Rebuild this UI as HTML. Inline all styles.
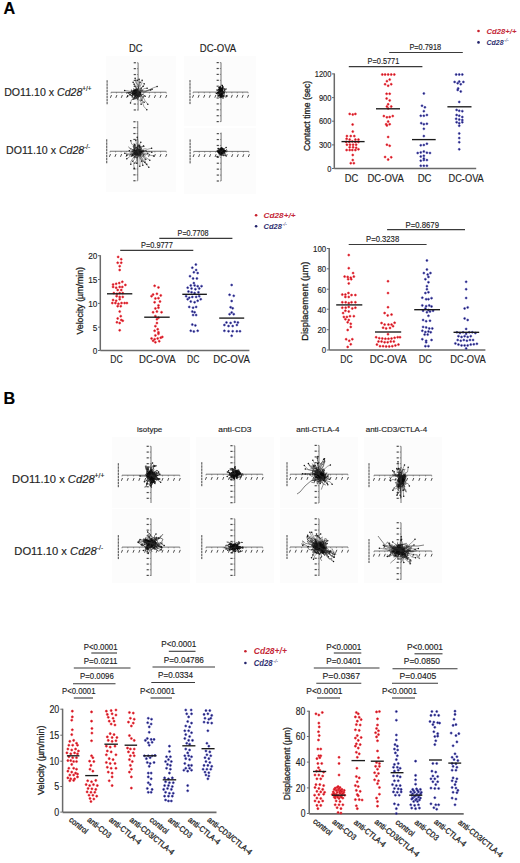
<!DOCTYPE html>
<html><head><meta charset="utf-8"><title>Figure</title>
<style>
html,body{margin:0;padding:0;background:#fff;}
body{width:520px;height:863px;overflow:hidden;}
svg{display:block;}
text{font-family:"Liberation Sans",sans-serif;stroke-width:0.15px;}
</style></head><body>
<svg width="520" height="863" viewBox="0 0 520 863" font-family="Liberation Sans, sans-serif">
<rect width="520" height="863" fill="#fff"/>
<text x="3.40" y="14.30" font-size="16.2" text-anchor="start" font-weight="bold" fill="#000" stroke="#000" >A</text>
<text x="3.50" y="403.80" font-size="16.2" text-anchor="start" font-weight="bold" fill="#000" stroke="#000" >B</text>
<text x="4.2" y="95.7" font-size="10.6" fill="#1e1e1e" stroke="#1e1e1e">DO11.10 x <tspan font-style="italic">Cd28</tspan><tspan font-size="6.36" dy="-4.45">+/+</tspan></text>
<text x="6.1" y="153.5" font-size="10.6" fill="#1e1e1e" stroke="#1e1e1e">DO11.10 x <tspan font-style="italic">Cd28</tspan><tspan font-size="6.36" dy="-4.45">-/-</tspan></text>
<text x="12.1" y="482.6" font-size="11.2" fill="#1e1e1e" stroke="#1e1e1e">DO11.10 x <tspan font-style="italic">Cd28</tspan><tspan font-size="6.72" dy="-4.70">+/+</tspan></text>
<text x="14.3" y="554.8" font-size="11.2" fill="#1e1e1e" stroke="#1e1e1e">DO11.10 x <tspan font-style="italic">Cd28</tspan><tspan font-size="6.72" dy="-4.70">-/-</tspan></text>
<text x="128.90" y="52.00" font-size="10.4" text-anchor="start" fill="#1e1e1e" stroke="#1e1e1e" textLength="13.50" lengthAdjust="spacingAndGlyphs" >DC</text>
<text x="199.80" y="52.00" font-size="10.4" text-anchor="start" fill="#1e1e1e" stroke="#1e1e1e" textLength="36.40" lengthAdjust="spacingAndGlyphs" >DC-OVA</text>
<text x="137.10" y="432.00" font-size="8" text-anchor="start" fill="#1e1e1e" stroke="#1e1e1e" textLength="25.20" lengthAdjust="spacingAndGlyphs" >isotype</text>
<text x="218.20" y="432.30" font-size="8" text-anchor="start" fill="#1e1e1e" stroke="#1e1e1e" textLength="33.30" lengthAdjust="spacingAndGlyphs" >anti-CD3</text>
<text x="296.30" y="432.30" font-size="8" text-anchor="start" fill="#1e1e1e" stroke="#1e1e1e" textLength="43.10" lengthAdjust="spacingAndGlyphs" >anti-CTLA-4</text>
<text x="365.70" y="432.30" font-size="8" text-anchor="start" fill="#1e1e1e" stroke="#1e1e1e" textLength="61.40" lengthAdjust="spacingAndGlyphs" >anti-CD3/CTLA-4</text>
<rect x="106" y="56" width="70" height="60" fill="#fcfcfc"/>
<rect x="184" y="56" width="72" height="70" fill="#fcfcfc"/>
<rect x="106" y="116" width="70" height="76" fill="#fcfcfc"/>
<rect x="184" y="128" width="72" height="66" fill="#fcfcfc"/>
<g fill="none" stroke="#111" stroke-width="0.6"><line x1="138.1" y1="62.75" x2="138.1" y2="110.6" stroke="#666" stroke-width="0.9"/>
<line x1="111" y1="92.25" x2="166.25" y2="92.25" stroke="#666" stroke-width="0.9"/>
<line x1="136.9" y1="62.75" x2="138.1" y2="62.75" stroke="#555" stroke-width="0.6"/>
<rect x="133.70" y="62.15" width="2.2" height="1.2" fill="#4a4a4a" stroke="none"/>
<line x1="136.9" y1="68.65" x2="138.1" y2="68.65" stroke="#555" stroke-width="0.6"/>
<rect x="133.70" y="68.05" width="2.2" height="1.2" fill="#4a4a4a" stroke="none"/>
<line x1="136.9" y1="74.55" x2="138.1" y2="74.55" stroke="#555" stroke-width="0.6"/>
<rect x="133.70" y="73.95" width="2.2" height="1.2" fill="#4a4a4a" stroke="none"/>
<line x1="136.9" y1="80.45" x2="138.1" y2="80.45" stroke="#555" stroke-width="0.6"/>
<rect x="133.70" y="79.85" width="2.2" height="1.2" fill="#4a4a4a" stroke="none"/>
<line x1="136.9" y1="86.35" x2="138.1" y2="86.35" stroke="#555" stroke-width="0.6"/>
<rect x="133.70" y="85.75" width="2.2" height="1.2" fill="#4a4a4a" stroke="none"/>
<line x1="136.9" y1="98.15" x2="138.1" y2="98.15" stroke="#555" stroke-width="0.6"/>
<rect x="133.70" y="97.55" width="2.2" height="1.2" fill="#4a4a4a" stroke="none"/>
<line x1="136.9" y1="104.05" x2="138.1" y2="104.05" stroke="#555" stroke-width="0.6"/>
<rect x="133.70" y="103.45" width="2.2" height="1.2" fill="#4a4a4a" stroke="none"/>
<line x1="136.9" y1="109.95" x2="138.1" y2="109.95" stroke="#555" stroke-width="0.6"/>
<rect x="133.70" y="109.35" width="2.2" height="1.2" fill="#4a4a4a" stroke="none"/>
<line x1="143.73" y1="92.25" x2="143.73" y2="93.45" stroke="#555" stroke-width="0.6"/>
<line x1="143.13" y1="97.85" x2="144.23" y2="95.05" stroke="#444" stroke-width="0.95"/>
<line x1="132.68" y1="92.25" x2="132.68" y2="93.45" stroke="#555" stroke-width="0.6"/>
<line x1="132.08" y1="97.85" x2="133.18" y2="95.05" stroke="#444" stroke-width="0.95"/>
<line x1="149.36" y1="92.25" x2="149.36" y2="93.45" stroke="#555" stroke-width="0.6"/>
<line x1="148.76" y1="97.85" x2="149.86" y2="95.05" stroke="#444" stroke-width="0.95"/>
<line x1="127.26" y1="92.25" x2="127.26" y2="93.45" stroke="#555" stroke-width="0.6"/>
<line x1="126.66" y1="97.85" x2="127.76" y2="95.05" stroke="#444" stroke-width="0.95"/>
<line x1="154.99" y1="92.25" x2="154.99" y2="93.45" stroke="#555" stroke-width="0.6"/>
<line x1="154.39" y1="97.85" x2="155.49" y2="95.05" stroke="#444" stroke-width="0.95"/>
<line x1="121.84" y1="92.25" x2="121.84" y2="93.45" stroke="#555" stroke-width="0.6"/>
<line x1="121.24" y1="97.85" x2="122.34" y2="95.05" stroke="#444" stroke-width="0.95"/>
<line x1="160.62" y1="92.25" x2="160.62" y2="93.45" stroke="#555" stroke-width="0.6"/>
<line x1="160.02" y1="97.85" x2="161.12" y2="95.05" stroke="#444" stroke-width="0.95"/>
<line x1="116.42" y1="92.25" x2="116.42" y2="93.45" stroke="#555" stroke-width="0.6"/>
<line x1="115.82" y1="97.85" x2="116.92" y2="95.05" stroke="#444" stroke-width="0.95"/>
<line x1="166.25" y1="92.25" x2="166.25" y2="93.45" stroke="#555" stroke-width="0.6"/>
<line x1="165.65" y1="97.85" x2="166.75" y2="95.05" stroke="#444" stroke-width="0.95"/>
<line x1="111.00" y1="92.25" x2="111.00" y2="93.45" stroke="#555" stroke-width="0.6"/>
<line x1="110.40" y1="97.85" x2="111.50" y2="95.05" stroke="#444" stroke-width="0.95"/>
<line x1="107.10" y1="80.25" x2="107.10" y2="104.25" stroke="#444" stroke-width="1.0" stroke-dasharray="2.5 0.6"/>
<g stroke="#0a0a0a" stroke-width="0.7"><polyline points="137.0,94.3 137.2,92.6 137.1,94.3 135.3,94.3 133.6,94.9 132.6,93.5 133.0,91.8"/><polyline points="135.8,92.9 136.7,91.4 135.1,92.1 135.2,90.4 137.0,90.4 135.3,91.0 135.0,89.3"/><polyline points="136.0,95.3 137.4,94.3 139.2,94.6 141.0,94.9 139.2,94.4 140.9,93.8 139.6,94.9"/><polyline points="135.8,93.8 137.6,94.1 137.9,95.8 136.3,96.5 134.5,96.5 134.7,98.2 134.9,99.9"/><polyline points="135.8,93.9 135.4,95.6 137.2,95.8 138.1,94.3 136.4,93.7 135.3,92.4 136.0,94.0"/><polyline points="137.8,92.7 139.1,93.8 138.2,95.3 137.9,93.6 137.4,92.0 139.1,91.3 137.5,92.1"/><polyline points="136.4,91.4 135.8,93.0 134.3,92.1 135.6,90.9 136.6,89.5 134.8,89.5 133.3,88.6"/><polyline points="136.4,92.9 136.9,91.3 135.4,92.2 136.2,93.7 134.5,93.2 134.0,91.5 133.2,90.0"/><polyline points="134.8,93.5 133.0,93.5 133.3,91.8 131.5,91.5 130.1,92.6 128.3,92.7 130.1,93.0"/><polyline points="137.3,93.2 139.0,93.0 137.5,92.1 136.1,93.1 137.0,94.6 135.2,94.6 137.0,94.4"/><polyline points="135.8,91.5 136.9,90.1 137.1,91.8 135.3,91.7 137.1,91.2 135.5,90.4 133.7,90.8"/><polyline points="135.4,94.1 137.2,93.6 139.0,93.7 139.3,92.0 140.1,90.4 141.5,89.3 141.4,87.6"/><polyline points="136.1,91.6 134.4,90.9 132.8,91.7 134.5,92.3 135.7,91.0 134.1,90.3 134.7,91.9"/><polyline points="134.3,92.7 133.2,94.1 132.2,95.5 130.4,95.1 129.2,93.9 127.8,92.7 126.0,93.2"/><polyline points="136.4,92.9 137.2,94.4 135.6,93.6 136.8,92.2 137.3,90.6 137.8,89.0 138.6,87.4"/><polyline points="135.5,94.8 134.7,93.2 136.3,94.1 138.0,94.3 139.8,94.4 139.9,92.7 139.9,94.4"/><polyline points="136.8,93.7 135.8,95.1 137.4,95.8 138.4,97.3 136.6,97.0 137.5,98.5 137.2,100.2"/><polyline points="135.3,91.6 134.5,93.2 132.7,93.5 134.5,93.7 133.2,94.8 131.6,95.6 132.3,97.2"/><polyline points="137.4,94.2 135.6,94.1 136.1,95.7 134.7,94.7 135.4,93.1 137.2,93.3 139.0,93.5"/><polyline points="136.7,94.1 137.6,95.5 137.1,93.9 136.3,92.3 134.6,91.9 134.9,93.6 136.7,93.3"/><polyline points="136.0,91.5 136.3,93.2 135.2,91.9 133.8,92.9 132.2,92.1 131.4,93.7 130.2,92.4"/><polyline points="136.5,93.1 138.2,92.7 139.5,91.5 138.9,93.1 140.0,91.8 139.4,93.4 141.0,92.7"/><polyline points="135.6,91.7 135.5,93.4 137.3,93.5 138.6,92.3 140.4,92.7 141.1,91.1 142.9,90.7"/><polyline points="135.0,92.5 136.2,91.2 138.0,90.9 137.5,89.3 135.7,89.2 134.4,90.4 133.3,91.8"/><polyline points="136.1,94.3 134.4,95.0 135.0,96.6 136.5,97.6 135.5,96.1 135.0,97.8 133.2,97.8"/><polyline points="134.6,94.6 136.0,93.6 137.8,93.8 138.4,95.5 137.5,97.0 139.3,96.8 139.7,95.2"/><polyline points="135.2,93.4 134.4,91.8 135.3,90.4 137.0,89.7 136.0,91.1 137.3,89.9 136.6,88.4"/><polyline points="132.4,93.0 132.6,94.8 132.3,93.1 133.9,93.9 134.7,95.4 136.3,94.5 136.7,96.2"/><polyline points="135.7,91.3 136.7,89.9 135.4,91.2 134.5,92.6 134.0,94.3 135.2,93.0 133.8,91.9"/><polyline points="137.8,92.1 139.0,93.4 137.3,92.9 138.7,93.9 140.5,94.3 142.1,95.1 143.3,93.8"/><polyline points="136.1,90.8 135.1,92.3 133.8,91.1 134.1,89.5 132.8,90.7 131.2,89.9 131.5,91.6"/><polyline points="136.4,93.2 137.7,92.1 136.1,91.4 137.7,90.6 136.0,91.1 135.7,92.8 136.1,91.1"/><polyline points="135.7,92.6 134.8,91.1 136.3,92.0 137.7,93.2 139.0,92.0 140.8,92.5 140.9,94.2"/><polyline points="136.7,92.7 138.1,93.8 139.0,95.3 139.1,97.0 139.0,95.3 140.5,96.3 142.0,95.4"/></g>
<polyline points="138.1,92.2 135.8,90.2 137.2,84.9 135.8,82.7 135.1,78.2" stroke="#2a2a2a" stroke-width="0.45"/>
<circle cx="135.1" cy="78.2" r="0.75" fill="#111" stroke="none"/>
<polyline points="138.1,92.2 140.0,89.9 140.2,86.3 141.8,83.2 142.1,80.2" stroke="#2a2a2a" stroke-width="0.45"/>
<circle cx="142.1" cy="80.2" r="0.75" fill="#111" stroke="none"/>
<polyline points="138.1,92.2 138.9,89.6 141.0,88.3 144.4,84.8 144.1,83.8" stroke="#2a2a2a" stroke-width="0.45"/>
<circle cx="144.1" cy="83.8" r="0.75" fill="#111" stroke="none"/>
<polyline points="138.1,92.2 143.2,90.8 147.8,90.5 153.3,87.8 157.1,86.5" stroke="#2a2a2a" stroke-width="0.45"/>
<circle cx="157.1" cy="86.5" r="0.75" fill="#111" stroke="none"/>
<polyline points="138.1,92.2 140.8,90.6 144.3,92.1 147.3,91.1 150.7,90.0" stroke="#2a2a2a" stroke-width="0.45"/>
<circle cx="150.7" cy="90.0" r="0.75" fill="#111" stroke="none"/>
<polyline points="138.1,92.2 141.1,95.6 143.8,98.2 144.7,100.3 147.8,104.2" stroke="#2a2a2a" stroke-width="0.45"/>
<circle cx="147.8" cy="104.2" r="0.75" fill="#111" stroke="none"/>
<polyline points="138.1,92.2 141.0,96.3 142.2,101.6 144.0,106.7 146.8,109.7" stroke="#2a2a2a" stroke-width="0.45"/>
<circle cx="146.8" cy="109.7" r="0.75" fill="#111" stroke="none"/>
<polyline points="138.1,92.2 136.7,94.5 133.8,98.5 131.5,99.8 130.5,103.0" stroke="#2a2a2a" stroke-width="0.45"/>
<circle cx="130.5" cy="103.0" r="0.75" fill="#111" stroke="none"/>
<polyline points="138.1,92.2 134.8,92.0 131.4,91.7 127.8,90.8 124.7,90.5" stroke="#2a2a2a" stroke-width="0.45"/>
<circle cx="124.7" cy="90.5" r="0.75" fill="#111" stroke="none"/>
<polyline points="138.1,92.2 136.5,93.8 132.5,95.6 128.6,95.3 127.6,96.2" stroke="#2a2a2a" stroke-width="0.45"/>
<circle cx="127.6" cy="96.2" r="0.75" fill="#111" stroke="none"/>
<polyline points="138.1,92.2 137.4,90.5 135.7,86.9 134.8,84.6 133.1,82.2" stroke="#2a2a2a" stroke-width="0.45"/>
<circle cx="133.1" cy="82.2" r="0.75" fill="#111" stroke="none"/>
<polyline points="138.1,92.2 138.7,86.7 138.9,85.1 139.6,83.1 139.1,79.2" stroke="#2a2a2a" stroke-width="0.45"/>
<circle cx="139.1" cy="79.2" r="0.75" fill="#111" stroke="none"/>
<polyline points="138.1,92.2 139.4,93.9 139.9,96.0 140.5,98.1 141.1,100.2" stroke="#2a2a2a" stroke-width="0.45"/>
<circle cx="141.1" cy="100.2" r="0.75" fill="#111" stroke="none"/>
<polyline points="138.1,92.2 136.9,95.3 137.7,93.6 137.3,95.6 136.1,98.2" stroke="#2a2a2a" stroke-width="0.45"/>
<circle cx="136.1" cy="98.2" r="0.75" fill="#111" stroke="none"/>
<polyline points="138.1,92.2 139.7,92.8 141.2,94.4 143.1,94.1 145.1,96.2" stroke="#2a2a2a" stroke-width="0.45"/>
<circle cx="145.1" cy="96.2" r="0.75" fill="#111" stroke="none"/>
<polyline points="138.1,92.2 137.8,89.5 139.0,85.9 136.4,82.9 137.1,80.2" stroke="#2a2a2a" stroke-width="0.45"/>
<circle cx="137.1" cy="80.2" r="0.75" fill="#111" stroke="none"/>
<polyline points="138.1,92.2 139.1,89.0 138.5,87.7 139.6,84.9 140.1,82.2" stroke="#2a2a2a" stroke-width="0.45"/>
<circle cx="140.1" cy="82.2" r="0.75" fill="#111" stroke="none"/>
<polyline points="138.1,92.2 136.6,89.6 135.8,88.1 134.8,86.6 134.1,84.2" stroke="#2a2a2a" stroke-width="0.45"/>
<circle cx="134.1" cy="84.2" r="0.75" fill="#111" stroke="none"/>
<polyline points="138.1,92.2 139.8,91.2 141.0,88.5 141.0,88.4 143.1,86.2" stroke="#2a2a2a" stroke-width="0.45"/>
<circle cx="143.1" cy="86.2" r="0.75" fill="#111" stroke="none"/>
<polyline points="138.1,92.2 140.4,91.3 141.7,90.1 144.3,88.6 147.1,88.2" stroke="#2a2a2a" stroke-width="0.45"/>
<circle cx="147.1" cy="88.2" r="0.75" fill="#111" stroke="none"/>
<polyline points="138.1,92.2 141.1,90.3 145.2,91.7 148.0,90.1 152.1,89.2" stroke="#2a2a2a" stroke-width="0.45"/>
<circle cx="152.1" cy="89.2" r="0.75" fill="#111" stroke="none"/>
<polyline points="138.1,92.2 138.7,95.3 142.6,96.3 142.4,100.9 144.1,102.2" stroke="#2a2a2a" stroke-width="0.45"/>
<circle cx="144.1" cy="102.2" r="0.75" fill="#111" stroke="none"/>
<polyline points="138.1,92.2 139.1,95.3 138.0,98.1 141.1,102.4 141.1,104.2" stroke="#2a2a2a" stroke-width="0.45"/>
<circle cx="141.1" cy="104.2" r="0.75" fill="#111" stroke="none"/>
<polyline points="138.1,92.2 137.4,93.5 135.1,94.3 133.5,98.4 133.1,99.2" stroke="#2a2a2a" stroke-width="0.45"/>
<circle cx="133.1" cy="99.2" r="0.75" fill="#111" stroke="none"/>
<polyline points="138.1,92.2 136.0,91.7 135.2,91.9 133.1,93.5 130.1,94.2" stroke="#2a2a2a" stroke-width="0.45"/>
<circle cx="130.1" cy="94.2" r="0.75" fill="#111" stroke="none"/></g>
<g fill="none" stroke="#111" stroke-width="0.6"><line x1="221" y1="62.5" x2="221" y2="121.8" stroke="#666" stroke-width="0.9"/>
<line x1="193.1" y1="92.1" x2="248.1" y2="92.1" stroke="#666" stroke-width="0.9"/>
<line x1="219.8" y1="62.60" x2="221" y2="62.60" stroke="#555" stroke-width="0.6"/>
<rect x="216.60" y="62.00" width="2.2" height="1.2" fill="#4a4a4a" stroke="none"/>
<line x1="219.8" y1="68.50" x2="221" y2="68.50" stroke="#555" stroke-width="0.6"/>
<rect x="216.60" y="67.90" width="2.2" height="1.2" fill="#4a4a4a" stroke="none"/>
<line x1="219.8" y1="74.40" x2="221" y2="74.40" stroke="#555" stroke-width="0.6"/>
<rect x="216.60" y="73.80" width="2.2" height="1.2" fill="#4a4a4a" stroke="none"/>
<line x1="219.8" y1="80.30" x2="221" y2="80.30" stroke="#555" stroke-width="0.6"/>
<rect x="216.60" y="79.70" width="2.2" height="1.2" fill="#4a4a4a" stroke="none"/>
<line x1="219.8" y1="86.20" x2="221" y2="86.20" stroke="#555" stroke-width="0.6"/>
<rect x="216.60" y="85.60" width="2.2" height="1.2" fill="#4a4a4a" stroke="none"/>
<line x1="219.8" y1="98.00" x2="221" y2="98.00" stroke="#555" stroke-width="0.6"/>
<rect x="216.60" y="97.40" width="2.2" height="1.2" fill="#4a4a4a" stroke="none"/>
<line x1="219.8" y1="103.90" x2="221" y2="103.90" stroke="#555" stroke-width="0.6"/>
<rect x="216.60" y="103.30" width="2.2" height="1.2" fill="#4a4a4a" stroke="none"/>
<line x1="219.8" y1="109.80" x2="221" y2="109.80" stroke="#555" stroke-width="0.6"/>
<rect x="216.60" y="109.20" width="2.2" height="1.2" fill="#4a4a4a" stroke="none"/>
<line x1="219.8" y1="115.70" x2="221" y2="115.70" stroke="#555" stroke-width="0.6"/>
<rect x="216.60" y="115.10" width="2.2" height="1.2" fill="#4a4a4a" stroke="none"/>
<line x1="219.8" y1="121.60" x2="221" y2="121.60" stroke="#555" stroke-width="0.6"/>
<rect x="216.60" y="121.00" width="2.2" height="1.2" fill="#4a4a4a" stroke="none"/>
<line x1="226.42" y1="92.1" x2="226.42" y2="93.3" stroke="#555" stroke-width="0.6"/>
<line x1="225.82" y1="97.70" x2="226.92" y2="94.90" stroke="#444" stroke-width="0.95"/>
<line x1="215.42" y1="92.1" x2="215.42" y2="93.3" stroke="#555" stroke-width="0.6"/>
<line x1="214.82" y1="97.70" x2="215.92" y2="94.90" stroke="#444" stroke-width="0.95"/>
<line x1="231.84" y1="92.1" x2="231.84" y2="93.3" stroke="#555" stroke-width="0.6"/>
<line x1="231.24" y1="97.70" x2="232.34" y2="94.90" stroke="#444" stroke-width="0.95"/>
<line x1="209.84" y1="92.1" x2="209.84" y2="93.3" stroke="#555" stroke-width="0.6"/>
<line x1="209.24" y1="97.70" x2="210.34" y2="94.90" stroke="#444" stroke-width="0.95"/>
<line x1="237.26" y1="92.1" x2="237.26" y2="93.3" stroke="#555" stroke-width="0.6"/>
<line x1="236.66" y1="97.70" x2="237.76" y2="94.90" stroke="#444" stroke-width="0.95"/>
<line x1="204.26" y1="92.1" x2="204.26" y2="93.3" stroke="#555" stroke-width="0.6"/>
<line x1="203.66" y1="97.70" x2="204.76" y2="94.90" stroke="#444" stroke-width="0.95"/>
<line x1="242.68" y1="92.1" x2="242.68" y2="93.3" stroke="#555" stroke-width="0.6"/>
<line x1="242.08" y1="97.70" x2="243.18" y2="94.90" stroke="#444" stroke-width="0.95"/>
<line x1="198.68" y1="92.1" x2="198.68" y2="93.3" stroke="#555" stroke-width="0.6"/>
<line x1="198.08" y1="97.70" x2="199.18" y2="94.90" stroke="#444" stroke-width="0.95"/>
<line x1="248.10" y1="92.1" x2="248.10" y2="93.3" stroke="#555" stroke-width="0.6"/>
<line x1="247.50" y1="97.70" x2="248.60" y2="94.90" stroke="#444" stroke-width="0.95"/>
<line x1="193.10" y1="92.1" x2="193.10" y2="93.3" stroke="#555" stroke-width="0.6"/>
<line x1="192.50" y1="97.70" x2="193.60" y2="94.90" stroke="#444" stroke-width="0.95"/>
<line x1="190.00" y1="80.10" x2="190.00" y2="104.10" stroke="#444" stroke-width="1.0" stroke-dasharray="2.5 0.6"/>
<g stroke="#0a0a0a" stroke-width="1.0"><polyline points="222.4,91.5 223.3,92.1 224.2,92.9 224.8,91.5 224.7,89.8 224.2,88.3"/><polyline points="220.7,93.3 219.9,92.3 219.0,91.4 219.6,92.8 218.6,93.6 217.8,94.6"/><polyline points="220.7,89.1 221.7,88.6 220.7,88.1 219.7,88.7 219.6,90.3 220.6,90.7"/><polyline points="221.6,92.3 221.2,93.8 220.4,95.0 221.3,93.9 220.2,93.6 219.3,93.0"/><polyline points="221.0,92.3 220.5,93.8 221.2,95.1 220.2,95.0 221.2,95.0 220.7,93.5"/><polyline points="221.5,93.9 221.8,92.3 221.7,90.6 222.6,89.7 222.7,88.0 222.9,86.4"/><polyline points="220.0,94.2 221.0,93.8 221.6,95.2 221.6,93.6 221.4,91.9 220.4,92.3"/><polyline points="220.3,91.9 221.3,91.1 220.2,91.1 220.7,89.6 220.1,91.0 220.9,89.9"/><polyline points="221.5,91.5 220.6,90.8 221.5,90.0 221.3,88.3 220.3,88.5 220.5,90.1"/><polyline points="220.6,93.4 221.1,94.9 222.0,93.9 221.9,95.6 222.7,94.7 222.4,96.3"/><polyline points="221.9,91.7 220.8,91.7 219.8,91.5 219.2,90.1 218.3,89.2 217.9,90.8"/><polyline points="221.2,93.2 222.1,92.5 221.4,91.3 222.3,92.1 222.8,90.6 222.6,88.9"/><polyline points="221.3,91.8 221.3,90.1 222.2,90.7 221.7,89.3 221.5,91.0 221.7,92.6"/><polyline points="221.2,91.8 220.2,91.5 220.8,90.2 220.8,91.9 221.1,93.5 221.8,92.4"/><polyline points="220.2,92.8 221.2,93.1 220.5,94.4 221.0,95.9 220.5,94.4 221.4,95.3"/><polyline points="221.1,92.0 221.0,90.4 222.0,90.6 222.0,92.3 222.4,90.7 223.0,92.1"/><polyline points="221.4,93.4 220.6,94.5 221.6,95.0 222.6,94.9 223.2,96.3 224.2,96.6"/><polyline points="220.6,93.2 220.5,91.5 221.3,92.6 220.7,94.0 221.8,94.4 220.8,94.9"/><polyline points="221.1,90.6 221.9,89.6 222.0,87.9 222.7,86.6 222.4,85.0 221.3,85.3"/><polyline points="221.1,93.5 220.7,95.0 221.5,96.0 220.6,96.6 221.3,95.4 222.0,96.6"/><polyline points="220.5,91.6 219.5,91.5 220.1,92.8 221.1,92.4 221.1,94.1 220.2,93.0"/><polyline points="220.9,92.2 219.9,91.6 220.6,92.9 221.6,93.5 222.6,93.8 223.1,95.3"/><polyline points="221.7,92.9 220.6,92.8 221.7,92.6 222.6,91.9 223.7,91.9 223.8,93.5"/><polyline points="220.6,92.3 219.7,91.4 219.0,90.2 219.3,88.6 219.0,87.0 219.0,88.7"/><polyline points="220.4,92.6 221.4,92.7 222.4,93.1 221.5,94.0 222.3,95.1 222.2,93.4"/><polyline points="221.0,92.5 221.4,94.1 221.6,95.7 221.8,97.4 220.7,97.2 219.7,97.5"/><polyline points="220.7,93.4 220.9,95.0 221.8,94.1 222.8,93.7 222.7,92.0 221.7,92.7"/><polyline points="220.2,92.0 221.2,92.5 220.3,93.4 219.3,93.1 219.7,94.6 220.6,95.6"/><polyline points="221.2,91.2 220.1,91.0 221.1,90.2 220.3,89.2 220.0,90.8 221.0,90.6"/><polyline points="220.9,92.2 220.5,90.7 221.3,91.7 221.0,93.3 221.5,91.8 221.1,90.4"/><polyline points="221.6,92.2 220.8,93.1 219.7,93.2 220.0,94.9 219.1,94.0 220.0,94.7"/><polyline points="220.9,93.0 221.8,92.3 222.8,93.1 222.8,91.4 223.2,93.0 222.2,92.3"/><polyline points="220.5,92.8 220.5,91.1 219.7,92.1 220.4,93.3 221.2,94.4 222.1,95.3"/><polyline points="221.5,91.0 222.5,90.6 222.1,89.0 223.2,89.3 222.6,87.9 222.8,86.2"/><polyline points="220.9,91.0 220.2,92.3 219.2,92.8 219.6,91.2 219.4,92.8 218.4,92.6"/><polyline points="219.6,92.4 219.9,90.8 220.9,90.1 221.4,88.7 221.1,90.3 221.2,92.0"/><polyline points="220.6,92.2 219.6,92.9 219.2,91.4 220.1,90.5 219.2,89.7 219.6,88.1"/><polyline points="221.4,92.6 222.5,92.6 223.1,93.9 222.2,94.8 223.2,95.4 224.1,96.3"/><polyline points="222.4,90.4 221.8,89.0 222.5,90.2 222.2,91.9 222.3,93.5 221.8,92.1"/><polyline points="220.7,91.2 219.7,90.9 220.5,92.0 219.5,91.6 220.5,91.1 220.5,89.4"/><polyline points="221.6,92.7 221.4,91.1 221.3,92.8 222.1,91.7 221.1,92.2 220.8,90.5"/><polyline points="219.4,93.8 219.7,92.2 218.7,91.4 219.4,92.8 218.4,93.4 219.4,93.7"/><polyline points="220.0,91.0 220.4,92.5 219.4,92.4 218.4,92.6 217.5,93.6 217.3,91.9"/><polyline points="221.8,91.5 220.8,91.8 221.8,91.4 221.3,92.9 221.3,91.2 220.7,89.8"/><polyline points="221.1,90.3 221.2,91.9 220.5,90.8 219.6,91.7 219.1,90.3 220.2,90.0"/><polyline points="220.9,92.0 219.9,92.4 219.7,90.7 220.5,89.6 219.8,88.2 220.3,86.7"/><polyline points="222.4,92.3 222.2,90.7 221.4,89.6 222.3,88.7 223.1,87.6 223.9,88.6"/><polyline points="221.4,90.6 221.7,92.2 221.7,90.5 220.8,89.7 221.2,91.2 221.5,89.7"/><polyline points="221.5,93.1 220.6,93.8 220.5,95.4 219.6,94.8 218.6,95.1 218.9,96.7"/><polyline points="221.2,92.0 222.3,92.1 221.2,92.2 221.8,90.8 221.2,89.4 221.2,87.7"/><polyline points="220.1,92.2 219.6,93.7 219.5,95.4 218.5,95.3 219.5,95.6 220.4,96.4"/><polyline points="221.0,91.5 221.0,89.8 221.2,88.2 220.4,89.1 219.9,87.6 220.1,86.0"/><polyline points="221.2,91.7 221.7,93.2 221.0,94.3 220.0,94.7 219.7,96.3 220.7,96.4"/><polyline points="219.6,91.2 218.9,92.5 217.9,92.1 217.1,93.2 216.1,93.8 216.9,92.6"/><polyline points="220.7,93.4 219.7,93.5 218.7,93.1 219.6,92.3 220.5,93.1 220.9,91.6"/><polyline points="220.7,93.4 221.0,91.8 220.4,90.4 219.6,91.4 220.2,90.0 221.0,90.9"/><polyline points="220.6,91.4 219.6,91.1 220.2,89.7 220.5,88.1 219.8,86.9 219.4,88.5"/><polyline points="221.1,93.1 221.2,94.8 221.0,96.5 222.0,96.0 222.8,97.1 223.2,95.6"/><polyline points="220.6,92.7 220.2,94.3 221.1,95.0 220.1,95.5 220.6,96.9 219.6,97.5"/><polyline points="220.7,94.0 221.6,93.2 220.6,93.8 220.0,92.5 220.9,91.8 220.4,93.3"/></g>
<polyline points="221.0,92.1 222.7,91.7 223.9,91.7 224.2,90.4 226.0,89.1" stroke="#2a2a2a" stroke-width="0.6"/>
<circle cx="226.0" cy="89.1" r="0.75" fill="#111" stroke="none"/>
<polyline points="221.0,92.1 222.7,92.5 224.4,93.0 224.3,96.0 227.0,96.1" stroke="#2a2a2a" stroke-width="0.6"/>
<circle cx="227.0" cy="96.1" r="0.75" fill="#111" stroke="none"/>
<polyline points="221.0,92.1 219.4,94.5 220.3,93.7 218.0,93.3 218.0,96.1" stroke="#2a2a2a" stroke-width="0.6"/>
<circle cx="218.0" cy="96.1" r="0.75" fill="#111" stroke="none"/>
<polyline points="221.0,92.1 221.4,92.3 223.3,93.7 222.5,94.4 223.0,98.1" stroke="#2a2a2a" stroke-width="0.6"/>
<circle cx="223.0" cy="98.1" r="0.75" fill="#111" stroke="none"/>
<polyline points="221.0,92.1 219.7,92.7 218.6,90.4 217.6,90.9 217.0,90.1" stroke="#2a2a2a" stroke-width="0.6"/>
<circle cx="217.0" cy="90.1" r="0.75" fill="#111" stroke="none"/></g>
<g fill="none" stroke="#111" stroke-width="0.6"><line x1="137.75" y1="121.25" x2="137.75" y2="180.6" stroke="#666" stroke-width="0.9"/>
<line x1="110" y1="151.25" x2="166.25" y2="151.25" stroke="#666" stroke-width="0.9"/>
<line x1="136.55" y1="121.75" x2="137.75" y2="121.75" stroke="#555" stroke-width="0.6"/>
<rect x="133.35" y="121.15" width="2.2" height="1.2" fill="#4a4a4a" stroke="none"/>
<line x1="136.55" y1="127.65" x2="137.75" y2="127.65" stroke="#555" stroke-width="0.6"/>
<rect x="133.35" y="127.05" width="2.2" height="1.2" fill="#4a4a4a" stroke="none"/>
<line x1="136.55" y1="133.55" x2="137.75" y2="133.55" stroke="#555" stroke-width="0.6"/>
<rect x="133.35" y="132.95" width="2.2" height="1.2" fill="#4a4a4a" stroke="none"/>
<line x1="136.55" y1="139.45" x2="137.75" y2="139.45" stroke="#555" stroke-width="0.6"/>
<rect x="133.35" y="138.85" width="2.2" height="1.2" fill="#4a4a4a" stroke="none"/>
<line x1="136.55" y1="145.35" x2="137.75" y2="145.35" stroke="#555" stroke-width="0.6"/>
<rect x="133.35" y="144.75" width="2.2" height="1.2" fill="#4a4a4a" stroke="none"/>
<line x1="136.55" y1="157.15" x2="137.75" y2="157.15" stroke="#555" stroke-width="0.6"/>
<rect x="133.35" y="156.55" width="2.2" height="1.2" fill="#4a4a4a" stroke="none"/>
<line x1="136.55" y1="163.05" x2="137.75" y2="163.05" stroke="#555" stroke-width="0.6"/>
<rect x="133.35" y="162.45" width="2.2" height="1.2" fill="#4a4a4a" stroke="none"/>
<line x1="136.55" y1="168.95" x2="137.75" y2="168.95" stroke="#555" stroke-width="0.6"/>
<rect x="133.35" y="168.35" width="2.2" height="1.2" fill="#4a4a4a" stroke="none"/>
<line x1="136.55" y1="174.85" x2="137.75" y2="174.85" stroke="#555" stroke-width="0.6"/>
<rect x="133.35" y="174.25" width="2.2" height="1.2" fill="#4a4a4a" stroke="none"/>
<line x1="136.55" y1="180.75" x2="137.75" y2="180.75" stroke="#555" stroke-width="0.6"/>
<rect x="133.35" y="180.15" width="2.2" height="1.2" fill="#4a4a4a" stroke="none"/>
<line x1="143.45" y1="151.25" x2="143.45" y2="152.45" stroke="#555" stroke-width="0.6"/>
<line x1="142.85" y1="156.85" x2="143.95" y2="154.05" stroke="#444" stroke-width="0.95"/>
<line x1="132.20" y1="151.25" x2="132.20" y2="152.45" stroke="#555" stroke-width="0.6"/>
<line x1="131.60" y1="156.85" x2="132.70" y2="154.05" stroke="#444" stroke-width="0.95"/>
<line x1="149.15" y1="151.25" x2="149.15" y2="152.45" stroke="#555" stroke-width="0.6"/>
<line x1="148.55" y1="156.85" x2="149.65" y2="154.05" stroke="#444" stroke-width="0.95"/>
<line x1="126.65" y1="151.25" x2="126.65" y2="152.45" stroke="#555" stroke-width="0.6"/>
<line x1="126.05" y1="156.85" x2="127.15" y2="154.05" stroke="#444" stroke-width="0.95"/>
<line x1="154.85" y1="151.25" x2="154.85" y2="152.45" stroke="#555" stroke-width="0.6"/>
<line x1="154.25" y1="156.85" x2="155.35" y2="154.05" stroke="#444" stroke-width="0.95"/>
<line x1="121.10" y1="151.25" x2="121.10" y2="152.45" stroke="#555" stroke-width="0.6"/>
<line x1="120.50" y1="156.85" x2="121.60" y2="154.05" stroke="#444" stroke-width="0.95"/>
<line x1="160.55" y1="151.25" x2="160.55" y2="152.45" stroke="#555" stroke-width="0.6"/>
<line x1="159.95" y1="156.85" x2="161.05" y2="154.05" stroke="#444" stroke-width="0.95"/>
<line x1="115.55" y1="151.25" x2="115.55" y2="152.45" stroke="#555" stroke-width="0.6"/>
<line x1="114.95" y1="156.85" x2="116.05" y2="154.05" stroke="#444" stroke-width="0.95"/>
<line x1="166.25" y1="151.25" x2="166.25" y2="152.45" stroke="#555" stroke-width="0.6"/>
<line x1="165.65" y1="156.85" x2="166.75" y2="154.05" stroke="#444" stroke-width="0.95"/>
<line x1="110.00" y1="151.25" x2="110.00" y2="152.45" stroke="#555" stroke-width="0.6"/>
<line x1="109.40" y1="156.85" x2="110.50" y2="154.05" stroke="#444" stroke-width="0.95"/>
<line x1="106.75" y1="139.25" x2="106.75" y2="163.25" stroke="#444" stroke-width="1.0" stroke-dasharray="2.5 0.6"/>
<g stroke="#0a0a0a" stroke-width="0.6"><polyline points="137.9,153.8 136.5,155.3 134.9,154.1 133.4,152.6 135.3,153.4 137.3,153.6 138.4,151.9"/><polyline points="137.7,153.2 139.7,153.1 137.7,153.5 138.8,151.7 136.8,152.0 135.5,150.5 136.7,152.1"/><polyline points="136.1,150.4 134.1,150.1 134.0,148.0 133.0,146.2 134.9,147.0 135.0,145.0 133.3,143.9"/><polyline points="137.7,152.5 139.0,151.0 137.0,151.4 136.6,149.4 138.1,148.0 137.6,146.0 139.4,145.0"/><polyline points="136.0,153.6 134.1,154.3 135.9,153.5 137.4,152.1 139.1,153.3 140.4,154.8 140.8,156.8"/><polyline points="139.1,152.0 137.6,150.5 137.0,152.4 134.9,152.3 133.4,153.7 132.2,155.3 130.4,154.3"/><polyline points="135.4,150.9 134.6,149.0 136.4,148.1 137.7,146.5 139.7,146.4 138.7,144.6 139.8,146.4"/><polyline points="139.8,149.8 141.5,148.6 139.7,147.8 139.2,145.8 139.7,147.8 140.7,146.0 138.9,145.1"/><polyline points="137.7,152.7 138.9,151.1 140.9,150.9 142.7,152.0 143.3,150.1 141.6,151.2 142.8,152.8"/><polyline points="137.2,154.3 138.6,152.8 140.6,153.4 139.0,152.1 141.0,152.6 140.6,150.6 139.6,152.4"/><polyline points="140.3,149.9 138.3,149.8 140.3,149.8 139.6,151.7 141.4,152.6 139.7,151.4 141.7,151.8"/><polyline points="138.2,153.5 136.6,152.2 137.7,153.9 139.7,154.4 141.1,152.9 140.3,154.8 142.3,154.2"/><polyline points="138.7,151.5 136.7,152.0 134.7,151.8 133.5,150.2 131.8,149.0 129.9,148.3 128.4,146.9"/><polyline points="139.1,151.7 137.3,152.6 136.9,150.6 137.1,152.6 136.4,154.5 138.4,154.2 136.4,154.0"/><polyline points="137.6,152.2 135.8,153.2 134.0,152.2 136.0,152.5 134.5,151.1 133.1,149.6 135.0,150.4"/><polyline points="136.8,151.2 135.9,149.4 134.7,151.0 134.1,149.1 134.0,147.0 136.0,147.3 137.9,148.1"/><polyline points="136.3,149.4 136.3,151.4 134.3,152.0 132.6,150.8 131.8,152.7 130.4,154.2 129.6,156.1"/><polyline points="136.6,153.5 136.0,155.4 134.5,156.8 134.8,154.8 136.8,155.2 135.0,154.3 134.8,152.3"/><polyline points="137.4,153.1 138.1,151.1 138.2,153.2 139.0,155.1 137.2,155.9 136.5,153.9 138.1,155.2"/><polyline points="137.3,153.3 138.3,151.5 136.4,152.3 137.6,150.7 138.6,152.4 137.6,154.2 136.4,152.5"/><polyline points="138.8,151.3 139.1,153.4 140.6,154.8 138.6,154.4 139.3,156.3 140.0,154.4 141.1,152.6"/><polyline points="138.2,153.2 138.9,151.3 137.6,149.7 138.3,147.8 137.2,149.4 138.6,150.9 138.0,152.9"/><polyline points="138.0,151.3 136.9,153.0 135.1,154.0 133.3,155.0 131.6,156.1 133.4,155.1 134.5,156.8"/><polyline points="140.7,152.3 142.2,150.9 144.3,150.8 142.4,151.6 144.3,151.0 146.2,150.1 146.5,152.1"/><polyline points="137.7,149.9 136.6,148.1 134.6,147.9 134.1,149.9 133.0,151.6 133.3,153.6 135.1,154.4"/><polyline points="136.9,151.7 137.6,149.8 139.6,150.4 141.3,149.2 140.6,147.3 142.4,146.4 144.0,145.1"/><polyline points="139.1,151.3 141.1,151.5 141.0,149.4 142.0,151.2 141.4,153.2 140.3,151.4 138.3,151.1"/><polyline points="135.2,153.8 133.7,152.5 132.6,154.2 132.5,156.2 133.8,154.6 131.8,154.9 132.2,152.9"/><polyline points="137.3,152.9 135.3,152.5 136.1,150.6 137.1,152.4 137.6,150.4 139.4,149.5 140.1,147.6"/><polyline points="137.8,152.1 136.4,150.6 137.7,149.1 139.7,149.7 139.4,151.7 139.2,153.8 137.2,153.4"/><polyline points="136.5,152.9 136.8,150.9 138.9,150.9 140.8,151.6 142.2,153.1 143.7,154.5 145.5,155.4"/><polyline points="140.2,151.9 141.9,152.9 139.9,152.9 139.1,154.8 138.3,156.6 137.0,158.3 135.8,156.6"/></g>
<polyline points="137.8,151.2 137.0,147.4 137.8,144.9 138.1,141.5 137.2,137.2" stroke="#2a2a2a" stroke-width="0.45"/>
<circle cx="137.2" cy="137.2" r="0.75" fill="#111" stroke="none"/>
<polyline points="137.8,151.2 135.8,147.8 134.7,146.2 131.7,144.1 130.8,140.7" stroke="#2a2a2a" stroke-width="0.45"/>
<circle cx="130.8" cy="140.7" r="0.75" fill="#111" stroke="none"/>
<polyline points="137.8,151.2 141.4,149.7 145.0,148.7 147.4,149.3 151.6,148.2" stroke="#2a2a2a" stroke-width="0.45"/>
<circle cx="151.6" cy="148.2" r="0.75" fill="#111" stroke="none"/>
<polyline points="137.8,151.2 140.5,152.5 144.6,154.2 149.0,154.9 153.6,155.9" stroke="#2a2a2a" stroke-width="0.45"/>
<circle cx="153.6" cy="155.9" r="0.75" fill="#111" stroke="none"/>
<polyline points="137.8,151.2 135.7,155.2 136.8,160.1 133.7,164.7 134.2,168.2" stroke="#2a2a2a" stroke-width="0.45"/>
<circle cx="134.2" cy="168.2" r="0.75" fill="#111" stroke="none"/>
<polyline points="137.8,151.2 141.2,154.9 144.4,158.4 145.9,164.1 148.8,167.2" stroke="#2a2a2a" stroke-width="0.45"/>
<circle cx="148.8" cy="167.2" r="0.75" fill="#111" stroke="none"/>
<polyline points="137.8,151.2 140.0,155.8 139.4,156.8 141.8,160.6 142.8,165.2" stroke="#2a2a2a" stroke-width="0.45"/>
<circle cx="142.8" cy="165.2" r="0.75" fill="#111" stroke="none"/>
<polyline points="137.8,151.2 134.9,151.2 133.1,153.9 129.9,154.3 126.8,155.2" stroke="#2a2a2a" stroke-width="0.45"/>
<circle cx="126.8" cy="155.2" r="0.75" fill="#111" stroke="none"/>
<polyline points="137.8,151.2 135.0,152.9 132.6,155.2 129.9,156.5 126.8,158.8" stroke="#2a2a2a" stroke-width="0.45"/>
<circle cx="126.8" cy="158.8" r="0.75" fill="#111" stroke="none"/>
<polyline points="137.8,151.2 137.2,151.4 134.7,152.1 130.7,149.5 129.3,150.8" stroke="#2a2a2a" stroke-width="0.45"/>
<circle cx="129.3" cy="150.8" r="0.75" fill="#111" stroke="none"/>
<polyline points="137.8,151.2 139.5,148.7 139.3,146.5 140.1,143.5 140.8,142.2" stroke="#2a2a2a" stroke-width="0.45"/>
<circle cx="140.8" cy="142.2" r="0.75" fill="#111" stroke="none"/>
<polyline points="137.8,151.2 139.7,152.9 141.7,153.4 144.4,157.5 145.8,159.2" stroke="#2a2a2a" stroke-width="0.45"/>
<circle cx="145.8" cy="159.2" r="0.75" fill="#111" stroke="none"/>
<polyline points="137.8,151.2 135.1,153.2 135.3,156.8 134.0,159.9 132.8,161.2" stroke="#2a2a2a" stroke-width="0.45"/>
<circle cx="132.8" cy="161.2" r="0.75" fill="#111" stroke="none"/>
<polyline points="137.8,151.2 140.3,150.9 142.2,152.8 144.8,153.4 147.8,153.2" stroke="#2a2a2a" stroke-width="0.45"/>
<circle cx="147.8" cy="153.2" r="0.75" fill="#111" stroke="none"/>
<polyline points="137.8,151.2 138.1,149.0 137.6,145.6 136.2,142.5 135.8,140.2" stroke="#2a2a2a" stroke-width="0.45"/>
<circle cx="135.8" cy="140.2" r="0.75" fill="#111" stroke="none"/>
<polyline points="137.8,151.2 138.8,148.7 140.3,147.9 141.1,147.6 143.8,146.2" stroke="#2a2a2a" stroke-width="0.45"/>
<circle cx="143.8" cy="146.2" r="0.75" fill="#111" stroke="none"/>
<polyline points="137.8,151.2 138.6,154.7 139.8,159.5 140.1,162.0 139.8,166.2" stroke="#2a2a2a" stroke-width="0.45"/>
<circle cx="139.8" cy="166.2" r="0.75" fill="#111" stroke="none"/>
<polyline points="137.8,151.2 136.3,154.7 137.5,157.8 137.3,161.3 136.8,163.2" stroke="#2a2a2a" stroke-width="0.45"/>
<circle cx="136.8" cy="163.2" r="0.75" fill="#111" stroke="none"/>
<polyline points="137.8,151.2 139.3,154.5 140.5,154.9 142.6,160.7 144.8,162.2" stroke="#2a2a2a" stroke-width="0.45"/>
<circle cx="144.8" cy="162.2" r="0.75" fill="#111" stroke="none"/>
<polyline points="137.8,151.2 139.4,154.3 143.2,155.4 146.8,158.2 149.8,160.2" stroke="#2a2a2a" stroke-width="0.45"/>
<circle cx="149.8" cy="160.2" r="0.75" fill="#111" stroke="none"/>
<polyline points="137.8,151.2 139.2,154.6 142.6,158.4 143.9,162.2 146.8,164.2" stroke="#2a2a2a" stroke-width="0.45"/>
<circle cx="146.8" cy="164.2" r="0.75" fill="#111" stroke="none"/>
<polyline points="137.8,151.2 137.5,156.4 133.2,157.9 131.0,161.3 130.8,164.2" stroke="#2a2a2a" stroke-width="0.45"/>
<circle cx="130.8" cy="164.2" r="0.75" fill="#111" stroke="none"/>
<polyline points="137.8,151.2 141.7,150.6 143.5,151.9 148.8,151.4 151.8,152.2" stroke="#2a2a2a" stroke-width="0.45"/>
<circle cx="151.8" cy="152.2" r="0.75" fill="#111" stroke="none"/>
<polyline points="137.8,151.2 134.3,149.7 130.7,152.4 128.1,154.0 124.8,153.2" stroke="#2a2a2a" stroke-width="0.45"/>
<circle cx="124.8" cy="153.2" r="0.75" fill="#111" stroke="none"/>
<polyline points="137.8,151.2 137.8,151.9 140.1,155.8 141.0,159.3 141.8,161.2" stroke="#2a2a2a" stroke-width="0.45"/>
<circle cx="141.8" cy="161.2" r="0.75" fill="#111" stroke="none"/>
<polyline points="137.8,151.2 137.5,150.7 137.3,146.4 135.4,147.6 134.8,144.2" stroke="#2a2a2a" stroke-width="0.45"/>
<circle cx="134.8" cy="144.2" r="0.75" fill="#111" stroke="none"/></g>
<g fill="none" stroke="#111" stroke-width="0.6"><line x1="221.1" y1="132.6" x2="221.1" y2="181" stroke="#666" stroke-width="0.9"/>
<line x1="193.7" y1="151.4" x2="248.9" y2="151.4" stroke="#666" stroke-width="0.9"/>
<line x1="219.9" y1="133.64" x2="221.1" y2="133.64" stroke="#555" stroke-width="0.6"/>
<rect x="216.70" y="133.04" width="2.2" height="1.2" fill="#4a4a4a" stroke="none"/>
<line x1="219.9" y1="139.56" x2="221.1" y2="139.56" stroke="#555" stroke-width="0.6"/>
<rect x="216.70" y="138.96" width="2.2" height="1.2" fill="#4a4a4a" stroke="none"/>
<line x1="219.9" y1="145.48" x2="221.1" y2="145.48" stroke="#555" stroke-width="0.6"/>
<rect x="216.70" y="144.88" width="2.2" height="1.2" fill="#4a4a4a" stroke="none"/>
<line x1="219.9" y1="157.32" x2="221.1" y2="157.32" stroke="#555" stroke-width="0.6"/>
<rect x="216.70" y="156.72" width="2.2" height="1.2" fill="#4a4a4a" stroke="none"/>
<line x1="219.9" y1="163.24" x2="221.1" y2="163.24" stroke="#555" stroke-width="0.6"/>
<rect x="216.70" y="162.64" width="2.2" height="1.2" fill="#4a4a4a" stroke="none"/>
<line x1="219.9" y1="169.16" x2="221.1" y2="169.16" stroke="#555" stroke-width="0.6"/>
<rect x="216.70" y="168.56" width="2.2" height="1.2" fill="#4a4a4a" stroke="none"/>
<line x1="219.9" y1="175.08" x2="221.1" y2="175.08" stroke="#555" stroke-width="0.6"/>
<rect x="216.70" y="174.48" width="2.2" height="1.2" fill="#4a4a4a" stroke="none"/>
<line x1="219.9" y1="181.00" x2="221.1" y2="181.00" stroke="#555" stroke-width="0.6"/>
<rect x="216.70" y="180.40" width="2.2" height="1.2" fill="#4a4a4a" stroke="none"/>
<line x1="226.66" y1="151.4" x2="226.66" y2="152.6" stroke="#555" stroke-width="0.6"/>
<line x1="226.06" y1="157.00" x2="227.16" y2="154.20" stroke="#444" stroke-width="0.95"/>
<line x1="215.62" y1="151.4" x2="215.62" y2="152.6" stroke="#555" stroke-width="0.6"/>
<line x1="215.02" y1="157.00" x2="216.12" y2="154.20" stroke="#444" stroke-width="0.95"/>
<line x1="232.22" y1="151.4" x2="232.22" y2="152.6" stroke="#555" stroke-width="0.6"/>
<line x1="231.62" y1="157.00" x2="232.72" y2="154.20" stroke="#444" stroke-width="0.95"/>
<line x1="210.14" y1="151.4" x2="210.14" y2="152.6" stroke="#555" stroke-width="0.6"/>
<line x1="209.54" y1="157.00" x2="210.64" y2="154.20" stroke="#444" stroke-width="0.95"/>
<line x1="237.78" y1="151.4" x2="237.78" y2="152.6" stroke="#555" stroke-width="0.6"/>
<line x1="237.18" y1="157.00" x2="238.28" y2="154.20" stroke="#444" stroke-width="0.95"/>
<line x1="204.66" y1="151.4" x2="204.66" y2="152.6" stroke="#555" stroke-width="0.6"/>
<line x1="204.06" y1="157.00" x2="205.16" y2="154.20" stroke="#444" stroke-width="0.95"/>
<line x1="243.34" y1="151.4" x2="243.34" y2="152.6" stroke="#555" stroke-width="0.6"/>
<line x1="242.74" y1="157.00" x2="243.84" y2="154.20" stroke="#444" stroke-width="0.95"/>
<line x1="199.18" y1="151.4" x2="199.18" y2="152.6" stroke="#555" stroke-width="0.6"/>
<line x1="198.58" y1="157.00" x2="199.68" y2="154.20" stroke="#444" stroke-width="0.95"/>
<line x1="248.90" y1="151.4" x2="248.90" y2="152.6" stroke="#555" stroke-width="0.6"/>
<line x1="248.30" y1="157.00" x2="249.40" y2="154.20" stroke="#444" stroke-width="0.95"/>
<line x1="193.70" y1="151.4" x2="193.70" y2="152.6" stroke="#555" stroke-width="0.6"/>
<line x1="193.10" y1="157.00" x2="194.20" y2="154.20" stroke="#444" stroke-width="0.95"/>
<line x1="190.10" y1="139.40" x2="190.10" y2="163.40" stroke="#444" stroke-width="1.0" stroke-dasharray="2.5 0.6"/>
<g stroke="#0a0a0a" stroke-width="0.8"><polyline points="221.1,151.7 220.1,152.6 220.8,153.7 222.0,154.2 221.0,155.0 222.1,154.3"/><polyline points="221.5,150.2 221.7,151.5 220.4,151.2 220.2,152.5 220.8,153.7 221.9,154.5"/><polyline points="221.5,153.1 222.1,151.9 222.6,150.6 223.0,149.4 223.5,150.6 223.0,151.9"/><polyline points="220.3,150.5 221.1,149.5 222.0,148.5 223.2,149.2 222.1,148.4 221.5,147.2"/><polyline points="220.6,151.4 219.3,151.6 220.4,152.3 221.7,151.8 222.6,150.8 221.3,150.4"/><polyline points="220.6,153.0 219.4,152.4 220.4,151.5 221.2,150.4 219.8,150.3 218.7,151.0"/><polyline points="220.5,150.9 221.2,152.1 220.7,153.3 221.2,152.1 222.5,152.5 223.8,152.8"/><polyline points="220.7,151.0 219.4,150.7 218.0,150.9 217.3,152.0 218.6,152.0 219.1,153.3"/><polyline points="220.7,151.7 219.8,150.7 219.5,152.0 218.7,153.0 218.7,151.7 218.1,152.9"/><polyline points="219.6,150.8 220.7,151.6 221.9,152.1 222.1,153.4 222.2,152.1 221.2,151.2"/><polyline points="221.2,152.1 221.7,153.3 220.4,153.6 221.7,154.0 221.3,152.7 222.4,151.9"/><polyline points="222.3,151.1 223.6,150.7 224.9,150.9 224.6,152.2 225.9,151.9 226.1,150.6"/><polyline points="219.6,152.4 218.6,151.4 219.2,150.2 218.8,151.5 219.3,152.8 218.0,153.2"/><polyline points="221.6,152.0 222.9,151.6 222.2,152.8 223.6,152.9 224.9,153.3 225.5,154.4"/><polyline points="221.2,150.7 220.9,152.0 222.0,152.8 223.3,152.6 222.2,153.2 222.5,154.5"/><polyline points="221.3,151.5 222.0,152.7 221.4,151.5 222.2,152.5 223.5,152.9 222.1,153.0"/><polyline points="221.1,154.0 222.1,154.9 220.8,154.7 221.0,153.4 219.8,154.1 221.2,154.0"/><polyline points="220.5,151.5 219.4,152.2 220.7,152.5 219.5,153.1 219.5,154.5 220.6,153.6"/><polyline points="221.5,150.6 222.8,150.9 222.8,152.2 222.9,153.6 223.2,154.9 223.4,156.2"/><polyline points="221.4,151.1 222.7,151.5 223.9,150.9 222.6,150.4 224.0,150.3 222.9,151.1"/><polyline points="222.0,150.8 222.3,149.5 222.3,148.1 220.9,148.2 222.1,148.9 222.4,150.2"/><polyline points="222.2,150.3 223.4,149.6 222.7,150.8 222.0,149.7 222.4,148.4 221.6,147.3"/><polyline points="221.5,150.6 220.7,149.4 220.2,148.2 220.0,149.5 221.2,148.9 222.5,148.6"/><polyline points="222.9,152.3 224.2,152.0 223.5,150.8 224.8,151.2 225.9,150.4 226.8,151.4"/><polyline points="222.2,151.2 223.4,151.7 224.1,152.8 223.2,151.8 222.0,151.3 222.0,149.9"/><polyline points="221.6,151.2 222.9,151.2 224.1,150.6 225.4,150.7 226.4,149.7 227.4,150.6"/><polyline points="221.6,150.2 222.5,149.2 221.3,148.8 222.2,147.9 222.6,149.2 222.0,148.0"/><polyline points="220.3,152.8 220.5,151.5 219.2,151.7 217.9,151.5 219.2,151.7 220.5,152.0"/><polyline points="220.4,150.9 221.3,149.9 220.2,149.1 221.1,150.1 220.2,151.1 220.4,149.8"/><polyline points="221.0,151.4 221.7,150.2 222.3,149.1 223.5,149.7 222.2,149.4 221.2,150.3"/><polyline points="221.3,150.8 221.4,152.1 220.1,152.2 221.4,151.9 222.5,152.7 223.5,153.6"/><polyline points="220.0,150.3 218.6,150.2 217.4,150.8 218.2,149.7 218.5,148.4 219.7,148.9"/><polyline points="221.5,151.1 221.0,152.3 221.7,151.2 220.5,151.8 220.9,150.5 221.6,151.7"/><polyline points="221.4,151.1 222.2,152.2 220.9,152.2 220.2,153.3 218.9,153.0 220.0,152.2"/><polyline points="221.1,151.3 220.6,152.6 219.3,152.2 217.9,152.3 217.7,151.0 216.3,151.1"/><polyline points="221.6,151.7 222.4,150.6 221.5,151.6 221.7,150.3 223.0,150.2 222.1,149.2"/><polyline points="220.6,150.5 220.1,151.7 221.3,151.0 220.0,151.3 221.1,150.6 220.6,151.8"/><polyline points="222.0,150.4 221.0,149.6 219.7,150.0 220.6,151.1 220.7,149.7 219.9,150.8"/><polyline points="220.9,151.1 222.1,151.7 222.9,152.8 223.4,151.5 224.0,152.7 225.1,152.0"/><polyline points="220.4,152.1 219.6,153.2 218.7,152.3 219.8,153.0 218.7,153.8 219.9,153.3"/><polyline points="221.6,152.4 220.9,153.6 220.5,154.9 221.9,155.0 223.2,155.2 224.5,154.8"/><polyline points="221.7,150.2 222.2,149.0 223.5,148.6 224.2,149.7 223.1,149.0 221.7,149.1"/><polyline points="219.5,150.6 219.6,149.3 220.9,149.0 221.9,149.9 221.1,148.8 220.5,147.6"/><polyline points="221.1,150.4 221.7,149.2 221.3,150.5 222.5,149.9 221.4,150.6 220.3,149.8"/><polyline points="222.0,150.7 221.5,151.9 221.7,153.3 221.1,154.5 220.1,153.5 221.5,153.5"/><polyline points="221.7,151.0 220.6,151.7 221.2,150.5 220.9,151.8 219.8,152.5 221.1,152.6"/><polyline points="221.5,152.3 221.0,151.0 220.0,150.1 219.1,151.1 220.4,150.7 219.4,149.8"/><polyline points="221.3,151.6 222.6,151.4 223.9,151.3 225.1,150.7 224.0,149.8 223.5,151.1"/><polyline points="221.6,151.7 221.8,153.0 223.0,152.5 224.1,151.6 224.3,150.3 225.1,151.4"/><polyline points="221.1,152.0 222.4,151.6 223.1,152.7 223.4,151.4 222.9,150.2 221.6,149.8"/></g>
<polyline points="221.1,151.4 223.0,150.2 223.1,149.3 225.0,148.5 226.1,147.4" stroke="#2a2a2a" stroke-width="0.6"/>
<circle cx="226.1" cy="147.4" r="0.75" fill="#111" stroke="none"/>
<polyline points="221.1,151.4 219.9,153.0 221.4,154.8 217.7,156.8 217.1,156.4" stroke="#2a2a2a" stroke-width="0.6"/>
<circle cx="217.1" cy="156.4" r="0.75" fill="#111" stroke="none"/>
<polyline points="221.1,151.4 221.7,151.2 222.0,151.8 225.0,153.5 225.1,155.4" stroke="#2a2a2a" stroke-width="0.6"/>
<circle cx="225.1" cy="155.4" r="0.75" fill="#111" stroke="none"/>
<polyline points="221.1,151.4 219.2,150.2 219.4,148.9 218.4,149.1 218.1,148.4" stroke="#2a2a2a" stroke-width="0.6"/>
<circle cx="218.1" cy="148.4" r="0.75" fill="#111" stroke="none"/></g>
<rect x="112" y="437" width="78" height="71" fill="#fcfcfc"/>
<rect x="112" y="509" width="78" height="74" fill="#fcfcfc"/>
<rect x="196" y="437" width="78" height="71" fill="#fcfcfc"/>
<rect x="196" y="509" width="78" height="74" fill="#fcfcfc"/>
<rect x="280" y="437" width="78" height="71" fill="#fcfcfc"/>
<rect x="280" y="509" width="78" height="74" fill="#fcfcfc"/>
<rect x="364" y="437" width="78" height="71" fill="#fcfcfc"/>
<rect x="364" y="509" width="78" height="74" fill="#fcfcfc"/>
<g fill="none" stroke="#111" stroke-width="0.6"><line x1="151" y1="446.3" x2="151" y2="503" stroke="#666" stroke-width="0.9"/>
<line x1="122" y1="475.2" x2="179.8" y2="475.2" stroke="#666" stroke-width="0.9"/>
<line x1="149.8" y1="446.30" x2="151" y2="446.30" stroke="#555" stroke-width="0.6"/>
<rect x="146.60" y="445.70" width="2.2" height="1.2" fill="#4a4a4a" stroke="none"/>
<line x1="149.8" y1="452.08" x2="151" y2="452.08" stroke="#555" stroke-width="0.6"/>
<rect x="146.60" y="451.48" width="2.2" height="1.2" fill="#4a4a4a" stroke="none"/>
<line x1="149.8" y1="457.86" x2="151" y2="457.86" stroke="#555" stroke-width="0.6"/>
<rect x="146.60" y="457.26" width="2.2" height="1.2" fill="#4a4a4a" stroke="none"/>
<line x1="149.8" y1="463.64" x2="151" y2="463.64" stroke="#555" stroke-width="0.6"/>
<rect x="146.60" y="463.04" width="2.2" height="1.2" fill="#4a4a4a" stroke="none"/>
<line x1="149.8" y1="469.42" x2="151" y2="469.42" stroke="#555" stroke-width="0.6"/>
<rect x="146.60" y="468.82" width="2.2" height="1.2" fill="#4a4a4a" stroke="none"/>
<line x1="149.8" y1="480.98" x2="151" y2="480.98" stroke="#555" stroke-width="0.6"/>
<rect x="146.60" y="480.38" width="2.2" height="1.2" fill="#4a4a4a" stroke="none"/>
<line x1="149.8" y1="486.76" x2="151" y2="486.76" stroke="#555" stroke-width="0.6"/>
<rect x="146.60" y="486.16" width="2.2" height="1.2" fill="#4a4a4a" stroke="none"/>
<line x1="149.8" y1="492.54" x2="151" y2="492.54" stroke="#555" stroke-width="0.6"/>
<rect x="146.60" y="491.94" width="2.2" height="1.2" fill="#4a4a4a" stroke="none"/>
<line x1="149.8" y1="498.32" x2="151" y2="498.32" stroke="#555" stroke-width="0.6"/>
<rect x="146.60" y="497.72" width="2.2" height="1.2" fill="#4a4a4a" stroke="none"/>
<line x1="156.76" y1="475.2" x2="156.76" y2="476.4" stroke="#555" stroke-width="0.6"/>
<line x1="156.16" y1="480.80" x2="157.26" y2="478.00" stroke="#444" stroke-width="0.95"/>
<line x1="145.20" y1="475.2" x2="145.20" y2="476.4" stroke="#555" stroke-width="0.6"/>
<line x1="144.60" y1="480.80" x2="145.70" y2="478.00" stroke="#444" stroke-width="0.95"/>
<line x1="162.52" y1="475.2" x2="162.52" y2="476.4" stroke="#555" stroke-width="0.6"/>
<line x1="161.92" y1="480.80" x2="163.02" y2="478.00" stroke="#444" stroke-width="0.95"/>
<line x1="139.40" y1="475.2" x2="139.40" y2="476.4" stroke="#555" stroke-width="0.6"/>
<line x1="138.80" y1="480.80" x2="139.90" y2="478.00" stroke="#444" stroke-width="0.95"/>
<line x1="168.28" y1="475.2" x2="168.28" y2="476.4" stroke="#555" stroke-width="0.6"/>
<line x1="167.68" y1="480.80" x2="168.78" y2="478.00" stroke="#444" stroke-width="0.95"/>
<line x1="133.60" y1="475.2" x2="133.60" y2="476.4" stroke="#555" stroke-width="0.6"/>
<line x1="133.00" y1="480.80" x2="134.10" y2="478.00" stroke="#444" stroke-width="0.95"/>
<line x1="174.04" y1="475.2" x2="174.04" y2="476.4" stroke="#555" stroke-width="0.6"/>
<line x1="173.44" y1="480.80" x2="174.54" y2="478.00" stroke="#444" stroke-width="0.95"/>
<line x1="127.80" y1="475.2" x2="127.80" y2="476.4" stroke="#555" stroke-width="0.6"/>
<line x1="127.20" y1="480.80" x2="128.30" y2="478.00" stroke="#444" stroke-width="0.95"/>
<line x1="179.80" y1="475.2" x2="179.80" y2="476.4" stroke="#555" stroke-width="0.6"/>
<line x1="179.20" y1="480.80" x2="180.30" y2="478.00" stroke="#444" stroke-width="0.95"/>
<line x1="122.00" y1="475.2" x2="122.00" y2="476.4" stroke="#555" stroke-width="0.6"/>
<line x1="121.40" y1="480.80" x2="122.50" y2="478.00" stroke="#444" stroke-width="0.95"/>
<line x1="118.30" y1="463.20" x2="118.30" y2="487.20" stroke="#444" stroke-width="1.0" stroke-dasharray="2.5 0.6"/>
<g stroke="#0a0a0a" stroke-width="0.65"><polyline points="149.6,473.1 150.1,470.5 151.8,469.6 151.7,466.8 153.3,465.6 155.1,466.1 153.3,466.6 155.0,465.7"/><polyline points="149.5,472.1 150.8,473.9 149.1,474.4 149.1,477.1 147.4,476.4 145.7,475.1 147.5,475.4 147.9,478.0"/><polyline points="150.5,479.1 150.7,476.4 151.7,478.7 152.2,476.1 153.4,478.2 152.0,476.4 153.3,478.3 155.1,478.4"/><polyline points="151.6,474.3 152.0,477.0 153.8,476.7 155.0,474.7 154.6,477.3 156.3,476.7 154.6,476.0 153.8,473.6"/><polyline points="151.8,479.3 151.1,476.8 152.9,476.2 154.3,474.5 153.8,477.1 152.6,479.2 153.5,481.6 154.6,483.7"/><polyline points="151.9,475.8 150.5,474.2 152.3,474.2 151.5,471.8 150.6,474.1 149.9,476.6 150.6,474.1 148.8,474.5"/><polyline points="150.4,477.1 149.9,474.5 151.6,475.4 153.4,475.0 155.2,475.4 155.2,472.7 156.2,470.4 158.0,470.7"/><polyline points="151.3,473.5 149.7,472.2 151.5,472.4 153.2,473.2 154.0,475.7 155.7,474.9 156.3,477.5 156.4,474.7"/><polyline points="153.6,473.4 152.6,475.6 151.5,477.8 149.7,477.4 150.0,474.7 151.4,476.4 151.4,473.7 151.9,471.0"/><polyline points="151.2,474.8 152.9,473.9 154.4,475.4 153.5,477.7 152.1,475.9 153.7,474.6 152.7,476.9 154.3,475.6"/><polyline points="150.0,474.8 149.3,477.2 150.1,479.7 151.7,481.0 152.7,483.2 152.1,480.6 153.9,480.6 154.8,482.9"/><polyline points="154.4,476.8 152.6,476.2 151.1,477.7 151.2,480.4 149.7,478.9 150.6,476.5 148.8,477.3 147.2,478.6"/><polyline points="153.5,476.6 155.3,477.1 153.5,477.2 154.4,474.9 155.7,476.9 155.5,474.2 157.2,473.4 155.9,471.4"/><polyline points="151.1,474.4 149.5,475.5 150.5,477.7 151.6,475.4 151.1,478.0 149.3,478.8 151.1,478.8 152.2,476.6"/><polyline points="152.3,474.9 150.5,475.1 150.3,472.4 148.5,472.8 148.0,475.4 146.5,476.9 147.6,479.1 146.3,481.0"/><polyline points="154.0,474.9 152.8,472.9 151.0,472.9 150.0,475.2 151.5,476.7 151.3,479.4 151.6,476.7 152.9,474.7"/><polyline points="149.6,477.6 149.9,474.9 149.3,472.4 148.4,470.0 148.5,467.3 147.3,469.4 146.8,466.8 146.4,469.4"/><polyline points="149.0,475.5 148.3,472.9 147.8,475.6 149.5,474.6 148.4,472.4 146.9,471.1 148.7,471.3 146.9,470.5"/><polyline points="151.0,477.9 149.2,478.5 150.0,476.0 148.9,473.9 149.4,471.3 148.4,473.5 147.2,471.3 147.1,468.6"/><polyline points="151.5,473.7 152.5,471.5 153.8,469.5 153.1,467.0 154.9,466.5 156.6,465.8 154.8,465.5 153.0,465.0"/><polyline points="152.1,478.2 153.8,477.1 152.0,477.5 151.4,475.0 151.0,472.3 150.8,469.6 151.7,472.0 152.0,469.3"/><polyline points="149.4,473.9 147.9,475.2 146.6,473.3 146.8,470.6 145.7,468.5 145.3,465.9 147.1,466.3 148.1,468.6"/><polyline points="149.4,476.1 149.7,478.8 149.0,476.3 147.8,474.3 149.5,475.0 147.8,475.5 148.0,478.2 149.7,479.1"/><polyline points="151.7,476.4 152.5,478.8 153.1,481.4 154.9,482.0 153.1,482.6 151.8,484.4 150.4,482.7 148.8,481.2"/><polyline points="151.2,479.1 153.0,479.1 151.5,480.6 151.2,483.3 149.7,484.7 151.0,486.5 151.9,484.2 150.6,486.1"/><polyline points="152.6,475.8 154.1,477.3 152.4,476.5 151.4,478.8 149.8,477.5 151.6,476.8 152.3,474.3 150.7,475.6"/><polyline points="151.7,472.8 150.4,474.8 151.6,476.9 150.1,475.4 148.4,474.3 150.1,473.6 151.9,473.1 150.5,471.3"/><polyline points="149.5,478.3 151.3,478.3 152.7,480.0 151.1,478.9 149.7,477.1 150.8,479.2 149.6,477.2 151.0,475.5"/><polyline points="150.1,476.5 150.4,479.2 149.9,481.9 151.7,481.4 150.4,483.3 152.1,482.6 153.7,481.2 152.2,479.7"/><polyline points="150.8,480.3 149.0,480.3 147.4,481.7 146.6,484.2 148.5,483.9 146.6,484.0 146.2,486.7 144.4,487.1"/><polyline points="152.2,476.9 150.5,477.9 150.0,480.5 150.4,477.8 151.2,475.4 153.0,475.7 151.3,475.1 151.0,477.8"/><polyline points="152.9,474.0 153.0,476.7 152.8,479.4 153.8,481.6 155.6,481.4 155.1,484.1 153.7,482.4 151.9,482.8"/><polyline points="150.0,473.3 149.9,470.5 151.3,472.4 151.4,469.7 150.8,472.3 149.0,471.7 148.1,474.0 147.6,476.6"/><polyline points="149.7,474.8 148.5,476.9 148.5,474.2 146.9,472.7 148.7,473.3 148.7,476.1 146.9,476.8 148.5,475.4"/><polyline points="152.1,473.7 154.0,474.0 154.3,471.3 152.6,472.5 151.0,471.3 150.6,468.6 149.3,466.6 147.5,466.9"/><polyline points="152.0,474.3 150.6,476.0 151.7,473.8 152.3,476.4 151.8,479.0 152.6,476.6 154.3,477.7 155.2,475.3"/><polyline points="150.6,473.4 150.2,476.0 150.5,473.4 152.0,471.9 153.2,474.1 151.4,474.4 149.6,473.6 147.8,473.6"/><polyline points="150.7,476.1 149.1,474.7 149.8,472.2 151.4,473.3 151.7,476.0 152.4,473.6 152.9,470.9 152.0,468.6"/><polyline points="152.9,475.7 154.7,475.3 156.5,475.3 156.0,472.7 157.7,473.5 158.7,471.2 159.0,473.9 157.9,471.7"/><polyline points="152.8,474.4 154.0,476.4 153.5,479.0 155.1,477.7 156.2,479.9 154.8,478.1 153.2,479.5 154.2,481.8"/><polyline points="150.7,474.8 152.2,476.5 150.8,478.4 152.5,479.6 154.2,480.6 152.6,479.3 152.5,476.6 153.8,474.7"/><polyline points="151.8,476.6 151.1,479.1 149.7,477.5 147.9,477.7 149.5,476.7 148.3,478.6 150.0,479.5 149.4,477.0"/><polyline points="152.0,477.3 150.2,477.2 151.7,475.7 150.0,474.8 148.7,472.9 148.5,475.6 146.8,474.8 146.8,477.5"/><polyline points="151.0,473.0 152.2,475.1 152.4,477.8 151.1,479.7 151.0,477.0 151.8,479.5 151.4,476.8 150.3,474.6"/><polyline points="152.5,476.6 154.1,478.0 155.3,480.0 153.8,478.4 154.0,481.2 155.3,479.3 153.5,479.6 152.7,482.0"/><polyline points="151.1,474.8 150.8,472.1 152.5,473.0 153.6,475.2 155.3,474.4 154.5,471.9 154.8,474.6 156.2,476.4"/><polyline points="152.7,474.7 153.5,472.3 154.7,474.4 153.4,472.5 152.3,474.6 152.5,477.3 151.6,479.7 150.2,477.9"/><polyline points="150.3,476.6 151.5,478.7 152.4,476.3 151.3,474.1 151.9,471.6 150.2,472.7 151.3,470.5 149.5,470.2"/><polyline points="149.7,473.9 149.6,471.2 148.1,472.9 149.6,474.4 151.4,475.0 151.9,477.6 153.7,478.2 155.1,476.5"/><polyline points="149.0,475.6 150.8,475.6 149.0,476.1 150.4,474.3 149.1,472.5 147.5,473.7 145.7,474.2 147.1,475.8"/><polyline points="151.4,476.1 150.1,478.0 148.8,479.8 150.1,477.9 151.1,480.2 151.1,482.9 150.8,485.6 151.7,487.9"/><polyline points="150.8,476.5 149.0,476.8 150.8,477.3 152.4,476.1 151.2,478.1 152.8,477.1 152.1,474.5 151.3,472.1"/><polyline points="148.2,476.0 149.5,477.8 148.6,475.4 148.1,478.1 147.3,475.6 147.1,472.9 148.0,475.3 148.6,477.9"/><polyline points="151.9,475.4 153.5,476.7 152.0,478.3 153.8,477.8 152.6,479.9 151.9,482.4 150.1,482.9 149.7,485.6"/><polyline points="150.8,472.4 151.7,474.7 151.8,477.4 151.0,475.0 152.7,474.0 151.6,471.8 149.9,473.0 151.7,472.6"/></g>
<polyline points="151.0,475.2 153.1,475.2 153.7,475.3 155.8,475.4 157.7,475.6" stroke="#2a2a2a" stroke-width="0.6"/>
<circle cx="157.7" cy="475.6" r="0.75" fill="#111" stroke="none"/>
<polyline points="151.0,475.2 151.3,472.5 150.4,468.5 151.1,464.8 152.5,462.9" stroke="#2a2a2a" stroke-width="0.6"/>
<circle cx="152.5" cy="462.9" r="0.75" fill="#111" stroke="none"/>
<polyline points="151.0,475.2 153.2,476.3 154.6,476.8 156.9,477.6 159.7,479.0" stroke="#2a2a2a" stroke-width="0.6"/>
<circle cx="159.7" cy="479.0" r="0.75" fill="#111" stroke="none"/>
<polyline points="151.0,475.2 152.5,473.9 155.9,474.3 156.5,475.1 159.9,474.3" stroke="#2a2a2a" stroke-width="0.6"/>
<circle cx="159.9" cy="474.3" r="0.75" fill="#111" stroke="none"/>
<polyline points="151.0,475.2 150.0,477.7 148.9,479.7 148.1,479.7 147.0,483.5" stroke="#2a2a2a" stroke-width="0.6"/>
<circle cx="147.0" cy="483.5" r="0.75" fill="#111" stroke="none"/>
<polyline points="151.0,475.2 153.3,477.4 156.2,479.0 158.8,480.9 160.7,482.2" stroke="#2a2a2a" stroke-width="0.6"/>
<circle cx="160.7" cy="482.2" r="0.75" fill="#111" stroke="none"/>
<polyline points="151.0,475.2 147.9,475.1 146.5,476.2 143.3,476.1 140.1,476.1" stroke="#2a2a2a" stroke-width="0.6"/>
<circle cx="140.1" cy="476.1" r="0.75" fill="#111" stroke="none"/>
<polyline points="151.0,475.2 152.6,477.0 155.1,477.7 155.9,479.5 158.1,479.0" stroke="#2a2a2a" stroke-width="0.6"/>
<circle cx="158.1" cy="479.0" r="0.75" fill="#111" stroke="none"/>
<polyline points="151.0,475.2 151.7,475.5 154.3,475.8 156.3,477.6 158.9,479.1" stroke="#2a2a2a" stroke-width="0.6"/>
<circle cx="158.9" cy="479.1" r="0.75" fill="#111" stroke="none"/>
<polyline points="151.0,475.2 153.2,475.0 155.5,476.9 156.2,477.6 158.1,479.4" stroke="#2a2a2a" stroke-width="0.6"/>
<circle cx="158.1" cy="479.4" r="0.75" fill="#111" stroke="none"/>
<polyline points="151.0,475.2 149.6,475.9 147.9,478.7 146.3,480.7 144.4,481.7" stroke="#2a2a2a" stroke-width="0.6"/>
<circle cx="144.4" cy="481.7" r="0.75" fill="#111" stroke="none"/>
<polyline points="151.0,475.2 152.3,475.3 155.1,477.4 155.5,477.5 157.2,478.3" stroke="#2a2a2a" stroke-width="0.6"/>
<circle cx="157.2" cy="478.3" r="0.75" fill="#111" stroke="none"/></g>
<g fill="none" stroke="#111" stroke-width="0.6"><line x1="234.8" y1="445.8" x2="234.8" y2="503" stroke="#666" stroke-width="0.9"/>
<line x1="206" y1="474.2" x2="262.7" y2="474.2" stroke="#666" stroke-width="0.9"/>
<line x1="233.60000000000002" y1="445.70" x2="234.8" y2="445.70" stroke="#555" stroke-width="0.6"/>
<rect x="230.40" y="445.10" width="2.2" height="1.2" fill="#4a4a4a" stroke="none"/>
<line x1="233.60000000000002" y1="451.40" x2="234.8" y2="451.40" stroke="#555" stroke-width="0.6"/>
<rect x="230.40" y="450.80" width="2.2" height="1.2" fill="#4a4a4a" stroke="none"/>
<line x1="233.60000000000002" y1="457.10" x2="234.8" y2="457.10" stroke="#555" stroke-width="0.6"/>
<rect x="230.40" y="456.50" width="2.2" height="1.2" fill="#4a4a4a" stroke="none"/>
<line x1="233.60000000000002" y1="462.80" x2="234.8" y2="462.80" stroke="#555" stroke-width="0.6"/>
<rect x="230.40" y="462.20" width="2.2" height="1.2" fill="#4a4a4a" stroke="none"/>
<line x1="233.60000000000002" y1="468.50" x2="234.8" y2="468.50" stroke="#555" stroke-width="0.6"/>
<rect x="230.40" y="467.90" width="2.2" height="1.2" fill="#4a4a4a" stroke="none"/>
<line x1="233.60000000000002" y1="479.90" x2="234.8" y2="479.90" stroke="#555" stroke-width="0.6"/>
<rect x="230.40" y="479.30" width="2.2" height="1.2" fill="#4a4a4a" stroke="none"/>
<line x1="233.60000000000002" y1="485.60" x2="234.8" y2="485.60" stroke="#555" stroke-width="0.6"/>
<rect x="230.40" y="485.00" width="2.2" height="1.2" fill="#4a4a4a" stroke="none"/>
<line x1="233.60000000000002" y1="491.30" x2="234.8" y2="491.30" stroke="#555" stroke-width="0.6"/>
<rect x="230.40" y="490.70" width="2.2" height="1.2" fill="#4a4a4a" stroke="none"/>
<line x1="233.60000000000002" y1="497.00" x2="234.8" y2="497.00" stroke="#555" stroke-width="0.6"/>
<rect x="230.40" y="496.40" width="2.2" height="1.2" fill="#4a4a4a" stroke="none"/>
<line x1="233.60000000000002" y1="502.70" x2="234.8" y2="502.70" stroke="#555" stroke-width="0.6"/>
<rect x="230.40" y="502.10" width="2.2" height="1.2" fill="#4a4a4a" stroke="none"/>
<line x1="240.38" y1="474.2" x2="240.38" y2="475.4" stroke="#555" stroke-width="0.6"/>
<line x1="239.78" y1="479.80" x2="240.88" y2="477.00" stroke="#444" stroke-width="0.95"/>
<line x1="229.04" y1="474.2" x2="229.04" y2="475.4" stroke="#555" stroke-width="0.6"/>
<line x1="228.44" y1="479.80" x2="229.54" y2="477.00" stroke="#444" stroke-width="0.95"/>
<line x1="245.96" y1="474.2" x2="245.96" y2="475.4" stroke="#555" stroke-width="0.6"/>
<line x1="245.36" y1="479.80" x2="246.46" y2="477.00" stroke="#444" stroke-width="0.95"/>
<line x1="223.28" y1="474.2" x2="223.28" y2="475.4" stroke="#555" stroke-width="0.6"/>
<line x1="222.68" y1="479.80" x2="223.78" y2="477.00" stroke="#444" stroke-width="0.95"/>
<line x1="251.54" y1="474.2" x2="251.54" y2="475.4" stroke="#555" stroke-width="0.6"/>
<line x1="250.94" y1="479.80" x2="252.04" y2="477.00" stroke="#444" stroke-width="0.95"/>
<line x1="217.52" y1="474.2" x2="217.52" y2="475.4" stroke="#555" stroke-width="0.6"/>
<line x1="216.92" y1="479.80" x2="218.02" y2="477.00" stroke="#444" stroke-width="0.95"/>
<line x1="257.12" y1="474.2" x2="257.12" y2="475.4" stroke="#555" stroke-width="0.6"/>
<line x1="256.52" y1="479.80" x2="257.62" y2="477.00" stroke="#444" stroke-width="0.95"/>
<line x1="211.76" y1="474.2" x2="211.76" y2="475.4" stroke="#555" stroke-width="0.6"/>
<line x1="211.16" y1="479.80" x2="212.26" y2="477.00" stroke="#444" stroke-width="0.95"/>
<line x1="262.70" y1="474.2" x2="262.70" y2="475.4" stroke="#555" stroke-width="0.6"/>
<line x1="262.10" y1="479.80" x2="263.20" y2="477.00" stroke="#444" stroke-width="0.95"/>
<line x1="206.00" y1="474.2" x2="206.00" y2="475.4" stroke="#555" stroke-width="0.6"/>
<line x1="205.40" y1="479.80" x2="206.50" y2="477.00" stroke="#444" stroke-width="0.95"/>
<line x1="201.80" y1="462.20" x2="201.80" y2="486.20" stroke="#444" stroke-width="1.0" stroke-dasharray="2.5 0.6"/>
<g stroke="#0a0a0a" stroke-width="0.8"><polyline points="235.3,472.5 233.7,472.6 233.6,474.2 235.2,474.2 234.3,472.8 232.8,473.1 232.9,471.5"/><polyline points="233.6,475.4 233.4,477.0 233.9,475.5 233.7,473.9 232.3,474.7 230.8,474.3 230.1,472.9"/><polyline points="235.2,475.4 235.8,473.9 235.6,475.4 236.1,473.9 235.5,472.5 236.4,471.2 235.6,472.5"/><polyline points="236.3,475.2 236.8,473.7 235.3,474.2 236.6,475.1 237.1,476.6 236.1,475.4 235.7,476.9"/><polyline points="236.0,473.8 236.5,475.3 235.6,474.0 234.6,475.2 236.1,474.6 237.4,473.7 235.8,473.6"/><polyline points="233.9,473.0 234.4,471.5 236.0,471.3 237.6,471.6 236.5,472.8 235.3,471.8 234.7,473.3"/><polyline points="234.4,474.0 235.6,472.9 234.0,472.6 235.2,473.7 234.4,472.3 233.8,473.8 234.3,475.3"/><polyline points="234.3,474.3 234.7,475.8 235.7,474.6 235.2,473.1 236.8,473.2 237.1,471.7 238.7,471.8"/><polyline points="233.7,476.0 232.6,474.9 232.0,476.4 230.9,477.5 229.7,478.6 230.8,479.7 232.4,479.7"/><polyline points="235.8,474.5 235.7,472.9 234.5,473.9 236.0,473.7 236.1,475.3 237.7,475.1 238.9,474.1"/><polyline points="233.8,472.4 232.3,472.9 233.1,471.5 233.5,470.0 232.0,469.8 230.4,470.1 230.0,468.6"/><polyline points="234.5,474.4 234.4,472.8 234.3,474.4 232.7,474.5 233.0,473.0 233.8,474.4 235.3,474.6"/><polyline points="235.7,475.1 234.7,476.3 234.6,477.9 233.1,478.4 234.6,477.7 234.5,479.3 233.2,480.1"/><polyline points="235.8,473.3 235.6,474.9 234.0,475.1 232.4,475.3 233.4,476.6 232.3,477.7 231.8,479.2"/><polyline points="235.1,473.4 234.2,472.0 235.8,471.8 237.2,471.0 236.1,472.1 234.8,471.2 234.1,472.6"/><polyline points="233.9,474.9 234.3,473.3 235.8,472.7 235.4,474.3 237.0,474.3 235.5,474.8 237.0,475.4"/><polyline points="236.5,474.5 237.7,475.5 237.4,474.0 236.3,475.2 237.8,474.6 238.8,473.3 240.2,473.9"/><polyline points="235.6,476.4 234.4,475.4 233.0,476.1 233.3,474.6 234.0,473.1 232.4,473.2 230.8,473.5"/><polyline points="235.5,474.7 236.5,476.0 235.4,474.9 234.2,473.9 235.1,475.1 234.0,474.0 235.3,474.9"/><polyline points="235.9,475.1 234.4,475.4 235.6,474.5 234.5,473.3 234.1,471.8 235.2,473.0 236.0,471.6"/><polyline points="236.0,474.9 237.3,474.0 238.7,473.2 239.9,472.2 238.4,472.6 237.8,471.2 238.2,469.6"/><polyline points="236.3,476.0 237.7,475.1 236.2,475.7 236.5,474.1 235.0,474.6 234.7,476.2 234.3,474.7"/><polyline points="236.4,474.9 238.0,474.7 237.6,476.2 239.1,475.6 240.5,476.4 241.5,475.2 241.2,476.7"/><polyline points="235.8,474.0 237.2,473.2 238.8,473.6 240.1,474.4 240.8,472.9 239.8,471.7 238.2,471.3"/><polyline points="235.4,474.3 234.3,475.5 235.8,476.0 237.4,475.9 237.5,474.3 239.1,473.8 238.6,472.3"/><polyline points="234.6,474.5 234.4,472.9 235.6,474.0 234.1,473.5 232.5,473.9 230.9,473.9 232.4,474.7"/><polyline points="235.9,474.7 237.4,475.0 235.8,474.8 236.8,476.1 236.5,477.6 237.4,478.9 235.9,478.3"/><polyline points="234.3,474.6 234.6,476.2 233.1,475.6 234.4,474.7 233.0,475.5 233.9,476.9 233.2,478.3"/><polyline points="234.9,475.5 235.2,473.9 233.8,473.2 234.4,474.7 233.7,476.1 232.5,477.2 231.0,477.8"/><polyline points="232.1,476.2 230.6,475.7 229.8,474.4 229.4,472.8 228.4,471.6 229.0,470.1 227.9,471.2"/><polyline points="233.5,471.9 234.3,473.3 233.2,472.2 232.0,473.2 233.5,473.8 235.0,474.2 235.1,472.6"/><polyline points="236.0,475.2 237.2,476.2 236.2,477.3 237.7,477.6 236.2,477.2 236.6,475.7 236.8,477.2"/><polyline points="232.8,473.3 232.3,474.9 230.8,475.1 230.5,473.6 231.6,472.4 232.4,473.8 231.5,472.4"/><polyline points="235.1,474.5 236.7,474.4 238.2,474.9 239.6,474.1 239.6,472.5 238.9,471.1 238.7,469.5"/><polyline points="234.3,473.5 232.8,474.1 233.3,475.6 234.3,474.4 234.6,472.8 235.0,471.3 235.3,472.8"/><polyline points="234.2,473.8 234.6,472.2 234.5,470.7 236.1,470.6 235.7,469.1 235.1,467.6 235.3,466.0"/><polyline points="235.9,474.9 237.4,475.3 236.4,476.4 237.6,477.5 239.1,477.0 240.6,477.3 242.0,476.5"/><polyline points="235.8,473.9 236.6,472.5 238.1,473.0 239.1,474.2 240.7,474.3 242.1,475.0 243.7,475.0"/><polyline points="235.0,473.8 233.7,473.0 233.4,474.5 234.5,475.7 233.1,476.5 233.8,477.9 235.3,477.7"/><polyline points="233.8,475.1 232.4,474.5 231.2,473.3 229.7,473.5 229.5,475.1 230.5,476.3 231.7,475.3"/><polyline points="235.2,475.2 235.7,473.7 234.3,473.0 235.8,472.5 236.4,471.0 234.8,470.8 236.0,471.9"/><polyline points="233.9,473.6 234.9,472.4 233.3,472.1 232.8,470.6 233.4,469.1 231.8,469.4 232.7,468.1"/><polyline points="235.3,473.9 236.6,473.1 237.7,471.9 238.7,470.7 237.9,472.0 237.9,473.6 238.9,474.8"/><polyline points="233.5,475.6 232.4,476.8 234.0,476.9 233.5,478.3 234.9,479.1 233.7,478.0 233.9,476.4"/><polyline points="235.2,474.0 234.0,475.1 235.1,476.2 236.5,475.4 237.3,474.0 235.7,473.8 237.3,473.4"/><polyline points="233.1,474.0 231.5,474.1 230.5,475.3 232.1,475.2 232.9,473.9 231.6,473.0 232.7,471.9"/><polyline points="233.8,472.8 235.2,473.4 236.3,474.6 237.5,475.6 236.3,474.7 236.0,473.1 236.9,474.4"/><polyline points="234.3,474.2 233.7,472.7 234.0,471.1 235.4,472.0 236.9,471.8 236.1,470.4 237.3,471.5"/><polyline points="234.5,474.7 234.2,473.1 235.6,472.3 236.3,473.7 237.0,475.2 235.9,474.0 236.9,472.8"/><polyline points="234.7,473.1 235.9,474.1 234.7,473.1 233.2,473.5 233.7,472.0 232.3,471.3 232.2,469.8"/><polyline points="236.1,474.0 237.5,473.1 237.3,474.7 238.9,474.7 240.0,473.6 241.6,473.9 243.2,473.9"/><polyline points="234.5,474.3 234.2,475.9 233.9,474.3 232.7,475.4 231.6,474.2 232.9,475.2 233.7,473.8"/><polyline points="233.5,475.5 234.5,476.8 233.7,475.4 232.1,475.7 230.8,476.6 232.4,476.8 230.8,476.5"/><polyline points="235.0,473.8 233.5,474.3 235.1,474.5 236.7,474.4 238.3,474.1 237.6,472.7 236.0,472.9"/><polyline points="235.2,474.4 234.8,472.9 235.2,471.4 236.8,471.2 237.9,470.0 236.4,470.6 236.3,472.2"/></g>
<polyline points="234.8,474.2 233.3,473.8 232.6,472.8 230.0,472.9 229.0,472.6" stroke="#2a2a2a" stroke-width="0.6"/>
<circle cx="229.0" cy="472.6" r="0.75" fill="#111" stroke="none"/>
<polyline points="234.8,474.2 233.1,473.7 231.3,473.8 229.4,472.8 227.4,472.1" stroke="#2a2a2a" stroke-width="0.6"/>
<circle cx="227.4" cy="472.1" r="0.75" fill="#111" stroke="none"/>
<polyline points="234.8,474.2 232.7,473.5 231.4,475.0 229.0,474.9 227.2,476.5" stroke="#2a2a2a" stroke-width="0.6"/>
<circle cx="227.2" cy="476.5" r="0.75" fill="#111" stroke="none"/>
<polyline points="234.8,474.2 235.9,473.8 234.0,472.1 234.8,472.1 233.8,469.2" stroke="#2a2a2a" stroke-width="0.6"/>
<circle cx="233.8" cy="469.2" r="0.75" fill="#111" stroke="none"/>
<polyline points="234.8,474.2 234.9,473.2 234.0,470.5 234.5,468.7 234.7,467.2" stroke="#2a2a2a" stroke-width="0.6"/>
<circle cx="234.7" cy="467.2" r="0.75" fill="#111" stroke="none"/></g>
<g fill="none" stroke="#111" stroke-width="0.6"><line x1="319" y1="445.4" x2="319" y2="503" stroke="#666" stroke-width="0.9"/>
<line x1="290.2" y1="474.2" x2="347.9" y2="474.2" stroke="#666" stroke-width="0.9"/>
<line x1="317.8" y1="445.40" x2="319" y2="445.40" stroke="#555" stroke-width="0.6"/>
<rect x="314.60" y="444.80" width="2.2" height="1.2" fill="#4a4a4a" stroke="none"/>
<line x1="317.8" y1="451.16" x2="319" y2="451.16" stroke="#555" stroke-width="0.6"/>
<rect x="314.60" y="450.56" width="2.2" height="1.2" fill="#4a4a4a" stroke="none"/>
<line x1="317.8" y1="456.92" x2="319" y2="456.92" stroke="#555" stroke-width="0.6"/>
<rect x="314.60" y="456.32" width="2.2" height="1.2" fill="#4a4a4a" stroke="none"/>
<line x1="317.8" y1="462.68" x2="319" y2="462.68" stroke="#555" stroke-width="0.6"/>
<rect x="314.60" y="462.08" width="2.2" height="1.2" fill="#4a4a4a" stroke="none"/>
<line x1="317.8" y1="468.44" x2="319" y2="468.44" stroke="#555" stroke-width="0.6"/>
<rect x="314.60" y="467.84" width="2.2" height="1.2" fill="#4a4a4a" stroke="none"/>
<line x1="317.8" y1="479.96" x2="319" y2="479.96" stroke="#555" stroke-width="0.6"/>
<rect x="314.60" y="479.36" width="2.2" height="1.2" fill="#4a4a4a" stroke="none"/>
<line x1="317.8" y1="485.72" x2="319" y2="485.72" stroke="#555" stroke-width="0.6"/>
<rect x="314.60" y="485.12" width="2.2" height="1.2" fill="#4a4a4a" stroke="none"/>
<line x1="317.8" y1="491.48" x2="319" y2="491.48" stroke="#555" stroke-width="0.6"/>
<rect x="314.60" y="490.88" width="2.2" height="1.2" fill="#4a4a4a" stroke="none"/>
<line x1="317.8" y1="497.24" x2="319" y2="497.24" stroke="#555" stroke-width="0.6"/>
<rect x="314.60" y="496.64" width="2.2" height="1.2" fill="#4a4a4a" stroke="none"/>
<line x1="317.8" y1="503.00" x2="319" y2="503.00" stroke="#555" stroke-width="0.6"/>
<rect x="314.60" y="502.40" width="2.2" height="1.2" fill="#4a4a4a" stroke="none"/>
<line x1="324.78" y1="474.2" x2="324.78" y2="475.4" stroke="#555" stroke-width="0.6"/>
<line x1="324.18" y1="479.80" x2="325.28" y2="477.00" stroke="#444" stroke-width="0.95"/>
<line x1="313.24" y1="474.2" x2="313.24" y2="475.4" stroke="#555" stroke-width="0.6"/>
<line x1="312.64" y1="479.80" x2="313.74" y2="477.00" stroke="#444" stroke-width="0.95"/>
<line x1="330.56" y1="474.2" x2="330.56" y2="475.4" stroke="#555" stroke-width="0.6"/>
<line x1="329.96" y1="479.80" x2="331.06" y2="477.00" stroke="#444" stroke-width="0.95"/>
<line x1="307.48" y1="474.2" x2="307.48" y2="475.4" stroke="#555" stroke-width="0.6"/>
<line x1="306.88" y1="479.80" x2="307.98" y2="477.00" stroke="#444" stroke-width="0.95"/>
<line x1="336.34" y1="474.2" x2="336.34" y2="475.4" stroke="#555" stroke-width="0.6"/>
<line x1="335.74" y1="479.80" x2="336.84" y2="477.00" stroke="#444" stroke-width="0.95"/>
<line x1="301.72" y1="474.2" x2="301.72" y2="475.4" stroke="#555" stroke-width="0.6"/>
<line x1="301.12" y1="479.80" x2="302.22" y2="477.00" stroke="#444" stroke-width="0.95"/>
<line x1="342.12" y1="474.2" x2="342.12" y2="475.4" stroke="#555" stroke-width="0.6"/>
<line x1="341.52" y1="479.80" x2="342.62" y2="477.00" stroke="#444" stroke-width="0.95"/>
<line x1="295.96" y1="474.2" x2="295.96" y2="475.4" stroke="#555" stroke-width="0.6"/>
<line x1="295.36" y1="479.80" x2="296.46" y2="477.00" stroke="#444" stroke-width="0.95"/>
<line x1="347.90" y1="474.2" x2="347.90" y2="475.4" stroke="#555" stroke-width="0.6"/>
<line x1="347.30" y1="479.80" x2="348.40" y2="477.00" stroke="#444" stroke-width="0.95"/>
<line x1="290.20" y1="474.2" x2="290.20" y2="475.4" stroke="#555" stroke-width="0.6"/>
<line x1="289.60" y1="479.80" x2="290.70" y2="477.00" stroke="#444" stroke-width="0.95"/>
<line x1="287.00" y1="462.20" x2="287.00" y2="486.20" stroke="#444" stroke-width="1.0" stroke-dasharray="2.5 0.6"/>
<g stroke="#0a0a0a" stroke-width="0.45"><polyline points="318.5,475.2 317.0,473.0 319.4,474.2 316.8,473.6 315.0,475.6 317.5,476.5 314.8,476.4 317.4,477.0 315.0,478.1"/><polyline points="319.7,474.5 317.4,475.8 318.6,473.4 320.5,475.3 320.9,477.9 319.1,476.0 321.6,475.1 319.3,473.9 317.2,475.5"/><polyline points="319.6,474.1 321.2,472.1 320.6,474.6 322.2,476.7 324.2,478.5 323.2,481.0 324.3,478.5 325.4,481.0 323.1,479.7"/><polyline points="317.8,472.8 315.3,472.0 317.8,473.0 320.2,474.0 320.9,476.6 319.8,474.2 317.4,475.3 316.4,477.8 314.1,476.4"/><polyline points="317.5,474.7 318.2,472.1 317.4,469.6 317.5,472.2 315.1,471.0 312.5,470.6 314.4,468.8 314.0,466.1 313.4,468.7"/><polyline points="319.9,474.1 317.6,475.4 317.7,472.7 319.3,474.9 316.6,475.1 319.2,475.7 317.9,473.4 318.1,470.8 315.8,469.6"/><polyline points="320.2,473.1 319.3,470.6 317.1,469.1 314.7,467.8 312.2,468.5 313.6,466.3 316.1,465.4 313.5,465.8 312.1,463.5"/><polyline points="321.7,475.3 320.1,473.2 322.8,473.1 323.9,470.7 323.3,473.3 321.3,475.0 320.0,472.7 322.7,473.1 320.1,473.7"/><polyline points="319.5,475.0 321.9,476.0 322.2,473.3 324.1,475.3 324.1,477.9 322.0,479.6 323.9,477.7 326.2,479.0 323.7,479.8"/><polyline points="315.3,473.0 316.4,470.6 318.2,468.6 317.7,471.2 315.4,472.6 313.7,474.6 315.7,472.9 318.3,472.2 319.8,474.3"/><polyline points="319.6,475.4 319.9,478.1 317.2,478.3 315.0,476.9 314.8,479.5 317.4,479.6 315.1,480.9 313.3,482.8 310.9,481.8"/><polyline points="321.7,473.4 319.1,473.1 317.1,471.3 316.0,469.0 318.5,469.8 320.6,468.3 321.1,465.7 323.0,463.8 323.8,461.3"/><polyline points="317.5,475.4 319.6,477.0 317.9,475.0 320.3,476.0 322.7,477.1 323.4,479.7 324.8,481.9 323.4,484.2 325.9,485.0"/><polyline points="320.1,474.2 322.2,475.8 320.5,477.8 323.1,478.2 325.0,476.3 323.0,474.6 324.5,476.7 324.5,479.4 323.0,481.5"/><polyline points="318.4,474.9 319.9,472.8 322.6,472.7 320.0,473.2 317.3,473.5 319.6,474.8 321.7,476.4 320.3,478.6 320.0,481.3"/><polyline points="319.5,473.2 322.2,473.6 324.7,472.8 322.1,472.3 323.7,474.4 321.1,473.7 323.7,474.2 321.1,473.7 323.7,473.4"/><polyline points="320.9,472.0 320.7,474.7 318.9,476.6 320.3,478.9 320.6,476.3 318.0,475.8 318.5,473.2 317.2,475.5 317.7,478.1"/><polyline points="321.0,469.2 322.6,467.1 323.6,464.6 324.7,462.2 324.5,459.5 324.9,462.1 322.2,461.8 320.6,463.9 323.2,464.4"/><polyline points="320.5,474.5 320.3,477.1 319.4,474.6 322.0,473.9 319.5,474.8 321.9,473.8 324.5,473.6 327.1,472.8 325.3,474.8"/><polyline points="319.2,475.5 320.1,478.0 320.9,480.6 319.0,478.7 321.1,477.2 322.6,474.9 319.9,475.3 318.4,473.1 319.2,470.6"/><polyline points="321.4,475.6 323.6,474.2 324.1,471.6 324.1,468.9 321.5,469.3 322.7,471.7 323.3,469.1 322.0,471.4 322.8,468.9"/><polyline points="320.9,473.9 318.7,475.4 321.2,474.5 320.8,471.9 322.1,474.2 323.9,476.1 325.5,478.3 327.6,476.8 328.6,474.3"/><polyline points="321.1,477.0 323.8,476.7 322.3,474.4 320.7,476.6 318.2,475.8 320.0,477.7 322.7,478.0 325.3,477.5 323.7,475.3"/><polyline points="314.7,473.5 312.3,474.5 314.1,472.6 315.3,470.3 316.0,472.9 315.9,475.5 315.2,478.1 315.4,480.7 313.1,479.3"/><polyline points="318.9,476.2 320.7,478.1 322.9,476.7 321.3,478.8 318.8,479.5 316.5,478.1 318.6,476.6 316.3,477.9 318.6,476.6"/><polyline points="316.7,474.2 314.1,473.8 316.7,474.1 314.2,475.1 315.3,477.5 318.0,477.6 318.8,475.0 320.0,477.4 317.4,477.8"/><polyline points="318.6,471.8 317.4,474.2 314.8,473.9 312.3,473.0 312.9,470.4 314.9,472.0 312.5,471.1 312.5,473.7 312.0,476.3"/><polyline points="319.3,472.0 316.9,471.0 317.0,468.3 319.3,467.0 316.8,467.9 314.8,466.2 312.1,466.1 309.5,465.9 308.6,463.4"/><polyline points="316.8,474.9 314.2,475.2 316.6,474.3 315.8,471.8 317.7,469.9 320.2,469.0 320.0,471.6 317.5,470.7 320.0,469.7"/><polyline points="319.5,473.3 321.5,475.2 319.0,476.1 321.4,477.3 321.5,479.9 323.9,481.1 322.6,478.8 323.2,476.2 325.3,474.6"/><polyline points="320.7,476.7 319.3,474.4 320.9,476.5 322.9,474.7 325.5,474.2 326.0,476.8 328.5,476.0 326.4,477.6 323.7,477.8"/><polyline points="322.5,474.0 323.9,476.2 321.5,477.3 318.9,477.1 317.5,479.3 318.4,481.8 317.3,484.2 316.8,481.6 319.4,481.9"/><polyline points="317.1,473.5 319.7,473.8 318.4,476.1 316.5,474.3 313.9,474.1 316.3,475.1 319.0,474.9 319.6,472.3 322.2,471.8"/><polyline points="320.2,475.1 322.7,475.8 323.2,473.1 322.9,475.8 324.7,477.7 322.4,478.9 324.6,477.5 325.7,475.1 325.6,477.8"/><polyline points="321.5,477.6 319.1,476.5 318.3,473.9 320.5,475.3 323.0,476.3 322.0,473.8 319.6,475.0 322.0,476.2 324.5,475.2"/><polyline points="316.8,471.7 319.1,473.0 320.7,470.9 323.1,472.0 324.8,470.0 322.3,470.8 320.9,473.0 318.4,472.1 320.8,471.0"/><polyline points="318.9,475.2 316.3,474.7 316.5,477.4 318.5,479.1 319.9,481.3 322.4,482.1 323.2,484.7 322.2,487.1 321.3,489.6"/><polyline points="319.1,472.7 316.4,472.6 317.6,475.0 316.1,477.2 318.7,477.5 318.7,480.2 321.3,480.4 321.1,477.8 318.6,476.9"/><polyline points="319.8,476.2 322.2,475.1 324.3,476.8 325.4,474.4 323.0,475.4 320.4,475.5 321.7,473.2 319.6,474.9 317.0,474.8"/><polyline points="317.0,469.3 315.5,471.5 316.8,469.2 316.1,466.6 314.4,464.6 312.2,466.1 310.7,468.3 313.1,469.2 315.0,471.1"/><polyline points="321.8,475.5 321.7,478.2 323.1,480.4 325.4,481.8 326.8,479.6 328.6,477.6 327.3,475.3 326.8,477.9 326.9,480.5"/><polyline points="318.4,476.2 319.9,478.4 317.4,479.3 317.2,481.9 319.8,481.3 322.4,480.9 319.8,480.1 319.9,482.7 322.5,482.2"/><polyline points="318.4,475.8 321.0,475.9 319.1,477.7 316.4,478.1 313.8,478.0 314.6,480.6 311.9,480.5 314.6,480.6 314.4,483.2"/><polyline points="320.6,475.2 323.2,475.9 325.8,476.3 324.9,478.8 325.2,481.4 322.9,480.0 320.3,479.6 320.3,476.9 318.9,474.7"/><polyline points="318.2,470.4 316.1,472.1 314.9,474.5 317.6,474.2 319.1,476.4 318.7,473.8 317.1,471.7 319.6,472.4 321.0,470.1"/></g>
<polyline points="319.0,474.2 321.1,471.9 323.5,469.8 327.7,466.2 330.4,465.0" stroke="#2a2a2a" stroke-width="0.45"/>
<circle cx="330.4" cy="465.0" r="0.75" fill="#111" stroke="none"/>
<polyline points="319.0,474.2 318.4,469.9 318.5,466.6 317.7,461.3 317.3,458.0" stroke="#2a2a2a" stroke-width="0.45"/>
<circle cx="317.3" cy="458.0" r="0.75" fill="#111" stroke="none"/>
<polyline points="319.0,474.2 321.1,476.8 324.0,479.7 325.0,481.0 327.8,484.7" stroke="#2a2a2a" stroke-width="0.45"/>
<circle cx="327.8" cy="484.7" r="0.75" fill="#111" stroke="none"/>
<polyline points="319.0,474.2 314.6,473.5 309.9,473.9 306.2,473.9 302.5,473.7" stroke="#2a2a2a" stroke-width="0.45"/>
<circle cx="302.5" cy="473.7" r="0.75" fill="#111" stroke="none"/>
<polyline points="319.0,474.2 320.8,470.0 323.6,466.2 324.0,462.7 324.5,458.7" stroke="#2a2a2a" stroke-width="0.45"/>
<circle cx="324.5" cy="458.7" r="0.75" fill="#111" stroke="none"/>
<polyline points="319.0,474.2 316.2,470.2 311.0,470.1 308.4,469.6 304.3,465.6" stroke="#2a2a2a" stroke-width="0.45"/>
<circle cx="304.3" cy="465.6" r="0.75" fill="#111" stroke="none"/>
<polyline points="319.0,474.2 317.7,471.7 316.5,468.0 314.7,463.6 312.8,460.3" stroke="#2a2a2a" stroke-width="0.45"/>
<circle cx="312.8" cy="460.3" r="0.75" fill="#111" stroke="none"/>
<polyline points="319.0,474.2 319.7,475.6 320.5,478.0 320.1,482.8 320.2,483.4" stroke="#2a2a2a" stroke-width="0.45"/>
<circle cx="320.2" cy="483.4" r="0.75" fill="#111" stroke="none"/>
<polyline points="319.0,474.2 320.9,476.5 324.0,478.8 324.5,481.2 327.2,483.3" stroke="#2a2a2a" stroke-width="0.45"/>
<circle cx="327.2" cy="483.3" r="0.75" fill="#111" stroke="none"/>
<polyline points="319.0,474.2 322.7,477.3 324.9,480.7 330.1,481.8 332.1,484.3" stroke="#2a2a2a" stroke-width="0.45"/>
<circle cx="332.1" cy="484.3" r="0.75" fill="#111" stroke="none"/>
<polyline points="319.0,474.2 315.8,472.5 313.3,471.0 309.3,469.9 305.3,468.9" stroke="#2a2a2a" stroke-width="0.45"/>
<circle cx="305.3" cy="468.9" r="0.75" fill="#111" stroke="none"/>
<polyline points="319.0,474.2 315.8,472.1 314.8,468.8 310.5,466.8 308.4,463.4" stroke="#2a2a2a" stroke-width="0.45"/>
<circle cx="308.4" cy="463.4" r="0.75" fill="#111" stroke="none"/>
<polyline points="319.0,474.2 316.7,474.6 315.7,475.4 311.8,476.5 310.0,474.8" stroke="#2a2a2a" stroke-width="0.45"/>
<circle cx="310.0" cy="474.8" r="0.75" fill="#111" stroke="none"/>
<polyline points="319.0,474.2 320.2,471.1 320.8,466.6 321.1,464.4 323.6,459.2" stroke="#2a2a2a" stroke-width="0.45"/>
<circle cx="323.6" cy="459.2" r="0.75" fill="#111" stroke="none"/>
<polyline points="319.0,474.2 316.6,473.2 310.9,472.8 309.6,473.6 305.2,473.9" stroke="#2a2a2a" stroke-width="0.45"/>
<circle cx="305.2" cy="473.9" r="0.75" fill="#111" stroke="none"/>
<polyline points="319.0,474.2 317.7,471.9 316.3,469.3 315.1,467.0 313.8,466.1" stroke="#2a2a2a" stroke-width="0.45"/>
<circle cx="313.8" cy="466.1" r="0.75" fill="#111" stroke="none"/>
<polyline points="319.0,474.2 318.7,471.6 318.9,468.4 317.6,465.9 318.1,463.0" stroke="#2a2a2a" stroke-width="0.45"/>
<circle cx="318.1" cy="463.0" r="0.75" fill="#111" stroke="none"/>
<polyline points="319.0,474.2 321.2,476.7 324.7,476.7 326.2,477.5 329.2,479.3" stroke="#2a2a2a" stroke-width="0.45"/>
<circle cx="329.2" cy="479.3" r="0.75" fill="#111" stroke="none"/>
<polyline points="319.0,474.2 317.9,471.2 318.5,469.2 318.4,467.8 317.6,463.4" stroke="#2a2a2a" stroke-width="0.45"/>
<circle cx="317.6" cy="463.4" r="0.75" fill="#111" stroke="none"/>
<polyline points="319.0,474.2 318.2,469.8 320.7,463.8 317.7,461.0 317.9,456.5" stroke="#2a2a2a" stroke-width="0.45"/>
<circle cx="317.9" cy="456.5" r="0.75" fill="#111" stroke="none"/>
<polyline points="312.0,480.0 305.0,486.0 300.0,492.0 297.0,494.0" stroke="#2a2a2a" stroke-width="0.6"/></g>
<g fill="none" stroke="#111" stroke-width="0.6"><line x1="401" y1="446.3" x2="401" y2="503" stroke="#666" stroke-width="0.9"/>
<line x1="374" y1="475.2" x2="431.7" y2="475.2" stroke="#666" stroke-width="0.9"/>
<line x1="399.8" y1="446.30" x2="401" y2="446.30" stroke="#555" stroke-width="0.6"/>
<rect x="396.60" y="445.70" width="2.2" height="1.2" fill="#4a4a4a" stroke="none"/>
<line x1="399.8" y1="452.08" x2="401" y2="452.08" stroke="#555" stroke-width="0.6"/>
<rect x="396.60" y="451.48" width="2.2" height="1.2" fill="#4a4a4a" stroke="none"/>
<line x1="399.8" y1="457.86" x2="401" y2="457.86" stroke="#555" stroke-width="0.6"/>
<rect x="396.60" y="457.26" width="2.2" height="1.2" fill="#4a4a4a" stroke="none"/>
<line x1="399.8" y1="463.64" x2="401" y2="463.64" stroke="#555" stroke-width="0.6"/>
<rect x="396.60" y="463.04" width="2.2" height="1.2" fill="#4a4a4a" stroke="none"/>
<line x1="399.8" y1="469.42" x2="401" y2="469.42" stroke="#555" stroke-width="0.6"/>
<rect x="396.60" y="468.82" width="2.2" height="1.2" fill="#4a4a4a" stroke="none"/>
<line x1="399.8" y1="480.98" x2="401" y2="480.98" stroke="#555" stroke-width="0.6"/>
<rect x="396.60" y="480.38" width="2.2" height="1.2" fill="#4a4a4a" stroke="none"/>
<line x1="399.8" y1="486.76" x2="401" y2="486.76" stroke="#555" stroke-width="0.6"/>
<rect x="396.60" y="486.16" width="2.2" height="1.2" fill="#4a4a4a" stroke="none"/>
<line x1="399.8" y1="492.54" x2="401" y2="492.54" stroke="#555" stroke-width="0.6"/>
<rect x="396.60" y="491.94" width="2.2" height="1.2" fill="#4a4a4a" stroke="none"/>
<line x1="399.8" y1="498.32" x2="401" y2="498.32" stroke="#555" stroke-width="0.6"/>
<rect x="396.60" y="497.72" width="2.2" height="1.2" fill="#4a4a4a" stroke="none"/>
<line x1="407.14" y1="475.2" x2="407.14" y2="476.4" stroke="#555" stroke-width="0.6"/>
<line x1="406.54" y1="480.80" x2="407.64" y2="478.00" stroke="#444" stroke-width="0.95"/>
<line x1="395.60" y1="475.2" x2="395.60" y2="476.4" stroke="#555" stroke-width="0.6"/>
<line x1="395.00" y1="480.80" x2="396.10" y2="478.00" stroke="#444" stroke-width="0.95"/>
<line x1="413.28" y1="475.2" x2="413.28" y2="476.4" stroke="#555" stroke-width="0.6"/>
<line x1="412.68" y1="480.80" x2="413.78" y2="478.00" stroke="#444" stroke-width="0.95"/>
<line x1="390.20" y1="475.2" x2="390.20" y2="476.4" stroke="#555" stroke-width="0.6"/>
<line x1="389.60" y1="480.80" x2="390.70" y2="478.00" stroke="#444" stroke-width="0.95"/>
<line x1="419.42" y1="475.2" x2="419.42" y2="476.4" stroke="#555" stroke-width="0.6"/>
<line x1="418.82" y1="480.80" x2="419.92" y2="478.00" stroke="#444" stroke-width="0.95"/>
<line x1="384.80" y1="475.2" x2="384.80" y2="476.4" stroke="#555" stroke-width="0.6"/>
<line x1="384.20" y1="480.80" x2="385.30" y2="478.00" stroke="#444" stroke-width="0.95"/>
<line x1="425.56" y1="475.2" x2="425.56" y2="476.4" stroke="#555" stroke-width="0.6"/>
<line x1="424.96" y1="480.80" x2="426.06" y2="478.00" stroke="#444" stroke-width="0.95"/>
<line x1="379.40" y1="475.2" x2="379.40" y2="476.4" stroke="#555" stroke-width="0.6"/>
<line x1="378.80" y1="480.80" x2="379.90" y2="478.00" stroke="#444" stroke-width="0.95"/>
<line x1="431.70" y1="475.2" x2="431.70" y2="476.4" stroke="#555" stroke-width="0.6"/>
<line x1="431.10" y1="480.80" x2="432.20" y2="478.00" stroke="#444" stroke-width="0.95"/>
<line x1="374.00" y1="475.2" x2="374.00" y2="476.4" stroke="#555" stroke-width="0.6"/>
<line x1="373.40" y1="480.80" x2="374.50" y2="478.00" stroke="#444" stroke-width="0.95"/>
<line x1="369.00" y1="463.20" x2="369.00" y2="487.20" stroke="#444" stroke-width="1.0" stroke-dasharray="2.5 0.6"/>
<g stroke="#0a0a0a" stroke-width="0.45"><polyline points="401.5,485.6 402.8,487.7 402.3,484.8 403.8,486.3 403.9,489.3 405.7,489.3 406.2,492.2 405.0,489.9 403.2,490.6"/><polyline points="399.5,480.9 400.2,483.7 401.1,481.1 402.6,482.7 402.8,485.7 404.7,486.0 404.5,489.0 402.9,490.6 404.4,488.9"/><polyline points="400.5,480.9 400.4,483.9 402.3,483.7 404.0,484.9 402.6,482.8 401.3,484.9 400.3,482.4 399.4,484.9 398.7,482.2"/><polyline points="399.1,480.2 400.6,478.5 399.0,477.0 400.2,479.4 401.9,480.5 403.6,479.6 401.8,479.8 402.4,482.6 404.1,481.6"/><polyline points="399.2,478.6 400.5,476.5 400.1,479.5 398.9,481.8 400.3,479.7 401.5,482.0 401.7,479.0 403.2,480.7 402.5,477.9"/><polyline points="400.1,475.3 401.1,472.8 399.2,472.7 399.8,475.5 400.9,478.0 399.1,477.4 397.3,477.2 398.9,478.5 400.4,476.8"/><polyline points="399.0,480.0 399.3,483.0 399.4,486.0 401.2,486.2 400.2,488.7 400.0,491.7 398.4,493.0 397.1,495.1 398.0,492.5"/><polyline points="401.6,479.4 400.2,481.2 401.1,483.8 400.1,481.2 402.0,480.7 402.5,483.6 402.7,480.6 402.1,483.5 404.0,483.7"/><polyline points="401.1,478.3 402.0,480.9 400.3,482.1 400.5,485.0 399.0,486.6 397.2,487.6 395.6,489.1 394.1,487.5 393.6,490.4"/><polyline points="401.5,480.7 402.9,482.6 401.1,482.2 399.9,484.5 400.6,481.7 398.7,481.6 398.2,478.7 400.1,478.3 401.8,479.5"/><polyline points="401.7,480.3 400.3,482.3 398.7,480.9 398.6,478.0 397.5,480.4 399.3,479.7 401.1,479.8 402.1,477.2 402.5,480.1"/><polyline points="401.2,479.8 403.0,479.2 403.1,476.2 405.0,476.0 403.4,474.6 404.2,477.2 406.0,476.7 404.3,477.8 405.9,479.3"/><polyline points="399.8,478.7 398.0,479.2 399.0,481.6 400.3,483.7 398.7,482.3 397.0,483.1 398.3,485.3 396.6,486.4 396.3,483.4"/><polyline points="400.7,477.9 399.2,479.7 398.1,482.0 398.3,485.0 398.9,487.8 397.2,488.8 398.6,490.7 398.3,487.7 397.9,484.8"/><polyline points="400.8,479.9 399.6,482.2 397.9,483.4 399.4,485.0 401.2,484.4 401.3,481.5 399.5,481.4 399.0,478.5 399.5,481.4"/><polyline points="401.2,482.8 401.1,479.8 400.0,477.4 401.9,477.5 400.5,475.6 402.0,473.9 401.9,471.0 403.6,469.6 405.4,469.3"/><polyline points="401.2,481.9 399.4,481.1 401.2,480.6 400.0,482.8 401.7,481.8 402.8,479.3 401.0,479.0 399.7,476.9 401.4,476.1"/><polyline points="401.2,478.5 402.3,476.0 402.9,478.8 401.6,481.0 403.4,480.2 404.5,477.8 403.8,480.5 403.3,483.4 401.9,481.5"/><polyline points="402.1,477.5 403.8,476.4 403.5,473.4 404.3,470.7 402.9,468.9 401.7,471.1 400.0,472.5 398.2,472.6 396.4,472.1"/><polyline points="401.5,478.8 403.2,480.0 403.0,477.1 402.8,480.0 401.2,481.5 402.5,483.5 403.4,480.8 403.1,483.8 402.7,486.7"/><polyline points="401.5,477.8 401.2,480.8 402.6,478.9 401.0,480.4 399.9,482.7 401.7,482.1 402.1,479.2 402.1,476.2 402.1,479.2"/><polyline points="401.7,477.6 402.6,475.0 401.3,477.2 401.7,474.2 402.2,471.4 400.8,473.3 399.7,470.8 400.1,467.9 401.9,467.8"/><polyline points="403.0,478.4 404.2,480.7 402.8,478.8 402.1,476.0 403.6,477.6 401.8,478.3 403.1,476.1 404.6,474.4 406.3,473.1"/><polyline points="402.5,481.8 403.7,479.5 402.6,477.1 401.9,479.8 403.6,480.5 405.3,479.1 406.4,476.8 405.4,474.3 404.1,476.5"/><polyline points="402.1,476.8 401.8,473.8 400.3,472.1 399.6,474.8 399.0,477.6 397.9,480.0 397.0,482.6 395.2,482.3 396.6,484.2"/><polyline points="400.8,478.3 401.8,480.8 401.7,483.8 400.3,485.7 398.6,486.9 399.0,484.0 400.5,485.8 400.8,488.7 400.3,491.6"/><polyline points="402.0,483.3 403.4,485.2 405.1,486.2 403.4,485.1 403.2,482.2 404.1,479.5 402.4,478.4 401.5,481.1 402.9,479.0"/><polyline points="400.9,477.8 399.2,476.6 400.9,475.5 402.7,475.4 404.4,474.2 405.6,476.4 404.8,479.0 403.2,480.7 404.1,483.3"/><polyline points="401.0,479.5 402.4,477.5 400.9,476.0 399.5,474.0 397.9,475.5 399.6,474.4 398.0,473.0 399.4,471.2 401.0,469.8"/><polyline points="399.7,474.5 397.8,474.7 396.6,477.0 397.6,474.5 395.8,474.0 395.2,476.7 394.4,474.0 392.6,474.5 393.8,476.6"/><polyline points="401.8,478.1 403.6,477.6 401.8,476.9 403.5,475.8 403.1,478.7 403.4,481.6 401.6,481.1 401.8,478.1 402.6,475.5"/><polyline points="400.6,479.3 399.2,481.2 400.9,481.8 399.7,484.0 401.4,483.0 400.4,485.4 399.8,482.6 398.4,480.5 399.6,482.9"/><polyline points="400.8,479.4 401.5,482.1 399.9,480.7 401.2,482.8 403.0,482.2 401.4,483.5 400.1,481.4 401.9,480.7 403.3,482.6"/><polyline points="401.4,480.2 399.9,478.4 398.9,475.9 400.7,475.7 399.5,478.0 401.3,477.0 400.2,474.6 398.4,475.0 399.3,477.7"/><polyline points="401.1,482.2 400.1,484.7 398.8,486.8 399.4,484.0 398.1,486.1 396.9,484.0 398.7,484.7 399.8,487.0 399.4,484.1"/><polyline points="401.9,479.0 403.7,479.6 403.9,482.6 402.7,484.9 401.5,487.1 399.8,486.0 399.2,488.8 398.1,486.5 398.5,483.5"/><polyline points="401.4,476.8 399.9,475.3 399.7,478.3 400.7,475.8 400.3,478.7 401.4,476.4 399.7,477.3 398.4,475.2 396.6,475.2"/><polyline points="400.3,478.6 398.7,477.2 398.6,474.2 397.4,476.5 395.9,474.7 394.1,475.6 392.3,476.1 390.9,478.1 389.2,477.2"/><polyline points="400.8,478.9 401.9,481.3 402.7,478.6 404.3,480.2 404.8,477.3 404.9,474.3 405.3,477.3 404.1,475.0 404.0,478.0"/><polyline points="401.6,479.3 403.0,481.2 404.8,481.9 404.4,479.0 404.9,481.9 404.2,484.6 406.0,484.2 405.8,481.2 405.7,478.3"/><polyline points="399.3,478.8 401.2,479.0 401.9,476.3 401.0,478.9 402.1,476.5 400.6,478.1 402.1,476.5 404.0,476.5 405.8,476.1"/><polyline points="402.3,481.6 400.5,482.0 402.3,481.7 401.9,478.8 403.7,478.5 405.3,476.8 403.6,478.1 404.7,480.5 405.8,482.9"/></g>
<polyline points="401.0,480.2 400.8,476.1 398.2,470.9 398.2,464.3 398.0,461.8" stroke="#2a2a2a" stroke-width="0.45"/>
<circle cx="398.0" cy="461.8" r="0.75" fill="#111" stroke="none"/>
<polyline points="401.0,480.2 401.1,475.3 398.2,473.4 397.4,471.6 396.8,468.5" stroke="#2a2a2a" stroke-width="0.45"/>
<circle cx="396.8" cy="468.5" r="0.75" fill="#111" stroke="none"/>
<polyline points="401.0,480.2 399.2,476.5 397.1,476.2 395.0,474.8 392.7,470.8" stroke="#2a2a2a" stroke-width="0.45"/>
<circle cx="392.7" cy="470.8" r="0.75" fill="#111" stroke="none"/>
<polyline points="401.0,480.2 400.6,484.0 400.6,487.3 400.8,493.9 400.8,496.9" stroke="#2a2a2a" stroke-width="0.45"/>
<circle cx="400.8" cy="496.9" r="0.75" fill="#111" stroke="none"/>
<polyline points="401.0,480.2 401.9,482.7 402.1,486.6 403.3,485.8 403.1,490.3" stroke="#2a2a2a" stroke-width="0.45"/>
<circle cx="403.1" cy="490.3" r="0.75" fill="#111" stroke="none"/>
<polyline points="401.0,480.2 402.2,482.7 405.7,483.8 407.9,483.4 409.4,486.0" stroke="#2a2a2a" stroke-width="0.45"/>
<circle cx="409.4" cy="486.0" r="0.75" fill="#111" stroke="none"/>
<polyline points="401.0,480.2 399.5,477.7 398.9,474.4 400.4,469.5 398.5,468.5" stroke="#2a2a2a" stroke-width="0.45"/>
<circle cx="398.5" cy="468.5" r="0.75" fill="#111" stroke="none"/>
<polyline points="401.0,480.2 399.3,484.4 397.7,484.8 394.2,487.8 392.8,490.3" stroke="#2a2a2a" stroke-width="0.45"/>
<circle cx="392.8" cy="490.3" r="0.75" fill="#111" stroke="none"/>
<polyline points="401.0,480.2 400.0,484.1 400.4,487.4 400.9,491.5 400.2,495.3" stroke="#2a2a2a" stroke-width="0.45"/>
<circle cx="400.2" cy="495.3" r="0.75" fill="#111" stroke="none"/>
<polyline points="401.0,480.2 398.9,477.9 397.4,475.7 395.5,474.7 394.1,471.7" stroke="#2a2a2a" stroke-width="0.45"/>
<circle cx="394.1" cy="471.7" r="0.75" fill="#111" stroke="none"/>
<polyline points="401.0,480.2 401.4,485.3 402.7,489.3 403.2,490.9 403.7,496.3" stroke="#2a2a2a" stroke-width="0.45"/>
<circle cx="403.7" cy="496.3" r="0.75" fill="#111" stroke="none"/>
<polyline points="401.0,480.2 402.0,476.8 399.2,474.6 399.4,469.4 398.7,468.6" stroke="#2a2a2a" stroke-width="0.45"/>
<circle cx="398.7" cy="468.6" r="0.75" fill="#111" stroke="none"/>
<polyline points="401.0,480.2 401.0,476.0 402.5,471.4 403.0,468.7 404.5,464.9" stroke="#2a2a2a" stroke-width="0.45"/>
<circle cx="404.5" cy="464.9" r="0.75" fill="#111" stroke="none"/>
<polyline points="401.0,480.2 402.1,477.3 404.7,473.1 407.5,472.0 408.2,467.2" stroke="#2a2a2a" stroke-width="0.45"/>
<circle cx="408.2" cy="467.2" r="0.75" fill="#111" stroke="none"/>
<polyline points="401.0,480.2 397.4,480.2 396.7,479.6 391.8,479.6 390.6,480.8" stroke="#2a2a2a" stroke-width="0.45"/>
<circle cx="390.6" cy="480.8" r="0.75" fill="#111" stroke="none"/>
<polyline points="401.0,480.2 399.5,483.2 399.2,488.3 398.4,489.3 397.0,495.2" stroke="#2a2a2a" stroke-width="0.45"/>
<circle cx="397.0" cy="495.2" r="0.75" fill="#111" stroke="none"/></g>
<g fill="none" stroke="#111" stroke-width="0.6"><line x1="151" y1="518.8" x2="151" y2="576" stroke="#666" stroke-width="0.9"/>
<line x1="122" y1="547.1" x2="179.8" y2="547.1" stroke="#666" stroke-width="0.9"/>
<line x1="149.8" y1="518.80" x2="151" y2="518.80" stroke="#555" stroke-width="0.6"/>
<rect x="146.60" y="518.20" width="2.2" height="1.2" fill="#4a4a4a" stroke="none"/>
<line x1="149.8" y1="524.46" x2="151" y2="524.46" stroke="#555" stroke-width="0.6"/>
<rect x="146.60" y="523.86" width="2.2" height="1.2" fill="#4a4a4a" stroke="none"/>
<line x1="149.8" y1="530.12" x2="151" y2="530.12" stroke="#555" stroke-width="0.6"/>
<rect x="146.60" y="529.52" width="2.2" height="1.2" fill="#4a4a4a" stroke="none"/>
<line x1="149.8" y1="535.78" x2="151" y2="535.78" stroke="#555" stroke-width="0.6"/>
<rect x="146.60" y="535.18" width="2.2" height="1.2" fill="#4a4a4a" stroke="none"/>
<line x1="149.8" y1="541.44" x2="151" y2="541.44" stroke="#555" stroke-width="0.6"/>
<rect x="146.60" y="540.84" width="2.2" height="1.2" fill="#4a4a4a" stroke="none"/>
<line x1="149.8" y1="552.76" x2="151" y2="552.76" stroke="#555" stroke-width="0.6"/>
<rect x="146.60" y="552.16" width="2.2" height="1.2" fill="#4a4a4a" stroke="none"/>
<line x1="149.8" y1="558.42" x2="151" y2="558.42" stroke="#555" stroke-width="0.6"/>
<rect x="146.60" y="557.82" width="2.2" height="1.2" fill="#4a4a4a" stroke="none"/>
<line x1="149.8" y1="564.08" x2="151" y2="564.08" stroke="#555" stroke-width="0.6"/>
<rect x="146.60" y="563.48" width="2.2" height="1.2" fill="#4a4a4a" stroke="none"/>
<line x1="149.8" y1="569.74" x2="151" y2="569.74" stroke="#555" stroke-width="0.6"/>
<rect x="146.60" y="569.14" width="2.2" height="1.2" fill="#4a4a4a" stroke="none"/>
<line x1="149.8" y1="575.40" x2="151" y2="575.40" stroke="#555" stroke-width="0.6"/>
<rect x="146.60" y="574.80" width="2.2" height="1.2" fill="#4a4a4a" stroke="none"/>
<line x1="156.76" y1="547.1" x2="156.76" y2="548.3000000000001" stroke="#555" stroke-width="0.6"/>
<line x1="156.16" y1="552.70" x2="157.26" y2="549.90" stroke="#444" stroke-width="0.95"/>
<line x1="145.20" y1="547.1" x2="145.20" y2="548.3000000000001" stroke="#555" stroke-width="0.6"/>
<line x1="144.60" y1="552.70" x2="145.70" y2="549.90" stroke="#444" stroke-width="0.95"/>
<line x1="162.52" y1="547.1" x2="162.52" y2="548.3000000000001" stroke="#555" stroke-width="0.6"/>
<line x1="161.92" y1="552.70" x2="163.02" y2="549.90" stroke="#444" stroke-width="0.95"/>
<line x1="139.40" y1="547.1" x2="139.40" y2="548.3000000000001" stroke="#555" stroke-width="0.6"/>
<line x1="138.80" y1="552.70" x2="139.90" y2="549.90" stroke="#444" stroke-width="0.95"/>
<line x1="168.28" y1="547.1" x2="168.28" y2="548.3000000000001" stroke="#555" stroke-width="0.6"/>
<line x1="167.68" y1="552.70" x2="168.78" y2="549.90" stroke="#444" stroke-width="0.95"/>
<line x1="133.60" y1="547.1" x2="133.60" y2="548.3000000000001" stroke="#555" stroke-width="0.6"/>
<line x1="133.00" y1="552.70" x2="134.10" y2="549.90" stroke="#444" stroke-width="0.95"/>
<line x1="174.04" y1="547.1" x2="174.04" y2="548.3000000000001" stroke="#555" stroke-width="0.6"/>
<line x1="173.44" y1="552.70" x2="174.54" y2="549.90" stroke="#444" stroke-width="0.95"/>
<line x1="127.80" y1="547.1" x2="127.80" y2="548.3000000000001" stroke="#555" stroke-width="0.6"/>
<line x1="127.20" y1="552.70" x2="128.30" y2="549.90" stroke="#444" stroke-width="0.95"/>
<line x1="179.80" y1="547.1" x2="179.80" y2="548.3000000000001" stroke="#555" stroke-width="0.6"/>
<line x1="179.20" y1="552.70" x2="180.30" y2="549.90" stroke="#444" stroke-width="0.95"/>
<line x1="122.00" y1="547.1" x2="122.00" y2="548.3000000000001" stroke="#555" stroke-width="0.6"/>
<line x1="121.40" y1="552.70" x2="122.50" y2="549.90" stroke="#444" stroke-width="0.95"/>
<line x1="118.30" y1="535.10" x2="118.30" y2="559.10" stroke="#444" stroke-width="1.0" stroke-dasharray="2.5 0.6"/>
<g stroke="#0a0a0a" stroke-width="0.55"><polyline points="149.4,543.4 151.1,545.1 152.8,543.5 155.4,543.6 152.8,543.5 154.9,542.2 157.1,543.3 154.7,542.5"/><polyline points="150.6,542.8 148.8,544.3 148.0,542.2 145.6,542.9 145.2,540.7 146.6,542.5 146.8,544.7 148.7,546.2"/><polyline points="147.1,543.0 145.0,541.8 145.3,539.6 143.4,541.1 143.4,538.9 145.4,540.2 144.8,542.3 143.6,540.4"/><polyline points="150.7,541.6 152.9,542.7 152.7,544.9 153.3,547.1 152.8,549.3 153.7,547.2 154.5,549.3 156.5,547.8"/><polyline points="151.4,542.8 149.5,544.3 147.0,544.4 149.5,544.7 147.2,545.7 149.4,544.5 151.3,545.9 149.2,544.7"/><polyline points="152.6,544.4 154.7,543.1 155.4,545.2 158.0,545.3 160.2,546.4 157.7,545.9 160.3,546.1 162.5,547.2"/><polyline points="147.2,543.2 144.9,544.2 142.8,545.6 141.2,543.9 143.3,545.1 141.1,544.0 142.3,546.0 140.3,544.6"/><polyline points="151.6,543.0 149.1,542.2 147.1,540.9 148.6,542.6 148.3,544.8 150.9,544.8 153.5,544.7 155.4,546.3"/><polyline points="149.8,539.6 150.1,541.9 148.1,540.4 150.6,541.0 148.8,542.7 147.7,540.7 145.5,539.5 145.9,537.3"/><polyline points="152.3,543.8 154.0,542.1 151.8,541.0 149.4,541.7 147.2,543.0 149.8,542.8 147.5,541.8 150.1,542.0"/><polyline points="151.5,541.9 149.1,542.8 149.7,544.9 147.3,545.7 146.1,547.6 148.3,548.8 146.5,547.2 148.6,548.5"/><polyline points="151.1,542.8 151.6,540.6 152.5,538.5 149.9,538.6 149.3,536.4 149.3,538.6 149.1,536.4 146.8,537.4"/><polyline points="151.5,546.8 149.4,548.1 147.6,549.7 149.3,548.0 147.5,549.6 146.2,547.7 147.5,549.7 148.9,547.8"/><polyline points="151.0,543.6 153.5,543.2 154.7,545.2 157.2,544.5 159.7,544.3 157.7,542.9 160.3,543.1 162.7,543.9"/><polyline points="151.4,544.5 149.5,543.1 152.0,542.6 150.4,544.4 152.0,546.1 149.7,545.2 151.3,546.9 153.5,548.1"/><polyline points="148.5,542.3 150.9,543.2 148.4,543.9 147.7,541.8 147.9,539.6 146.0,541.0 148.0,539.6 149.2,541.5"/><polyline points="150.4,540.6 152.3,539.1 149.7,539.2 151.8,540.5 154.2,541.2 151.7,540.8 152.9,542.7 151.1,541.1"/><polyline points="153.6,544.4 154.0,546.6 156.6,546.7 157.7,548.7 155.3,549.3 152.9,548.5 150.9,549.9 152.1,551.9"/><polyline points="146.9,543.5 144.4,543.0 146.8,542.2 149.3,542.6 151.9,542.5 153.9,541.1 151.4,540.5 148.8,540.2"/><polyline points="147.4,542.4 149.7,543.2 148.1,541.5 145.6,540.9 144.8,543.0 144.4,540.9 143.9,538.7 146.0,540.0"/><polyline points="150.4,541.6 147.8,541.7 146.2,540.0 148.6,540.8 146.5,539.4 144.7,541.0 146.6,539.5 146.9,541.7"/><polyline points="152.2,541.0 150.4,539.4 152.2,537.9 154.7,538.4 152.6,537.1 150.7,535.6 149.6,533.7 147.4,534.9"/><polyline points="152.0,543.5 150.0,542.1 151.1,544.1 153.4,545.0 151.9,546.7 149.3,547.2 146.8,546.7 149.4,547.0"/><polyline points="151.2,541.8 151.8,539.6 154.4,539.8 156.8,539.1 154.6,537.9 157.2,537.6 159.8,537.4 161.1,535.5"/><polyline points="152.2,543.9 152.5,546.1 153.0,544.0 153.9,546.0 154.4,548.2 156.4,549.6 158.3,551.1 160.7,550.3"/><polyline points="152.6,542.9 152.5,540.7 150.0,541.1 147.4,540.8 145.6,542.4 143.9,540.8 144.2,543.0 144.1,545.2"/><polyline points="149.9,543.0 147.5,543.8 149.9,543.1 152.5,543.4 154.5,544.7 155.3,542.6 157.7,543.4 157.7,545.6"/><polyline points="152.4,541.5 152.9,543.7 155.3,544.5 154.9,546.7 154.1,548.8 154.9,546.7 157.4,546.3 158.0,544.2"/><polyline points="154.2,541.1 156.1,539.6 158.3,538.5 160.8,538.1 163.0,539.3 161.9,541.3 162.0,543.5 159.9,542.2"/><polyline points="149.4,543.2 150.8,541.3 148.7,542.6 149.3,544.7 148.9,546.9 146.4,547.4 144.4,546.0 142.1,545.1"/><polyline points="150.0,543.4 147.9,544.7 146.7,546.7 147.9,548.6 145.5,548.0 146.4,550.1 145.8,547.9 144.4,546.1"/><polyline points="152.6,544.7 151.2,546.5 148.8,547.3 146.7,545.9 146.9,543.7 148.8,542.2 148.6,540.0 149.2,542.2"/><polyline points="149.5,542.8 152.1,543.0 149.6,542.3 147.1,542.7 148.8,541.1 147.7,543.0 149.0,541.1 146.4,540.9"/><polyline points="153.2,544.5 152.6,546.6 150.1,546.2 152.4,547.1 155.0,547.3 157.3,546.2 159.8,546.8 161.3,548.6"/><polyline points="151.4,543.7 152.6,541.7 155.1,541.6 153.6,539.8 151.6,541.2 153.5,539.8 151.0,539.7 152.7,541.3"/><polyline points="150.4,541.8 150.1,544.0 149.0,546.0 147.0,547.5 148.1,549.5 146.1,548.0 147.9,546.4 145.6,545.5"/><polyline points="153.6,543.2 156.1,543.5 153.6,543.8 155.3,542.2 154.2,540.2 156.3,539.0 156.4,536.8 156.0,538.9"/><polyline points="152.2,544.4 151.1,542.4 151.3,544.6 150.1,546.5 150.1,544.3 148.6,546.1 146.5,544.8 144.0,544.2"/><polyline points="151.4,543.0 152.4,545.0 152.8,542.8 151.6,540.9 153.7,542.1 155.4,543.8 156.0,545.9 153.5,545.4"/><polyline points="152.0,542.5 152.7,544.6 151.7,542.6 149.4,543.6 150.9,541.8 153.5,541.8 155.9,540.9 155.3,538.8"/><polyline points="150.4,543.1 151.3,541.0 149.2,542.4 146.7,542.9 145.0,541.2 147.5,540.7 145.1,540.0 147.3,538.9"/><polyline points="151.7,543.0 150.1,544.7 152.1,543.3 152.4,541.1 154.9,540.7 155.9,542.7 153.4,542.3 155.7,541.4"/><polyline points="148.5,542.6 151.1,542.2 152.3,544.2 154.7,544.9 156.3,543.2 154.0,542.1 154.8,544.2 156.1,542.3"/><polyline points="150.8,543.9 150.1,546.0 152.6,546.5 150.4,547.7 150.9,545.5 148.4,546.2 150.9,545.7 153.4,546.2"/><polyline points="151.4,543.8 149.1,542.8 149.9,544.9 148.7,543.0 146.1,542.7 143.9,541.6 145.3,539.8 145.9,537.6"/><polyline points="151.9,542.7 150.0,544.2 152.5,543.7 150.4,545.0 149.9,547.2 147.3,547.4 148.4,549.4 149.9,547.6"/><polyline points="150.5,542.6 153.0,542.1 150.5,541.8 150.4,544.0 148.4,542.6 150.9,541.9 149.4,543.7 152.0,543.9"/><polyline points="151.2,543.6 148.7,543.2 147.7,545.2 149.2,543.5 149.9,545.6 152.5,545.8 150.0,546.3 151.8,547.8"/><polyline points="150.5,544.1 151.7,546.1 150.0,544.4 152.4,543.5 150.6,545.1 148.9,543.4 147.8,545.4 150.0,544.3"/><polyline points="150.6,543.0 150.5,540.8 151.1,542.9 153.6,543.6 156.1,543.8 157.5,542.0 156.9,539.8 155.3,541.5"/></g>
<polyline points="151.0,543.1 148.4,542.8 145.2,541.4 143.6,540.2 140.0,539.5" stroke="#2a2a2a" stroke-width="0.6"/>
<circle cx="140.0" cy="539.5" r="0.75" fill="#111" stroke="none"/>
<polyline points="151.0,543.1 154.1,544.1 155.3,544.4 158.3,546.0 161.5,547.7" stroke="#2a2a2a" stroke-width="0.6"/>
<circle cx="161.5" cy="547.7" r="0.75" fill="#111" stroke="none"/>
<polyline points="151.0,543.1 151.0,540.4 147.7,538.7 150.5,534.5 147.6,532.1" stroke="#2a2a2a" stroke-width="0.6"/>
<circle cx="147.6" cy="532.1" r="0.75" fill="#111" stroke="none"/>
<polyline points="151.0,543.1 154.1,543.9 156.8,544.9 159.1,545.7 161.2,546.5" stroke="#2a2a2a" stroke-width="0.6"/>
<circle cx="161.2" cy="546.5" r="0.75" fill="#111" stroke="none"/>
<polyline points="151.0,543.1 147.3,542.7 144.0,542.4 141.2,544.6 138.3,542.5" stroke="#2a2a2a" stroke-width="0.6"/>
<circle cx="138.3" cy="542.5" r="0.75" fill="#111" stroke="none"/>
<polyline points="151.0,543.1 149.8,546.3 146.0,546.6 146.2,549.6 143.4,550.5" stroke="#2a2a2a" stroke-width="0.6"/>
<circle cx="143.4" cy="550.5" r="0.75" fill="#111" stroke="none"/>
<polyline points="151.0,543.1 153.3,541.6 153.6,540.8 155.3,539.6 158.6,538.2" stroke="#2a2a2a" stroke-width="0.6"/>
<circle cx="158.6" cy="538.2" r="0.75" fill="#111" stroke="none"/>
<polyline points="151.0,543.1 147.3,542.3 143.9,541.4 140.2,542.5 138.1,542.0" stroke="#2a2a2a" stroke-width="0.6"/>
<circle cx="138.1" cy="542.0" r="0.75" fill="#111" stroke="none"/>
<polyline points="151.0,543.1 153.7,543.1 158.3,544.7 161.1,543.8 164.2,545.6" stroke="#2a2a2a" stroke-width="0.6"/>
<circle cx="164.2" cy="545.6" r="0.75" fill="#111" stroke="none"/>
<polyline points="151.0,543.1 150.9,545.5 148.1,546.7 148.8,550.0 147.1,551.2" stroke="#2a2a2a" stroke-width="0.6"/>
<circle cx="147.1" cy="551.2" r="0.75" fill="#111" stroke="none"/>
<polyline points="151.0,543.1 149.9,544.8 150.6,547.9 149.5,550.9 148.1,553.4" stroke="#2a2a2a" stroke-width="0.6"/>
<circle cx="148.1" cy="553.4" r="0.75" fill="#111" stroke="none"/>
<polyline points="151.0,543.1 147.9,542.3 146.4,541.8 142.2,541.1 139.2,541.0" stroke="#2a2a2a" stroke-width="0.6"/>
<circle cx="139.2" cy="541.0" r="0.75" fill="#111" stroke="none"/>
<polyline points="151.0,543.1 155.3,544.8 155.2,546.4 157.3,548.0 161.2,549.8" stroke="#2a2a2a" stroke-width="0.6"/>
<circle cx="161.2" cy="549.8" r="0.75" fill="#111" stroke="none"/>
<polyline points="151.0,543.1 151.2,541.7 154.7,540.3 154.5,535.8 156.0,534.1" stroke="#2a2a2a" stroke-width="0.6"/>
<circle cx="156.0" cy="534.1" r="0.75" fill="#111" stroke="none"/>
<polyline points="152.0,545.0 156.0,541.0 160.0,538.0 163.0,534.0" stroke="#2a2a2a" stroke-width="0.6"/></g>
<g fill="none" stroke="#111" stroke-width="0.6"><line x1="234.8" y1="518.8" x2="234.8" y2="576" stroke="#666" stroke-width="0.9"/>
<line x1="206" y1="547.1" x2="262.7" y2="547.1" stroke="#666" stroke-width="0.9"/>
<line x1="233.60000000000002" y1="518.80" x2="234.8" y2="518.80" stroke="#555" stroke-width="0.6"/>
<rect x="230.40" y="518.20" width="2.2" height="1.2" fill="#4a4a4a" stroke="none"/>
<line x1="233.60000000000002" y1="524.46" x2="234.8" y2="524.46" stroke="#555" stroke-width="0.6"/>
<rect x="230.40" y="523.86" width="2.2" height="1.2" fill="#4a4a4a" stroke="none"/>
<line x1="233.60000000000002" y1="530.12" x2="234.8" y2="530.12" stroke="#555" stroke-width="0.6"/>
<rect x="230.40" y="529.52" width="2.2" height="1.2" fill="#4a4a4a" stroke="none"/>
<line x1="233.60000000000002" y1="535.78" x2="234.8" y2="535.78" stroke="#555" stroke-width="0.6"/>
<rect x="230.40" y="535.18" width="2.2" height="1.2" fill="#4a4a4a" stroke="none"/>
<line x1="233.60000000000002" y1="541.44" x2="234.8" y2="541.44" stroke="#555" stroke-width="0.6"/>
<rect x="230.40" y="540.84" width="2.2" height="1.2" fill="#4a4a4a" stroke="none"/>
<line x1="233.60000000000002" y1="552.76" x2="234.8" y2="552.76" stroke="#555" stroke-width="0.6"/>
<rect x="230.40" y="552.16" width="2.2" height="1.2" fill="#4a4a4a" stroke="none"/>
<line x1="233.60000000000002" y1="558.42" x2="234.8" y2="558.42" stroke="#555" stroke-width="0.6"/>
<rect x="230.40" y="557.82" width="2.2" height="1.2" fill="#4a4a4a" stroke="none"/>
<line x1="233.60000000000002" y1="564.08" x2="234.8" y2="564.08" stroke="#555" stroke-width="0.6"/>
<rect x="230.40" y="563.48" width="2.2" height="1.2" fill="#4a4a4a" stroke="none"/>
<line x1="233.60000000000002" y1="569.74" x2="234.8" y2="569.74" stroke="#555" stroke-width="0.6"/>
<rect x="230.40" y="569.14" width="2.2" height="1.2" fill="#4a4a4a" stroke="none"/>
<line x1="233.60000000000002" y1="575.40" x2="234.8" y2="575.40" stroke="#555" stroke-width="0.6"/>
<rect x="230.40" y="574.80" width="2.2" height="1.2" fill="#4a4a4a" stroke="none"/>
<line x1="240.38" y1="547.1" x2="240.38" y2="548.3000000000001" stroke="#555" stroke-width="0.6"/>
<line x1="239.78" y1="552.70" x2="240.88" y2="549.90" stroke="#444" stroke-width="0.95"/>
<line x1="229.04" y1="547.1" x2="229.04" y2="548.3000000000001" stroke="#555" stroke-width="0.6"/>
<line x1="228.44" y1="552.70" x2="229.54" y2="549.90" stroke="#444" stroke-width="0.95"/>
<line x1="245.96" y1="547.1" x2="245.96" y2="548.3000000000001" stroke="#555" stroke-width="0.6"/>
<line x1="245.36" y1="552.70" x2="246.46" y2="549.90" stroke="#444" stroke-width="0.95"/>
<line x1="223.28" y1="547.1" x2="223.28" y2="548.3000000000001" stroke="#555" stroke-width="0.6"/>
<line x1="222.68" y1="552.70" x2="223.78" y2="549.90" stroke="#444" stroke-width="0.95"/>
<line x1="251.54" y1="547.1" x2="251.54" y2="548.3000000000001" stroke="#555" stroke-width="0.6"/>
<line x1="250.94" y1="552.70" x2="252.04" y2="549.90" stroke="#444" stroke-width="0.95"/>
<line x1="217.52" y1="547.1" x2="217.52" y2="548.3000000000001" stroke="#555" stroke-width="0.6"/>
<line x1="216.92" y1="552.70" x2="218.02" y2="549.90" stroke="#444" stroke-width="0.95"/>
<line x1="257.12" y1="547.1" x2="257.12" y2="548.3000000000001" stroke="#555" stroke-width="0.6"/>
<line x1="256.52" y1="552.70" x2="257.62" y2="549.90" stroke="#444" stroke-width="0.95"/>
<line x1="211.76" y1="547.1" x2="211.76" y2="548.3000000000001" stroke="#555" stroke-width="0.6"/>
<line x1="211.16" y1="552.70" x2="212.26" y2="549.90" stroke="#444" stroke-width="0.95"/>
<line x1="262.70" y1="547.1" x2="262.70" y2="548.3000000000001" stroke="#555" stroke-width="0.6"/>
<line x1="262.10" y1="552.70" x2="263.20" y2="549.90" stroke="#444" stroke-width="0.95"/>
<line x1="206.00" y1="547.1" x2="206.00" y2="548.3000000000001" stroke="#555" stroke-width="0.6"/>
<line x1="205.40" y1="552.70" x2="206.50" y2="549.90" stroke="#444" stroke-width="0.95"/>
<line x1="201.80" y1="535.10" x2="201.80" y2="559.10" stroke="#444" stroke-width="1.0" stroke-dasharray="2.5 0.6"/>
<g stroke="#0a0a0a" stroke-width="0.75"><polyline points="233.7,546.8 232.0,546.2 232.5,547.4 233.3,546.2 234.1,545.1 233.0,544.1 234.0,545.1"/><polyline points="233.8,547.0 233.8,548.3 235.6,547.9 237.5,547.9 239.3,548.2 240.6,547.3 239.0,546.5"/><polyline points="234.1,547.5 233.2,546.4 231.4,546.7 230.6,545.6 229.6,544.5 230.9,545.5 231.1,544.2"/><polyline points="237.9,546.9 236.4,546.1 238.3,546.4 240.2,546.4 241.4,547.4 243.2,546.9 242.6,548.1"/><polyline points="233.1,548.3 232.4,549.5 230.6,549.1 228.8,549.6 230.6,550.1 228.9,549.4 230.0,548.4"/><polyline points="235.3,547.6 233.6,548.2 235.5,548.5 233.6,548.5 234.4,547.4 233.3,546.3 231.5,546.1"/><polyline points="235.2,546.8 233.5,546.2 232.1,547.1 230.6,546.4 232.0,547.2 232.3,546.0 233.9,546.7"/><polyline points="235.9,548.3 237.7,547.9 235.9,548.4 234.3,549.0 234.3,550.3 234.0,551.5 232.6,550.7"/><polyline points="235.1,547.4 233.2,547.8 234.2,548.9 233.1,547.9 233.9,546.7 234.2,545.5 232.3,545.7"/><polyline points="234.1,547.8 236.0,547.8 235.5,546.6 234.6,547.7 233.8,548.8 235.5,549.4 233.7,549.8"/><polyline points="233.8,546.7 235.1,545.8 234.2,544.7 234.3,546.0 232.4,545.8 234.0,545.1 232.1,544.9"/><polyline points="234.5,546.9 232.6,547.0 230.7,547.3 229.1,548.0 227.5,548.6 225.8,548.0 224.0,547.7"/><polyline points="234.1,547.1 232.3,547.6 234.2,547.3 232.5,548.0 234.4,548.2 236.3,548.3 234.5,548.0"/><polyline points="235.3,547.2 236.8,548.0 234.9,548.3 236.8,548.3 234.9,548.4 233.1,548.7 231.3,549.2"/><polyline points="233.5,547.1 233.2,545.9 234.8,545.1 234.2,543.9 232.5,544.5 231.3,543.5 232.9,542.9"/><polyline points="235.3,547.6 233.9,546.7 233.2,545.6 232.0,544.6 230.3,543.9 231.3,542.9 229.4,543.0"/><polyline points="235.9,545.3 234.1,545.8 235.3,544.8 234.9,543.6 236.4,542.8 238.2,543.1 239.9,542.5"/><polyline points="235.1,545.2 237.0,545.0 236.6,546.2 235.7,545.1 236.9,546.1 235.3,545.4 237.0,544.8"/><polyline points="235.2,547.8 236.9,548.4 237.5,549.5 238.0,550.7 239.6,551.4 241.5,551.4 243.0,550.6"/><polyline points="232.9,547.4 232.3,546.2 230.4,546.0 228.7,546.6 227.7,545.5 225.9,545.1 225.7,546.4"/><polyline points="233.7,547.9 232.4,547.0 232.9,548.2 231.4,547.4 232.7,546.5 234.1,545.6 233.0,544.6"/><polyline points="235.9,547.4 237.5,548.1 239.3,548.5 239.3,549.8 237.4,550.1 237.5,548.9 236.2,548.0"/><polyline points="234.4,548.2 232.5,548.2 230.6,548.1 230.5,549.4 228.7,549.8 227.6,550.9 227.4,549.6"/><polyline points="233.5,547.2 231.6,547.4 229.7,547.5 229.0,546.4 228.7,545.2 229.3,544.0 227.7,544.7"/><polyline points="235.6,545.2 237.5,545.1 237.2,543.9 238.9,544.4 240.0,543.4 241.0,542.3 242.9,542.5"/><polyline points="234.3,547.7 234.2,546.5 232.7,545.7 232.3,546.9 233.1,548.0 234.0,549.1 235.6,549.8"/><polyline points="235.5,545.4 235.9,546.6 235.8,545.4 237.6,545.0 238.3,546.1 236.6,545.6 234.8,546.1"/><polyline points="237.1,546.9 239.0,547.0 239.6,548.2 240.7,547.2 239.0,546.6 237.1,546.4 237.8,545.3"/><polyline points="235.1,545.2 234.2,546.3 236.0,546.7 235.3,545.5 237.1,545.9 235.4,545.4 236.6,544.5"/><polyline points="233.5,547.7 234.4,548.8 235.5,549.9 234.0,549.1 235.2,548.2 237.2,548.2 239.0,548.4"/><polyline points="236.0,546.7 234.9,547.7 233.4,548.4 231.7,547.8 230.6,548.9 231.8,549.8 233.0,548.9"/><polyline points="234.4,546.1 234.0,544.9 235.9,544.8 236.8,545.9 237.7,544.8 238.5,543.6 237.4,544.7"/><polyline points="233.6,546.8 234.2,548.0 232.5,548.5 233.6,549.5 235.3,549.0 236.1,550.1 234.8,549.2"/><polyline points="231.9,546.2 232.4,545.0 231.2,546.0 229.9,546.9 231.7,547.2 233.5,547.6 232.8,548.8"/><polyline points="235.2,547.0 236.0,548.1 234.8,547.2 233.5,548.2 234.3,549.3 236.1,548.9 237.9,549.2"/><polyline points="233.8,546.6 232.7,547.7 233.4,548.8 234.4,549.9 232.8,550.6 232.8,549.3 230.9,549.6"/><polyline points="235.2,545.6 236.1,546.7 237.5,545.8 235.8,545.2 234.1,545.8 232.2,545.7 233.7,544.9"/><polyline points="234.4,547.3 236.2,547.0 237.7,547.8 239.1,548.6 238.8,547.4 238.1,548.5 237.6,549.7"/><polyline points="233.3,545.8 232.3,546.8 233.9,546.1 232.5,545.3 231.0,544.5 229.1,544.3 231.0,544.4"/><polyline points="235.8,548.1 235.1,546.9 236.7,547.6 235.4,546.7 233.5,546.9 231.8,546.3 230.3,547.0"/><polyline points="235.0,547.8 236.9,547.6 237.6,548.7 238.9,547.8 237.0,547.5 238.7,548.1 239.4,546.9"/><polyline points="237.0,547.3 236.0,548.3 237.7,547.7 237.4,546.5 236.2,547.4 234.8,546.6 236.8,546.5"/><polyline points="235.2,547.6 234.7,548.8 235.5,547.6 235.6,548.9 235.6,550.1 234.2,549.3 232.5,548.7"/><polyline points="233.5,547.6 235.4,547.8 237.3,547.9 239.2,548.1 241.0,548.5 241.2,547.3 243.1,547.1"/><polyline points="235.6,547.6 237.5,547.7 235.8,548.2 234.8,547.2 233.4,546.3 235.0,545.6 233.2,545.2"/><polyline points="235.9,547.3 234.0,547.7 233.0,548.7 234.9,549.0 233.6,548.1 231.7,548.2 231.2,547.0"/><polyline points="234.5,547.3 234.3,548.6 235.2,549.7 233.3,550.0 234.4,551.0 236.1,551.6 234.2,551.4"/><polyline points="235.1,547.4 236.5,548.2 236.0,547.0 236.7,545.9 237.4,544.7 235.7,544.1 234.4,543.2"/><polyline points="234.8,546.3 232.9,546.2 232.5,545.0 231.2,544.1 229.7,543.3 228.6,542.3 226.7,542.0"/><polyline points="235.0,547.7 234.3,546.6 232.7,547.2 233.9,546.2 232.5,547.1 231.6,546.0 233.0,546.8"/></g>
<polyline points="234.8,547.1 233.4,549.3 234.0,550.5 231.9,551.8 232.0,552.7" stroke="#2a2a2a" stroke-width="0.6"/>
<circle cx="232.0" cy="552.7" r="0.75" fill="#111" stroke="none"/>
<polyline points="234.8,547.1 235.6,548.7 235.3,549.4 235.4,550.1 238.5,551.9" stroke="#2a2a2a" stroke-width="0.6"/>
<circle cx="238.5" cy="551.9" r="0.75" fill="#111" stroke="none"/>
<polyline points="234.8,547.1 236.3,547.2 238.3,547.1 241.3,547.7 242.9,548.0" stroke="#2a2a2a" stroke-width="0.6"/>
<circle cx="242.9" cy="548.0" r="0.75" fill="#111" stroke="none"/>
<polyline points="234.8,547.1 231.2,547.8 231.5,547.9 227.0,549.2 226.0,548.9" stroke="#2a2a2a" stroke-width="0.6"/>
<circle cx="226.0" cy="548.9" r="0.75" fill="#111" stroke="none"/>
<polyline points="234.8,547.1 236.3,544.5 236.7,544.2 240.0,543.2 238.8,542.0" stroke="#2a2a2a" stroke-width="0.6"/>
<circle cx="238.8" cy="542.0" r="0.75" fill="#111" stroke="none"/></g>
<g fill="none" stroke="#111" stroke-width="0.6"><line x1="319" y1="518.8" x2="319" y2="576" stroke="#666" stroke-width="0.9"/>
<line x1="290" y1="547" x2="348" y2="547" stroke="#666" stroke-width="0.9"/>
<line x1="317.8" y1="518.80" x2="319" y2="518.80" stroke="#555" stroke-width="0.6"/>
<rect x="314.60" y="518.20" width="2.2" height="1.2" fill="#4a4a4a" stroke="none"/>
<line x1="317.8" y1="524.44" x2="319" y2="524.44" stroke="#555" stroke-width="0.6"/>
<rect x="314.60" y="523.84" width="2.2" height="1.2" fill="#4a4a4a" stroke="none"/>
<line x1="317.8" y1="530.08" x2="319" y2="530.08" stroke="#555" stroke-width="0.6"/>
<rect x="314.60" y="529.48" width="2.2" height="1.2" fill="#4a4a4a" stroke="none"/>
<line x1="317.8" y1="535.72" x2="319" y2="535.72" stroke="#555" stroke-width="0.6"/>
<rect x="314.60" y="535.12" width="2.2" height="1.2" fill="#4a4a4a" stroke="none"/>
<line x1="317.8" y1="541.36" x2="319" y2="541.36" stroke="#555" stroke-width="0.6"/>
<rect x="314.60" y="540.76" width="2.2" height="1.2" fill="#4a4a4a" stroke="none"/>
<line x1="317.8" y1="552.64" x2="319" y2="552.64" stroke="#555" stroke-width="0.6"/>
<rect x="314.60" y="552.04" width="2.2" height="1.2" fill="#4a4a4a" stroke="none"/>
<line x1="317.8" y1="558.28" x2="319" y2="558.28" stroke="#555" stroke-width="0.6"/>
<rect x="314.60" y="557.68" width="2.2" height="1.2" fill="#4a4a4a" stroke="none"/>
<line x1="317.8" y1="563.92" x2="319" y2="563.92" stroke="#555" stroke-width="0.6"/>
<rect x="314.60" y="563.32" width="2.2" height="1.2" fill="#4a4a4a" stroke="none"/>
<line x1="317.8" y1="569.56" x2="319" y2="569.56" stroke="#555" stroke-width="0.6"/>
<rect x="314.60" y="568.96" width="2.2" height="1.2" fill="#4a4a4a" stroke="none"/>
<line x1="317.8" y1="575.20" x2="319" y2="575.20" stroke="#555" stroke-width="0.6"/>
<rect x="314.60" y="574.60" width="2.2" height="1.2" fill="#4a4a4a" stroke="none"/>
<line x1="324.80" y1="547" x2="324.80" y2="548.2" stroke="#555" stroke-width="0.6"/>
<line x1="324.20" y1="552.60" x2="325.30" y2="549.80" stroke="#444" stroke-width="0.95"/>
<line x1="313.20" y1="547" x2="313.20" y2="548.2" stroke="#555" stroke-width="0.6"/>
<line x1="312.60" y1="552.60" x2="313.70" y2="549.80" stroke="#444" stroke-width="0.95"/>
<line x1="330.60" y1="547" x2="330.60" y2="548.2" stroke="#555" stroke-width="0.6"/>
<line x1="330.00" y1="552.60" x2="331.10" y2="549.80" stroke="#444" stroke-width="0.95"/>
<line x1="307.40" y1="547" x2="307.40" y2="548.2" stroke="#555" stroke-width="0.6"/>
<line x1="306.80" y1="552.60" x2="307.90" y2="549.80" stroke="#444" stroke-width="0.95"/>
<line x1="336.40" y1="547" x2="336.40" y2="548.2" stroke="#555" stroke-width="0.6"/>
<line x1="335.80" y1="552.60" x2="336.90" y2="549.80" stroke="#444" stroke-width="0.95"/>
<line x1="301.60" y1="547" x2="301.60" y2="548.2" stroke="#555" stroke-width="0.6"/>
<line x1="301.00" y1="552.60" x2="302.10" y2="549.80" stroke="#444" stroke-width="0.95"/>
<line x1="342.20" y1="547" x2="342.20" y2="548.2" stroke="#555" stroke-width="0.6"/>
<line x1="341.60" y1="552.60" x2="342.70" y2="549.80" stroke="#444" stroke-width="0.95"/>
<line x1="295.80" y1="547" x2="295.80" y2="548.2" stroke="#555" stroke-width="0.6"/>
<line x1="295.20" y1="552.60" x2="296.30" y2="549.80" stroke="#444" stroke-width="0.95"/>
<line x1="348.00" y1="547" x2="348.00" y2="548.2" stroke="#555" stroke-width="0.6"/>
<line x1="347.40" y1="552.60" x2="348.50" y2="549.80" stroke="#444" stroke-width="0.95"/>
<line x1="290.00" y1="547" x2="290.00" y2="548.2" stroke="#555" stroke-width="0.6"/>
<line x1="289.40" y1="552.60" x2="290.50" y2="549.80" stroke="#444" stroke-width="0.95"/>
<line x1="287.00" y1="535.00" x2="287.00" y2="559.00" stroke="#444" stroke-width="1.0" stroke-dasharray="2.5 0.6"/>
<g stroke="#0a0a0a" stroke-width="0.45"><polyline points="315.9,545.7 319.3,546.7 316.0,545.0 312.9,542.7 310.9,539.9 310.9,542.5 307.9,540.2 306.7,537.3 308.9,536.0"/><polyline points="320.1,548.7 322.0,551.6 324.5,550.6 324.6,548.0 327.3,550.6 330.6,552.5 334.0,554.1 333.3,551.3 331.9,548.4"/><polyline points="319.1,547.3 316.2,544.9 318.6,547.6 318.5,550.2 317.3,552.3 320.2,554.8 316.8,553.2 313.4,551.9 316.2,551.4"/><polyline points="316.0,544.6 312.8,542.4 312.4,539.6 309.0,538.1 307.1,539.6 310.2,541.8 313.4,543.9 316.3,543.4 316.7,540.9"/><polyline points="317.7,547.5 315.6,548.9 317.9,551.7 319.6,549.9 316.2,549.3 319.1,548.9 315.9,548.6 319.3,550.2 322.2,549.8"/><polyline points="320.5,548.0 323.9,548.8 320.6,547.1 323.9,549.0 320.5,548.4 322.7,551.2 321.6,548.3 323.5,546.7 321.7,548.5"/><polyline points="320.3,548.8 323.6,550.5 325.2,548.6 326.6,551.5 325.3,553.6 327.0,556.5 329.4,559.2 331.7,558.0 331.8,560.7"/><polyline points="317.1,544.9 317.0,547.5 318.0,545.3 319.1,548.2 318.3,545.3 319.7,548.3 316.3,547.3 315.7,549.8 313.9,551.5"/><polyline points="323.3,549.2 320.9,550.4 324.2,550.7 323.7,553.1 320.3,552.7 323.3,552.4 322.4,549.5 324.2,552.4 327.4,554.4"/><polyline points="318.7,548.3 320.5,546.7 317.8,547.4 315.6,548.7 317.8,551.5 319.7,554.4 317.7,551.5 316.4,553.6 314.7,550.7"/><polyline points="316.5,547.0 319.9,548.5 316.7,546.6 314.5,543.8 317.6,543.7 317.6,546.4 318.3,549.3 321.7,550.0 324.2,549.1"/><polyline points="318.4,547.9 319.5,545.8 323.0,547.1 322.7,549.7 326.1,551.1 329.4,551.3 327.7,548.4 324.3,547.5 325.9,550.4"/><polyline points="324.0,551.7 322.8,553.8 323.2,551.3 321.8,553.2 324.4,552.4 322.6,549.5 320.4,550.8 320.6,553.5 321.4,551.2"/><polyline points="320.2,548.4 317.7,545.7 320.7,545.4 319.2,542.5 317.3,544.0 320.7,544.9 320.3,547.4 323.3,549.8 321.6,551.5"/><polyline points="318.1,546.7 318.3,549.4 315.2,549.4 313.0,546.6 314.1,549.5 311.0,549.6 314.3,550.0 317.6,551.9 317.0,549.1"/><polyline points="319.1,544.5 320.1,547.4 322.9,550.0 325.8,552.3 329.2,553.1 329.6,550.6 332.9,552.2 335.9,554.6 334.8,551.7"/><polyline points="315.2,544.8 312.7,545.7 315.8,547.8 318.0,550.7 315.4,548.0 316.5,545.9 319.8,546.5 320.9,544.3 321.3,541.8"/><polyline points="322.4,544.9 319.4,545.2 319.4,542.5 322.8,543.1 325.9,543.2 322.5,542.3 324.6,540.9 327.7,540.8 325.5,538.0"/><polyline points="318.1,545.0 316.1,542.1 314.5,539.2 316.6,542.0 315.6,539.1 318.8,541.2 322.0,541.4 322.9,539.1 319.7,538.8"/><polyline points="320.0,545.0 316.6,543.7 319.4,543.1 321.4,546.0 322.8,544.0 325.6,546.5 323.9,543.6 320.6,541.7 319.6,543.9"/><polyline points="319.2,544.9 317.8,541.9 321.2,542.9 319.7,544.8 322.7,547.1 320.5,548.3 320.3,545.6 319.9,548.1 320.3,550.9"/><polyline points="322.5,547.7 319.1,546.4 322.4,546.8 319.7,547.6 319.3,544.8 319.0,547.3 315.6,546.2 317.9,545.1 321.3,545.9"/><polyline points="321.2,547.2 319.2,544.3 316.7,545.2 317.7,548.1 314.5,546.0 317.3,545.5 320.3,545.1 320.8,542.7 324.2,544.1"/><polyline points="318.2,547.7 314.8,546.2 312.9,547.9 312.3,550.3 308.9,549.4 307.7,546.5 304.5,544.4 302.0,545.4 304.8,544.9"/><polyline points="321.5,548.5 323.7,551.3 326.6,553.8 329.7,553.9 332.4,556.5 332.9,554.0 330.7,551.2 328.3,552.3 330.4,550.9"/><polyline points="320.1,547.9 316.7,546.4 319.6,548.8 322.3,548.1 321.2,550.3 322.2,553.2 324.8,555.8 323.6,552.9 320.2,551.5"/><polyline points="317.8,544.0 320.2,542.9 323.6,544.5 323.6,541.8 323.3,544.3 319.9,542.5 320.1,545.2 323.1,547.5 319.8,545.7"/><polyline points="319.3,545.9 317.5,547.6 314.6,548.0 314.8,545.4 311.9,543.0 310.4,540.1 311.9,538.2 308.6,537.7 310.7,536.4"/><polyline points="320.0,547.2 323.5,548.4 324.2,546.0 325.4,549.0 322.0,547.5 320.7,544.5 324.1,545.3 320.9,545.1 318.6,542.3"/><polyline points="323.1,547.3 326.5,548.6 323.1,546.9 322.4,544.1 322.0,546.6 322.8,544.3 325.3,543.3 324.4,540.4 325.1,538.1"/><polyline points="318.1,550.7 321.4,552.6 324.7,554.4 321.9,551.9 324.1,550.5 321.5,551.4 324.9,552.1 327.9,551.9 324.9,552.3"/><polyline points="320.6,549.2 318.0,546.5 319.7,544.8 316.5,542.8 319.3,545.3 321.7,544.2 324.1,547.0 326.4,545.7 326.6,548.5"/><polyline points="315.5,547.8 316.5,550.7 317.3,553.5 314.3,551.2 315.1,548.9 317.9,548.4 318.0,545.7 321.5,547.1 318.2,545.0"/><polyline points="320.0,547.4 319.3,549.8 316.4,547.3 314.3,548.7 315.2,546.4 314.2,543.5 311.3,541.1 314.2,540.7 311.7,537.9"/><polyline points="317.3,547.7 320.2,547.3 323.6,547.9 323.1,550.3 326.0,550.0 329.4,551.7 326.5,549.3 324.2,546.5 323.9,549.0"/><polyline points="316.7,544.9 315.0,542.0 317.9,544.4 321.3,546.2 318.3,543.8 314.9,543.2 317.2,542.0 314.8,539.3 311.6,537.2"/><polyline points="319.0,546.3 316.3,543.7 312.9,542.9 316.3,544.5 319.7,545.5 318.0,547.2 314.7,545.4 315.9,548.3 312.5,547.1"/><polyline points="322.8,545.6 319.5,543.7 317.0,544.6 316.8,547.3 315.4,544.3 318.8,545.4 320.0,548.3 321.9,546.7 324.9,549.1"/><polyline points="318.9,548.3 318.9,545.7 316.3,546.5 313.3,546.7 312.0,543.8 313.6,546.7 314.6,544.5 315.9,547.4 312.8,545.2"/><polyline points="318.4,547.9 315.5,545.4 312.1,544.2 308.9,544.1 305.5,543.3 302.6,540.8 303.2,543.6 302.8,546.1 301.6,543.2"/><polyline points="318.1,544.5 321.1,544.2 319.6,541.2 322.6,541.0 321.6,543.2 322.8,541.1 325.2,540.1 328.5,540.7 326.0,541.7"/><polyline points="315.0,548.5 314.3,550.9 317.5,553.1 320.7,553.4 321.8,556.3 320.7,558.4 321.6,556.2 320.0,558.0 321.8,560.9"/><polyline points="321.0,546.5 323.1,545.1 324.4,548.1 321.0,547.4 321.0,544.7 324.0,547.1 323.7,549.7 323.6,547.0 327.0,547.7"/><polyline points="320.2,547.6 317.1,545.4 318.6,543.5 315.5,541.3 315.5,538.6 315.4,541.3 317.7,544.1 319.3,547.0 322.0,549.6"/><polyline points="316.8,544.7 314.5,541.9 315.4,544.8 315.4,547.5 315.0,550.0 317.8,549.5 321.0,551.5 324.5,552.6 326.3,555.5"/><polyline points="323.2,551.8 319.8,550.2 321.4,548.4 318.8,549.1 315.4,547.4 312.4,545.1 309.0,544.0 307.2,541.1 310.3,543.4"/><polyline points="319.5,543.5 319.5,546.2 316.1,544.7 317.3,542.6 313.9,541.9 313.7,544.5 314.1,547.3 311.1,545.0 314.1,547.4"/><polyline points="323.2,547.6 323.6,545.1 326.7,544.9 325.5,542.0 322.1,541.3 320.4,538.4 317.3,536.2 320.6,538.2 322.9,537.0"/><polyline points="316.6,549.9 317.9,547.9 319.8,546.3 322.3,545.3 318.9,544.6 322.2,545.1 325.4,545.4 325.7,542.8 327.3,541.0"/><polyline points="320.2,545.7 321.0,543.4 323.3,546.2 320.4,546.7 317.0,545.0 320.1,547.2 317.1,547.5 316.1,544.6 314.8,541.6"/></g>
<polyline points="319.0,547.0 317.8,551.0 316.4,554.0 314.7,555.9 313.5,559.2" stroke="#2a2a2a" stroke-width="0.45"/>
<circle cx="313.5" cy="559.2" r="0.75" fill="#111" stroke="none"/>
<polyline points="319.0,547.0 319.6,544.6 317.1,540.4 317.0,538.6 317.3,535.8" stroke="#2a2a2a" stroke-width="0.45"/>
<circle cx="317.3" cy="535.8" r="0.75" fill="#111" stroke="none"/>
<polyline points="319.0,547.0 318.1,542.7 316.9,541.2 317.0,537.3 316.5,534.0" stroke="#2a2a2a" stroke-width="0.45"/>
<circle cx="316.5" cy="534.0" r="0.75" fill="#111" stroke="none"/>
<polyline points="319.0,547.0 316.0,544.6 313.5,543.1 308.3,538.9 307.4,536.6" stroke="#2a2a2a" stroke-width="0.45"/>
<circle cx="307.4" cy="536.6" r="0.75" fill="#111" stroke="none"/>
<polyline points="319.0,547.0 322.9,549.4 328.7,553.5 331.6,556.4 334.0,557.3" stroke="#2a2a2a" stroke-width="0.45"/>
<circle cx="334.0" cy="557.3" r="0.75" fill="#111" stroke="none"/>
<polyline points="319.0,547.0 318.3,543.4 320.6,540.9 318.4,535.7 320.7,534.1" stroke="#2a2a2a" stroke-width="0.45"/>
<circle cx="320.7" cy="534.1" r="0.75" fill="#111" stroke="none"/>
<polyline points="319.0,547.0 321.9,547.8 326.1,551.0 326.8,551.2 329.7,553.1" stroke="#2a2a2a" stroke-width="0.45"/>
<circle cx="329.7" cy="553.1" r="0.75" fill="#111" stroke="none"/>
<polyline points="319.0,547.0 316.8,542.4 315.3,539.9 313.1,535.6 311.7,532.3" stroke="#2a2a2a" stroke-width="0.45"/>
<circle cx="311.7" cy="532.3" r="0.75" fill="#111" stroke="none"/>
<polyline points="319.0,547.0 316.0,548.4 315.1,550.6 313.7,552.1 312.8,554.9" stroke="#2a2a2a" stroke-width="0.45"/>
<circle cx="312.8" cy="554.9" r="0.75" fill="#111" stroke="none"/>
<polyline points="319.0,547.0 322.0,548.9 325.9,553.4 326.3,553.9 328.4,556.8" stroke="#2a2a2a" stroke-width="0.45"/>
<circle cx="328.4" cy="556.8" r="0.75" fill="#111" stroke="none"/>
<polyline points="319.0,547.0 317.2,548.6 314.3,546.2 310.1,546.7 308.1,546.5" stroke="#2a2a2a" stroke-width="0.45"/>
<circle cx="308.1" cy="546.5" r="0.75" fill="#111" stroke="none"/>
<polyline points="319.0,547.0 317.1,548.7 314.5,551.2 313.7,554.7 311.5,557.7" stroke="#2a2a2a" stroke-width="0.45"/>
<circle cx="311.5" cy="557.7" r="0.75" fill="#111" stroke="none"/>
<polyline points="319.0,547.0 315.1,545.6 315.3,541.6 310.7,538.4 307.6,535.2" stroke="#2a2a2a" stroke-width="0.45"/>
<circle cx="307.6" cy="535.2" r="0.75" fill="#111" stroke="none"/>
<polyline points="319.0,547.0 322.3,549.5 326.5,550.5 330.3,552.6 334.4,554.8" stroke="#2a2a2a" stroke-width="0.45"/>
<circle cx="334.4" cy="554.8" r="0.75" fill="#111" stroke="none"/>
<polyline points="319.0,547.0 323.6,550.7 325.6,550.9 329.4,554.4 334.2,557.0" stroke="#2a2a2a" stroke-width="0.45"/>
<circle cx="334.2" cy="557.0" r="0.75" fill="#111" stroke="none"/>
<polyline points="319.0,547.0 320.9,546.7 323.7,544.1 325.4,544.7 327.1,543.4" stroke="#2a2a2a" stroke-width="0.45"/>
<circle cx="327.1" cy="543.4" r="0.75" fill="#111" stroke="none"/>
<polyline points="319.0,547.0 317.7,542.9 314.8,539.3 311.4,535.8 309.9,532.3" stroke="#2a2a2a" stroke-width="0.45"/>
<circle cx="309.9" cy="532.3" r="0.75" fill="#111" stroke="none"/>
<polyline points="319.0,547.0 323.3,550.3 325.7,551.8 328.9,558.1 333.5,561.4" stroke="#2a2a2a" stroke-width="0.45"/>
<circle cx="333.5" cy="561.4" r="0.75" fill="#111" stroke="none"/></g>
<g fill="none" stroke="#111" stroke-width="0.6"><line x1="401" y1="522.7" x2="401" y2="579.8" stroke="#666" stroke-width="0.9"/>
<line x1="374" y1="551" x2="431.7" y2="551" stroke="#666" stroke-width="0.9"/>
<line x1="399.8" y1="522.70" x2="401" y2="522.70" stroke="#555" stroke-width="0.6"/>
<rect x="396.60" y="522.10" width="2.2" height="1.2" fill="#4a4a4a" stroke="none"/>
<line x1="399.8" y1="528.36" x2="401" y2="528.36" stroke="#555" stroke-width="0.6"/>
<rect x="396.60" y="527.76" width="2.2" height="1.2" fill="#4a4a4a" stroke="none"/>
<line x1="399.8" y1="534.02" x2="401" y2="534.02" stroke="#555" stroke-width="0.6"/>
<rect x="396.60" y="533.42" width="2.2" height="1.2" fill="#4a4a4a" stroke="none"/>
<line x1="399.8" y1="539.68" x2="401" y2="539.68" stroke="#555" stroke-width="0.6"/>
<rect x="396.60" y="539.08" width="2.2" height="1.2" fill="#4a4a4a" stroke="none"/>
<line x1="399.8" y1="545.34" x2="401" y2="545.34" stroke="#555" stroke-width="0.6"/>
<rect x="396.60" y="544.74" width="2.2" height="1.2" fill="#4a4a4a" stroke="none"/>
<line x1="399.8" y1="556.66" x2="401" y2="556.66" stroke="#555" stroke-width="0.6"/>
<rect x="396.60" y="556.06" width="2.2" height="1.2" fill="#4a4a4a" stroke="none"/>
<line x1="399.8" y1="562.32" x2="401" y2="562.32" stroke="#555" stroke-width="0.6"/>
<rect x="396.60" y="561.72" width="2.2" height="1.2" fill="#4a4a4a" stroke="none"/>
<line x1="399.8" y1="567.98" x2="401" y2="567.98" stroke="#555" stroke-width="0.6"/>
<rect x="396.60" y="567.38" width="2.2" height="1.2" fill="#4a4a4a" stroke="none"/>
<line x1="399.8" y1="573.64" x2="401" y2="573.64" stroke="#555" stroke-width="0.6"/>
<rect x="396.60" y="573.04" width="2.2" height="1.2" fill="#4a4a4a" stroke="none"/>
<line x1="399.8" y1="579.30" x2="401" y2="579.30" stroke="#555" stroke-width="0.6"/>
<rect x="396.60" y="578.70" width="2.2" height="1.2" fill="#4a4a4a" stroke="none"/>
<line x1="407.14" y1="551" x2="407.14" y2="552.2" stroke="#555" stroke-width="0.6"/>
<line x1="406.54" y1="556.60" x2="407.64" y2="553.80" stroke="#444" stroke-width="0.95"/>
<line x1="395.60" y1="551" x2="395.60" y2="552.2" stroke="#555" stroke-width="0.6"/>
<line x1="395.00" y1="556.60" x2="396.10" y2="553.80" stroke="#444" stroke-width="0.95"/>
<line x1="413.28" y1="551" x2="413.28" y2="552.2" stroke="#555" stroke-width="0.6"/>
<line x1="412.68" y1="556.60" x2="413.78" y2="553.80" stroke="#444" stroke-width="0.95"/>
<line x1="390.20" y1="551" x2="390.20" y2="552.2" stroke="#555" stroke-width="0.6"/>
<line x1="389.60" y1="556.60" x2="390.70" y2="553.80" stroke="#444" stroke-width="0.95"/>
<line x1="419.42" y1="551" x2="419.42" y2="552.2" stroke="#555" stroke-width="0.6"/>
<line x1="418.82" y1="556.60" x2="419.92" y2="553.80" stroke="#444" stroke-width="0.95"/>
<line x1="384.80" y1="551" x2="384.80" y2="552.2" stroke="#555" stroke-width="0.6"/>
<line x1="384.20" y1="556.60" x2="385.30" y2="553.80" stroke="#444" stroke-width="0.95"/>
<line x1="425.56" y1="551" x2="425.56" y2="552.2" stroke="#555" stroke-width="0.6"/>
<line x1="424.96" y1="556.60" x2="426.06" y2="553.80" stroke="#444" stroke-width="0.95"/>
<line x1="379.40" y1="551" x2="379.40" y2="552.2" stroke="#555" stroke-width="0.6"/>
<line x1="378.80" y1="556.60" x2="379.90" y2="553.80" stroke="#444" stroke-width="0.95"/>
<line x1="431.70" y1="551" x2="431.70" y2="552.2" stroke="#555" stroke-width="0.6"/>
<line x1="431.10" y1="556.60" x2="432.20" y2="553.80" stroke="#444" stroke-width="0.95"/>
<line x1="374.00" y1="551" x2="374.00" y2="552.2" stroke="#555" stroke-width="0.6"/>
<line x1="373.40" y1="556.60" x2="374.50" y2="553.80" stroke="#444" stroke-width="0.95"/>
<line x1="369.00" y1="539.00" x2="369.00" y2="563.00" stroke="#444" stroke-width="1.0" stroke-dasharray="2.5 0.6"/>
<g stroke="#0a0a0a" stroke-width="0.45"><polyline points="397.5,551.4 395.7,549.3 397.9,551.2 401.3,551.4 398.9,553.0 398.4,555.4 399.7,553.2 398.4,551.0 395.6,549.5"/><polyline points="397.7,550.1 399.8,552.0 396.6,552.9 398.4,554.9 401.2,553.6 404.4,554.4 405.9,552.3 409.0,553.4 407.6,551.2"/><polyline points="399.7,552.5 401.6,550.5 405.0,550.8 408.2,551.6 411.2,550.4 407.7,550.3 410.6,551.6 414.1,551.4 417.3,550.6"/><polyline points="402.9,552.1 405.2,553.9 403.9,556.1 401.4,554.5 403.2,556.5 402.1,554.3 405.3,555.0 407.0,557.1 408.4,555.0"/><polyline points="398.9,552.0 396.1,550.7 392.7,551.0 390.1,552.6 393.5,553.1 393.0,550.7 396.4,550.2 399.8,549.9 398.0,547.8"/><polyline points="399.6,552.3 398.3,550.0 396.7,547.9 399.3,549.5 399.6,551.9 397.4,553.7 393.9,553.5 395.2,551.3 391.8,551.3"/><polyline points="405.5,551.6 402.3,552.6 398.9,552.3 399.5,554.6 396.4,555.7 393.8,557.2 394.3,554.9 397.0,556.3 393.7,555.6"/><polyline points="402.6,553.3 406.0,553.9 405.4,556.2 403.5,558.2 401.3,556.4 404.5,557.2 401.2,557.8 402.1,560.1 401.4,562.4"/><polyline points="394.9,551.6 391.5,551.9 394.8,551.3 396.5,553.3 399.6,552.2 397.3,554.0 398.6,556.3 398.6,553.9 401.5,552.6"/><polyline points="402.9,551.1 403.4,548.7 401.5,550.7 401.7,553.1 405.1,553.2 408.5,553.8 405.9,552.2 409.4,551.9 412.8,551.9"/><polyline points="400.5,551.0 398.9,553.1 399.8,550.8 401.4,548.7 399.2,546.9 399.7,549.3 396.3,548.9 392.9,549.2 390.5,547.5"/><polyline points="400.5,555.1 403.2,553.6 405.1,555.6 404.2,557.9 406.6,556.2 406.0,558.6 409.2,557.8 405.8,557.5 404.6,555.3"/><polyline points="400.5,549.9 399.8,552.2 399.7,554.6 398.3,552.4 397.1,550.2 399.4,551.9 402.0,550.4 399.0,551.5 399.2,553.9"/><polyline points="394.8,552.9 391.6,552.0 389.1,550.3 392.1,549.1 395.5,548.6 395.7,546.2 392.7,547.4 389.8,546.1 392.6,544.7"/><polyline points="401.8,548.8 399.8,550.8 397.5,552.6 397.2,550.2 394.0,549.3 397.4,549.5 396.6,547.2 399.4,545.8 400.4,543.6"/><polyline points="405.3,548.8 401.9,548.3 402.8,545.9 400.3,547.6 403.1,549.0 401.0,550.9 399.7,553.1 402.8,552.1 401.5,549.9"/><polyline points="397.7,550.4 400.2,552.1 396.8,551.6 395.7,549.3 393.0,550.8 393.1,553.2 390.2,554.5 388.7,556.6 387.3,554.4"/><polyline points="401.7,551.6 400.3,553.8 399.2,551.5 399.4,549.1 397.5,547.1 400.7,546.2 398.4,548.0 401.8,548.4 398.4,548.6"/><polyline points="399.6,551.4 397.9,549.3 396.0,551.3 396.2,553.7 394.6,555.8 397.9,555.0 401.3,555.1 399.1,556.9 398.5,559.3"/><polyline points="401.8,552.7 402.4,555.1 405.4,553.9 402.0,553.9 400.9,551.6 402.7,553.7 399.3,554.2 396.6,552.7 398.5,550.7"/><polyline points="401.0,552.9 403.1,551.0 404.8,548.9 405.3,551.3 401.9,550.7 402.2,548.3 399.5,549.8 397.9,547.7 396.1,545.6"/><polyline points="404.1,550.6 402.6,548.5 400.6,550.4 400.2,548.0 398.7,550.2 395.2,550.2 393.0,552.0 391.8,554.2 394.1,556.0"/><polyline points="401.5,553.1 401.4,555.5 404.7,556.2 405.9,553.9 405.1,556.2 408.3,555.3 405.5,553.9 402.8,555.4 405.2,553.7"/><polyline points="402.7,550.1 405.1,551.8 403.0,550.0 404.9,548.0 402.2,546.5 402.9,544.1 400.0,545.4 397.4,543.8 397.1,546.1"/><polyline points="399.0,551.9 396.4,553.5 393.7,554.9 394.9,552.7 396.5,554.8 397.5,557.0 397.4,559.4 400.8,559.0 397.4,558.7"/><polyline points="405.4,552.0 407.8,550.3 409.3,548.2 407.1,550.0 406.8,547.7 405.6,549.9 407.8,551.7 410.1,549.9 411.8,547.9"/><polyline points="402.2,554.4 405.6,554.7 404.4,557.0 407.8,557.2 409.5,559.3 411.2,561.3 410.5,559.0 409.5,561.3 410.8,563.5"/><polyline points="401.8,552.3 404.1,550.5 401.4,549.0 404.1,550.5 402.8,548.3 399.4,547.7 396.1,548.5 392.8,548.1 390.8,546.1"/><polyline points="401.9,549.1 399.6,547.3 396.3,547.8 394.0,546.0 391.3,547.5 388.4,548.8 384.9,548.5 384.2,546.2 383.6,548.5"/><polyline points="403.5,550.1 405.6,548.2 404.4,546.0 407.7,545.4 406.3,543.2 403.2,544.2 400.3,545.6 397.6,544.1 397.7,541.7"/><polyline points="401.7,550.2 404.9,551.2 407.5,552.7 410.5,553.9 413.8,554.7 417.2,554.8 417.2,557.2 419.8,558.8 418.5,556.6"/><polyline points="396.3,548.1 399.6,547.5 399.5,545.1 402.8,544.4 406.2,544.8 406.7,547.2 409.8,546.1 406.4,546.5 407.3,548.7"/><polyline points="401.1,549.2 397.8,548.6 396.4,550.8 396.6,553.2 399.5,554.4 396.8,552.9 400.1,552.2 403.6,552.0 403.9,549.6"/><polyline points="403.1,550.3 402.1,552.6 405.1,551.5 402.4,550.1 400.7,548.0 404.1,548.2 404.6,550.6 401.2,550.9 400.7,548.5"/><polyline points="402.9,548.5 401.0,550.5 398.5,552.1 400.7,550.3 404.2,550.1 400.7,550.4 401.9,552.6 399.5,550.9 396.1,550.4"/><polyline points="399.9,551.9 397.3,553.5 394.6,552.0 397.1,553.7 393.7,553.1 397.0,552.4 396.9,550.0 396.9,552.4 393.9,553.5"/><polyline points="404.2,552.7 401.9,550.9 403.5,553.0 400.2,552.3 397.3,550.9 394.3,549.8 391.8,551.5 390.5,553.7 388.4,555.6"/><polyline points="403.2,551.0 399.7,550.9 396.4,551.5 398.0,553.6 395.2,555.1 396.2,557.3 394.7,559.5 392.4,561.3 390.3,563.2"/><polyline points="402.9,550.5 401.2,552.5 399.3,550.5 396.5,552.0 393.1,551.7 391.0,549.8 394.1,550.9 392.5,548.8 395.3,550.2"/><polyline points="401.0,554.1 404.4,553.9 402.8,551.8 404.5,553.9 401.3,554.8 400.6,557.1 402.4,555.1 402.8,557.5 404.0,559.8"/><polyline points="398.8,549.2 395.8,547.9 392.4,548.2 395.8,547.6 392.4,548.2 395.6,547.3 392.9,548.8 389.6,549.3 387.4,551.2"/><polyline points="400.1,548.3 400.3,550.6 396.9,550.2 396.4,547.9 393.0,547.9 391.2,545.8 388.6,544.2 387.9,541.9 385.7,543.8"/><polyline points="400.8,551.4 403.5,549.8 404.3,547.5 401.7,549.0 405.0,548.6 407.9,547.2 409.9,549.1 411.6,547.1 408.6,548.2"/><polyline points="400.3,552.2 397.3,553.4 400.6,554.2 403.8,554.9 406.4,556.5 405.2,558.8 407.1,560.8 409.6,562.4 411.2,560.4"/><polyline points="398.9,552.3 396.2,550.9 399.3,550.0 401.4,551.8 401.9,554.2 404.1,552.4 407.0,551.1 410.1,550.1 406.7,549.7"/><polyline points="399.9,551.8 402.9,550.5 403.2,548.2 399.9,547.4 400.8,545.1 400.6,547.5 397.2,547.0 400.1,545.7 402.8,547.2"/><polyline points="399.8,550.3 401.7,548.2 403.5,546.2 401.4,544.3 398.2,545.3 401.6,545.6 398.2,545.7 396.0,547.5 393.2,548.9"/><polyline points="405.8,552.8 402.4,552.5 399.2,551.5 401.1,549.6 403.9,548.1 400.6,547.4 397.3,546.7 399.2,544.8 396.8,546.5"/><polyline points="401.4,550.8 402.4,548.5 399.0,548.1 396.6,546.4 400.0,546.3 400.6,548.6 397.8,549.9 398.8,547.7 398.7,545.3"/><polyline points="396.8,550.6 395.3,548.4 397.7,546.7 395.6,544.7 393.4,546.5 392.6,548.9 395.6,550.0 398.0,551.7 401.4,552.3"/></g>
<polyline points="401.0,551.0 405.2,550.2 408.4,550.2 410.6,551.4 415.1,549.5" stroke="#2a2a2a" stroke-width="0.45"/>
<circle cx="415.1" cy="549.5" r="0.75" fill="#111" stroke="none"/>
<polyline points="401.0,551.0 397.3,548.6 395.5,548.4 392.9,546.5 389.6,545.1" stroke="#2a2a2a" stroke-width="0.45"/>
<circle cx="389.6" cy="545.1" r="0.75" fill="#111" stroke="none"/>
<polyline points="401.0,551.0 405.9,551.0 410.4,548.7 415.9,549.0 418.4,548.4" stroke="#2a2a2a" stroke-width="0.45"/>
<circle cx="418.4" cy="548.4" r="0.75" fill="#111" stroke="none"/>
<polyline points="401.0,551.0 401.2,554.8 405.4,557.6 409.9,560.2 410.1,563.7" stroke="#2a2a2a" stroke-width="0.45"/>
<circle cx="410.1" cy="563.7" r="0.75" fill="#111" stroke="none"/>
<polyline points="401.0,551.0 403.9,547.4 408.2,545.6 411.9,542.4 415.0,539.3" stroke="#2a2a2a" stroke-width="0.45"/>
<circle cx="415.0" cy="539.3" r="0.75" fill="#111" stroke="none"/>
<polyline points="401.0,551.0 399.5,554.0 403.5,556.3 402.5,558.8 403.8,562.4" stroke="#2a2a2a" stroke-width="0.45"/>
<circle cx="403.8" cy="562.4" r="0.75" fill="#111" stroke="none"/>
<polyline points="401.0,551.0 399.2,547.6 398.9,546.3 394.2,543.3 392.7,541.9" stroke="#2a2a2a" stroke-width="0.45"/>
<circle cx="392.7" cy="541.9" r="0.75" fill="#111" stroke="none"/>
<polyline points="401.0,551.0 397.2,550.3 391.6,548.3 388.1,547.5 383.4,545.3" stroke="#2a2a2a" stroke-width="0.45"/>
<circle cx="383.4" cy="545.3" r="0.75" fill="#111" stroke="none"/>
<polyline points="401.0,551.0 401.7,548.4 399.6,545.8 400.6,539.6 401.2,536.8" stroke="#2a2a2a" stroke-width="0.45"/>
<circle cx="401.2" cy="536.8" r="0.75" fill="#111" stroke="none"/>
<polyline points="401.0,551.0 400.1,548.6 401.9,547.4 402.4,542.4 401.1,540.2" stroke="#2a2a2a" stroke-width="0.45"/>
<circle cx="401.1" cy="540.2" r="0.75" fill="#111" stroke="none"/>
<polyline points="401.0,551.0 400.8,547.7 400.7,545.0 400.8,543.1 401.6,539.3" stroke="#2a2a2a" stroke-width="0.45"/>
<circle cx="401.6" cy="539.3" r="0.75" fill="#111" stroke="none"/>
<polyline points="401.0,551.0 403.0,553.5 404.1,554.2 406.3,556.7 407.4,559.0" stroke="#2a2a2a" stroke-width="0.45"/>
<circle cx="407.4" cy="559.0" r="0.75" fill="#111" stroke="none"/>
<polyline points="401.0,551.0 400.2,549.9 393.9,546.4 391.7,545.0 389.3,543.2" stroke="#2a2a2a" stroke-width="0.45"/>
<circle cx="389.3" cy="543.2" r="0.75" fill="#111" stroke="none"/>
<polyline points="401.0,551.0 405.8,552.6 408.7,554.1 411.7,556.9 415.5,557.7" stroke="#2a2a2a" stroke-width="0.45"/>
<circle cx="415.5" cy="557.7" r="0.75" fill="#111" stroke="none"/>
<polyline points="401.0,551.0 397.6,553.8 394.1,554.1 391.1,555.7 387.3,556.6" stroke="#2a2a2a" stroke-width="0.45"/>
<circle cx="387.3" cy="556.6" r="0.75" fill="#111" stroke="none"/>
<polyline points="401.0,551.0 398.9,549.3 392.3,547.8 390.6,547.6 384.6,546.0" stroke="#2a2a2a" stroke-width="0.45"/>
<circle cx="384.6" cy="546.0" r="0.75" fill="#111" stroke="none"/>
<polyline points="401.0,551.0 396.1,550.6 388.3,550.2 385.0,549.1 379.4,548.2" stroke="#2a2a2a" stroke-width="0.45"/>
<circle cx="379.4" cy="548.2" r="0.75" fill="#111" stroke="none"/>
<polyline points="401.0,551.0 404.4,549.4 407.4,547.5 410.5,546.9 414.0,544.9" stroke="#2a2a2a" stroke-width="0.45"/>
<circle cx="414.0" cy="544.9" r="0.75" fill="#111" stroke="none"/>
<polyline points="401.0,549.0 392.0,547.0 385.0,545.0 381.0,540.0 378.0,536.0" stroke="#2a2a2a" stroke-width="0.6"/>
<polyline points="401.0,549.0 410.0,546.0 418.0,546.0 424.0,545.0" stroke="#2a2a2a" stroke-width="0.6"/></g>
<line x1="334.30" y1="73.40" x2="334.30" y2="168.50" stroke="#6a6a6a" stroke-width="1.5"/>
<line x1="332.00" y1="73.90" x2="334.30" y2="73.90" stroke="#6a6a6a" stroke-width="1.0"/>
<text x="331.40" y="77.10" font-size="8.9" text-anchor="end" fill="#1e1e1e" stroke="#1e1e1e" textLength="16.63" lengthAdjust="spacingAndGlyphs" >1200</text>
<line x1="332.00" y1="97.60" x2="334.30" y2="97.60" stroke="#6a6a6a" stroke-width="1.0"/>
<text x="331.40" y="100.80" font-size="8.9" text-anchor="end" fill="#1e1e1e" stroke="#1e1e1e" textLength="12.47" lengthAdjust="spacingAndGlyphs" >900</text>
<line x1="332.00" y1="121.20" x2="334.30" y2="121.20" stroke="#6a6a6a" stroke-width="1.0"/>
<text x="331.40" y="124.40" font-size="8.9" text-anchor="end" fill="#1e1e1e" stroke="#1e1e1e" textLength="12.47" lengthAdjust="spacingAndGlyphs" >600</text>
<line x1="332.00" y1="144.90" x2="334.30" y2="144.90" stroke="#6a6a6a" stroke-width="1.0"/>
<text x="331.40" y="148.10" font-size="8.9" text-anchor="end" fill="#1e1e1e" stroke="#1e1e1e" textLength="12.47" lengthAdjust="spacingAndGlyphs" >300</text>
<line x1="332.00" y1="168.50" x2="334.30" y2="168.50" stroke="#6a6a6a" stroke-width="1.0"/>
<text x="331.40" y="171.70" font-size="8.9" text-anchor="end" fill="#1e1e1e" stroke="#1e1e1e" textLength="4.16" lengthAdjust="spacingAndGlyphs" >0</text>
<line x1="334.30" y1="168.50" x2="476.20" y2="168.50" stroke="#6a6a6a" stroke-width="1.6"/>
<text x="0" y="0" font-size="9.5" text-anchor="middle" fill="#1e1e1e" stroke="#1e1e1e" textLength="70.20" lengthAdjust="spacingAndGlyphs" style="stroke-width:0.3px" transform="translate(309.72,116.00) rotate(-90)">Contact time (sec)</text>
<circle cx="349.69" cy="113.92" r="1.0" fill="#c01420" stroke="#f22a34" stroke-width="0.6"/>
<circle cx="352.77" cy="114.54" r="1.0" fill="#c01420" stroke="#f22a34" stroke-width="0.6"/>
<circle cx="355.38" cy="113.92" r="1.0" fill="#c01420" stroke="#f22a34" stroke-width="0.6"/>
<circle cx="352.62" cy="124.54" r="1.0" fill="#c01420" stroke="#f22a34" stroke-width="0.6"/>
<circle cx="352.77" cy="131.62" r="1.0" fill="#c01420" stroke="#f22a34" stroke-width="0.6"/>
<circle cx="346.92" cy="136.08" r="1.0" fill="#c01420" stroke="#f22a34" stroke-width="0.6"/>
<circle cx="350.77" cy="136.08" r="1.0" fill="#c01420" stroke="#f22a34" stroke-width="0.6"/>
<circle cx="354.31" cy="136.08" r="1.0" fill="#c01420" stroke="#f22a34" stroke-width="0.6"/>
<circle cx="346.62" cy="138.85" r="1.0" fill="#c01420" stroke="#f22a34" stroke-width="0.6"/>
<circle cx="349.69" cy="139.62" r="1.0" fill="#c01420" stroke="#f22a34" stroke-width="0.6"/>
<circle cx="355.38" cy="139.62" r="1.0" fill="#c01420" stroke="#f22a34" stroke-width="0.6"/>
<circle cx="358.46" cy="139.62" r="1.0" fill="#c01420" stroke="#f22a34" stroke-width="0.6"/>
<circle cx="346.15" cy="141.92" r="1.0" fill="#c01420" stroke="#f22a34" stroke-width="0.6"/>
<circle cx="349.23" cy="141.92" r="1.0" fill="#c01420" stroke="#f22a34" stroke-width="0.6"/>
<circle cx="352.31" cy="141.46" r="1.0" fill="#c01420" stroke="#f22a34" stroke-width="0.6"/>
<circle cx="355.38" cy="141.92" r="1.0" fill="#c01420" stroke="#f22a34" stroke-width="0.6"/>
<circle cx="358.46" cy="141.92" r="1.0" fill="#c01420" stroke="#f22a34" stroke-width="0.6"/>
<circle cx="346.92" cy="144.69" r="1.0" fill="#c01420" stroke="#f22a34" stroke-width="0.6"/>
<circle cx="350.00" cy="144.69" r="1.0" fill="#c01420" stroke="#f22a34" stroke-width="0.6"/>
<circle cx="353.08" cy="144.69" r="1.0" fill="#c01420" stroke="#f22a34" stroke-width="0.6"/>
<circle cx="356.15" cy="144.69" r="1.0" fill="#c01420" stroke="#f22a34" stroke-width="0.6"/>
<circle cx="349.69" cy="147.31" r="1.0" fill="#c01420" stroke="#f22a34" stroke-width="0.6"/>
<circle cx="353.08" cy="147.31" r="1.0" fill="#c01420" stroke="#f22a34" stroke-width="0.6"/>
<circle cx="356.15" cy="147.77" r="1.0" fill="#c01420" stroke="#f22a34" stroke-width="0.6"/>
<circle cx="346.62" cy="150.08" r="1.0" fill="#c01420" stroke="#f22a34" stroke-width="0.6"/>
<circle cx="349.69" cy="150.08" r="1.0" fill="#c01420" stroke="#f22a34" stroke-width="0.6"/>
<circle cx="352.31" cy="150.08" r="1.0" fill="#c01420" stroke="#f22a34" stroke-width="0.6"/>
<circle cx="355.38" cy="150.08" r="1.0" fill="#c01420" stroke="#f22a34" stroke-width="0.6"/>
<circle cx="358.46" cy="149.31" r="1.0" fill="#c01420" stroke="#f22a34" stroke-width="0.6"/>
<circle cx="352.77" cy="155.00" r="1.0" fill="#c01420" stroke="#f22a34" stroke-width="0.6"/>
<circle cx="352.77" cy="160.08" r="1.0" fill="#c01420" stroke="#f22a34" stroke-width="0.6"/>
<circle cx="350.77" cy="163.15" r="1.0" fill="#c01420" stroke="#f22a34" stroke-width="0.6"/>
<circle cx="353.85" cy="163.15" r="1.0" fill="#c01420" stroke="#f22a34" stroke-width="0.6"/>
<circle cx="382.31" cy="74.54" r="1.0" fill="#c01420" stroke="#f22a34" stroke-width="0.6"/>
<circle cx="385.08" cy="74.54" r="1.0" fill="#c01420" stroke="#f22a34" stroke-width="0.6"/>
<circle cx="388.15" cy="74.54" r="1.0" fill="#c01420" stroke="#f22a34" stroke-width="0.6"/>
<circle cx="391.23" cy="74.54" r="1.0" fill="#c01420" stroke="#f22a34" stroke-width="0.6"/>
<circle cx="394.31" cy="74.54" r="1.0" fill="#c01420" stroke="#f22a34" stroke-width="0.6"/>
<circle cx="389.69" cy="79.62" r="1.0" fill="#c01420" stroke="#f22a34" stroke-width="0.6"/>
<circle cx="386.92" cy="81.15" r="1.0" fill="#c01420" stroke="#f22a34" stroke-width="0.6"/>
<circle cx="385.08" cy="84.23" r="1.0" fill="#c01420" stroke="#f22a34" stroke-width="0.6"/>
<circle cx="391.23" cy="84.23" r="1.0" fill="#c01420" stroke="#f22a34" stroke-width="0.6"/>
<circle cx="388.15" cy="85.77" r="1.0" fill="#c01420" stroke="#f22a34" stroke-width="0.6"/>
<circle cx="386.62" cy="93.77" r="1.0" fill="#c01420" stroke="#f22a34" stroke-width="0.6"/>
<circle cx="389.69" cy="93.77" r="1.0" fill="#c01420" stroke="#f22a34" stroke-width="0.6"/>
<circle cx="386.62" cy="98.54" r="1.0" fill="#c01420" stroke="#f22a34" stroke-width="0.6"/>
<circle cx="389.69" cy="100.38" r="1.0" fill="#c01420" stroke="#f22a34" stroke-width="0.6"/>
<circle cx="388.15" cy="104.23" r="1.0" fill="#c01420" stroke="#f22a34" stroke-width="0.6"/>
<circle cx="386.92" cy="106.54" r="1.0" fill="#c01420" stroke="#f22a34" stroke-width="0.6"/>
<circle cx="391.23" cy="106.54" r="1.0" fill="#c01420" stroke="#f22a34" stroke-width="0.6"/>
<circle cx="388.15" cy="108.38" r="1.0" fill="#c01420" stroke="#f22a34" stroke-width="0.6"/>
<circle cx="383.85" cy="116.08" r="1.0" fill="#c01420" stroke="#f22a34" stroke-width="0.6"/>
<circle cx="386.92" cy="117.31" r="1.0" fill="#c01420" stroke="#f22a34" stroke-width="0.6"/>
<circle cx="389.69" cy="117.00" r="1.0" fill="#c01420" stroke="#f22a34" stroke-width="0.6"/>
<circle cx="392.77" cy="116.08" r="1.0" fill="#c01420" stroke="#f22a34" stroke-width="0.6"/>
<circle cx="388.15" cy="121.62" r="1.0" fill="#c01420" stroke="#f22a34" stroke-width="0.6"/>
<circle cx="386.15" cy="124.23" r="1.0" fill="#c01420" stroke="#f22a34" stroke-width="0.6"/>
<circle cx="389.69" cy="124.23" r="1.0" fill="#c01420" stroke="#f22a34" stroke-width="0.6"/>
<circle cx="386.92" cy="125.46" r="1.0" fill="#c01420" stroke="#f22a34" stroke-width="0.6"/>
<circle cx="388.15" cy="137.00" r="1.0" fill="#c01420" stroke="#f22a34" stroke-width="0.6"/>
<circle cx="386.92" cy="144.69" r="1.0" fill="#c01420" stroke="#f22a34" stroke-width="0.6"/>
<circle cx="389.69" cy="145.77" r="1.0" fill="#c01420" stroke="#f22a34" stroke-width="0.6"/>
<circle cx="385.08" cy="157.00" r="1.0" fill="#c01420" stroke="#f22a34" stroke-width="0.6"/>
<circle cx="388.15" cy="159.62" r="1.0" fill="#c01420" stroke="#f22a34" stroke-width="0.6"/>
<circle cx="391.23" cy="157.31" r="1.0" fill="#c01420" stroke="#f22a34" stroke-width="0.6"/>
<circle cx="423.85" cy="93.46" r="1.0" fill="#181860" stroke="#4a4ab8" stroke-width="0.6"/>
<circle cx="422.00" cy="105.77" r="1.0" fill="#181860" stroke="#4a4ab8" stroke-width="0.6"/>
<circle cx="424.92" cy="107.31" r="1.0" fill="#181860" stroke="#4a4ab8" stroke-width="0.6"/>
<circle cx="423.85" cy="111.15" r="1.0" fill="#181860" stroke="#4a4ab8" stroke-width="0.6"/>
<circle cx="420.77" cy="115.77" r="1.0" fill="#181860" stroke="#4a4ab8" stroke-width="0.6"/>
<circle cx="423.85" cy="115.77" r="1.0" fill="#181860" stroke="#4a4ab8" stroke-width="0.6"/>
<circle cx="426.92" cy="115.00" r="1.0" fill="#181860" stroke="#4a4ab8" stroke-width="0.6"/>
<circle cx="421.23" cy="123.15" r="1.0" fill="#181860" stroke="#4a4ab8" stroke-width="0.6"/>
<circle cx="423.85" cy="124.23" r="1.0" fill="#181860" stroke="#4a4ab8" stroke-width="0.6"/>
<circle cx="426.92" cy="123.77" r="1.0" fill="#181860" stroke="#4a4ab8" stroke-width="0.6"/>
<circle cx="423.85" cy="128.85" r="1.0" fill="#181860" stroke="#4a4ab8" stroke-width="0.6"/>
<circle cx="423.85" cy="136.08" r="1.0" fill="#181860" stroke="#4a4ab8" stroke-width="0.6"/>
<circle cx="420.77" cy="145.31" r="1.0" fill="#181860" stroke="#4a4ab8" stroke-width="0.6"/>
<circle cx="423.85" cy="145.00" r="1.0" fill="#181860" stroke="#4a4ab8" stroke-width="0.6"/>
<circle cx="426.92" cy="143.77" r="1.0" fill="#181860" stroke="#4a4ab8" stroke-width="0.6"/>
<circle cx="417.69" cy="153.00" r="1.0" fill="#181860" stroke="#4a4ab8" stroke-width="0.6"/>
<circle cx="420.77" cy="152.38" r="1.0" fill="#181860" stroke="#4a4ab8" stroke-width="0.6"/>
<circle cx="423.85" cy="151.46" r="1.0" fill="#181860" stroke="#4a4ab8" stroke-width="0.6"/>
<circle cx="426.92" cy="152.69" r="1.0" fill="#181860" stroke="#4a4ab8" stroke-width="0.6"/>
<circle cx="430.00" cy="153.00" r="1.0" fill="#181860" stroke="#4a4ab8" stroke-width="0.6"/>
<circle cx="420.77" cy="156.54" r="1.0" fill="#181860" stroke="#4a4ab8" stroke-width="0.6"/>
<circle cx="423.85" cy="155.77" r="1.0" fill="#181860" stroke="#4a4ab8" stroke-width="0.6"/>
<circle cx="420.77" cy="160.69" r="1.0" fill="#181860" stroke="#4a4ab8" stroke-width="0.6"/>
<circle cx="423.85" cy="160.08" r="1.0" fill="#181860" stroke="#4a4ab8" stroke-width="0.6"/>
<circle cx="426.92" cy="160.08" r="1.0" fill="#181860" stroke="#4a4ab8" stroke-width="0.6"/>
<circle cx="420.77" cy="165.77" r="1.0" fill="#181860" stroke="#4a4ab8" stroke-width="0.6"/>
<circle cx="423.85" cy="165.77" r="1.0" fill="#181860" stroke="#4a4ab8" stroke-width="0.6"/>
<circle cx="426.92" cy="165.77" r="1.0" fill="#181860" stroke="#4a4ab8" stroke-width="0.6"/>
<circle cx="423.85" cy="158.54" r="1.0" fill="#181860" stroke="#4a4ab8" stroke-width="0.6"/>
<circle cx="456.15" cy="74.54" r="1.0" fill="#181860" stroke="#4a4ab8" stroke-width="0.6"/>
<circle cx="459.23" cy="74.54" r="1.0" fill="#181860" stroke="#4a4ab8" stroke-width="0.6"/>
<circle cx="462.31" cy="74.54" r="1.0" fill="#181860" stroke="#4a4ab8" stroke-width="0.6"/>
<circle cx="454.62" cy="81.92" r="1.0" fill="#181860" stroke="#4a4ab8" stroke-width="0.6"/>
<circle cx="457.69" cy="83.15" r="1.0" fill="#181860" stroke="#4a4ab8" stroke-width="0.6"/>
<circle cx="460.77" cy="84.23" r="1.0" fill="#181860" stroke="#4a4ab8" stroke-width="0.6"/>
<circle cx="463.38" cy="81.92" r="1.0" fill="#181860" stroke="#4a4ab8" stroke-width="0.6"/>
<circle cx="459.23" cy="81.62" r="1.0" fill="#181860" stroke="#4a4ab8" stroke-width="0.6"/>
<circle cx="458.15" cy="88.38" r="1.0" fill="#181860" stroke="#4a4ab8" stroke-width="0.6"/>
<circle cx="457.69" cy="89.92" r="1.0" fill="#181860" stroke="#4a4ab8" stroke-width="0.6"/>
<circle cx="460.77" cy="91.46" r="1.0" fill="#181860" stroke="#4a4ab8" stroke-width="0.6"/>
<circle cx="459.23" cy="101.92" r="1.0" fill="#181860" stroke="#4a4ab8" stroke-width="0.6"/>
<circle cx="456.62" cy="109.92" r="1.0" fill="#181860" stroke="#4a4ab8" stroke-width="0.6"/>
<circle cx="459.23" cy="110.85" r="1.0" fill="#181860" stroke="#4a4ab8" stroke-width="0.6"/>
<circle cx="462.31" cy="111.15" r="1.0" fill="#181860" stroke="#4a4ab8" stroke-width="0.6"/>
<circle cx="456.62" cy="115.00" r="1.0" fill="#181860" stroke="#4a4ab8" stroke-width="0.6"/>
<circle cx="459.23" cy="115.77" r="1.0" fill="#181860" stroke="#4a4ab8" stroke-width="0.6"/>
<circle cx="462.31" cy="117.00" r="1.0" fill="#181860" stroke="#4a4ab8" stroke-width="0.6"/>
<circle cx="456.15" cy="118.85" r="1.0" fill="#181860" stroke="#4a4ab8" stroke-width="0.6"/>
<circle cx="459.23" cy="119.62" r="1.0" fill="#181860" stroke="#4a4ab8" stroke-width="0.6"/>
<circle cx="462.31" cy="120.08" r="1.0" fill="#181860" stroke="#4a4ab8" stroke-width="0.6"/>
<circle cx="456.62" cy="122.23" r="1.0" fill="#181860" stroke="#4a4ab8" stroke-width="0.6"/>
<circle cx="459.23" cy="123.15" r="1.0" fill="#181860" stroke="#4a4ab8" stroke-width="0.6"/>
<circle cx="462.31" cy="122.23" r="1.0" fill="#181860" stroke="#4a4ab8" stroke-width="0.6"/>
<circle cx="459.23" cy="125.77" r="1.0" fill="#181860" stroke="#4a4ab8" stroke-width="0.6"/>
<circle cx="459.23" cy="133.46" r="1.0" fill="#181860" stroke="#4a4ab8" stroke-width="0.6"/>
<circle cx="459.23" cy="138.08" r="1.0" fill="#181860" stroke="#4a4ab8" stroke-width="0.6"/>
<circle cx="459.23" cy="142.23" r="1.0" fill="#181860" stroke="#4a4ab8" stroke-width="0.6"/>
<circle cx="459.23" cy="149.31" r="1.0" fill="#181860" stroke="#4a4ab8" stroke-width="0.6"/>
<line x1="341.50" y1="141.60" x2="364.60" y2="141.60" stroke="#1a1a1a" stroke-width="1.35"/>
<line x1="376.00" y1="108.80" x2="400.00" y2="108.80" stroke="#1a1a1a" stroke-width="1.35"/>
<line x1="412.00" y1="139.60" x2="435.70" y2="139.60" stroke="#1a1a1a" stroke-width="1.35"/>
<line x1="447.40" y1="106.80" x2="471.50" y2="106.80" stroke="#1a1a1a" stroke-width="1.35"/>
<text x="344.80" y="182.30" font-size="10" text-anchor="start" fill="#1e1e1e" stroke="#1e1e1e" textLength="13.50" lengthAdjust="spacingAndGlyphs" >DC</text>
<text x="367.50" y="182.30" font-size="10" text-anchor="start" fill="#1e1e1e" stroke="#1e1e1e" textLength="36.30" lengthAdjust="spacingAndGlyphs" >DC-OVA</text>
<text x="417.70" y="182.30" font-size="10" text-anchor="start" fill="#1e1e1e" stroke="#1e1e1e" textLength="13.80" lengthAdjust="spacingAndGlyphs" >DC</text>
<text x="448.50" y="182.30" font-size="10" text-anchor="start" fill="#1e1e1e" stroke="#1e1e1e" textLength="35.30" lengthAdjust="spacingAndGlyphs" >DC-OVA</text>
<line x1="348.80" y1="66.60" x2="422.40" y2="66.60" stroke="#3a3a3a" stroke-width="1.1"/>
<text x="367.60" y="64.10" font-size="8.2" text-anchor="start" fill="#1e1e1e" stroke="#1e1e1e" textLength="31.70" lengthAdjust="spacingAndGlyphs" >P=0.5771</text>
<line x1="389.20" y1="52.50" x2="462.80" y2="52.50" stroke="#3a3a3a" stroke-width="1.1"/>
<text x="409.40" y="50.20" font-size="8.2" text-anchor="start" fill="#1e1e1e" stroke="#1e1e1e" textLength="31.70" lengthAdjust="spacingAndGlyphs" >P=0.7918</text>
<circle cx="478.5" cy="31" r="1.3" fill="#c8202c"/>
<circle cx="478.5" cy="42.4" r="1.3" fill="#22226a"/>
<text x="486.5" y="33.8" font-size="7.63" font-style="italic" font-weight="bold" fill="#c42838" textLength="30.00" lengthAdjust="spacingAndGlyphs">Cd28+/+</text>
<text x="486.5" y="45.2" font-size="7.63" font-style="italic" font-weight="bold" fill="#303070" textLength="17.10" lengthAdjust="spacingAndGlyphs">Cd28</text>
<text x="504.20" y="42.00" font-size="4.58" font-style="italic" fill="#303070">-/-</text>
<line x1="100.30" y1="255.20" x2="100.30" y2="350.50" stroke="#6a6a6a" stroke-width="1.5"/>
<line x1="98.00" y1="255.70" x2="100.30" y2="255.70" stroke="#6a6a6a" stroke-width="1.0"/>
<text x="97.30" y="259.23" font-size="9.8" text-anchor="end" fill="#1e1e1e" stroke="#1e1e1e" textLength="9.16" lengthAdjust="spacingAndGlyphs" >20</text>
<line x1="98.00" y1="279.50" x2="100.30" y2="279.50" stroke="#6a6a6a" stroke-width="1.0"/>
<text x="97.30" y="283.03" font-size="9.8" text-anchor="end" fill="#1e1e1e" stroke="#1e1e1e" textLength="9.16" lengthAdjust="spacingAndGlyphs" >15</text>
<line x1="98.00" y1="303.40" x2="100.30" y2="303.40" stroke="#6a6a6a" stroke-width="1.0"/>
<text x="97.30" y="306.93" font-size="9.8" text-anchor="end" fill="#1e1e1e" stroke="#1e1e1e" textLength="9.16" lengthAdjust="spacingAndGlyphs" >10</text>
<line x1="98.00" y1="327.20" x2="100.30" y2="327.20" stroke="#6a6a6a" stroke-width="1.0"/>
<text x="97.30" y="330.73" font-size="9.8" text-anchor="end" fill="#1e1e1e" stroke="#1e1e1e" textLength="4.58" lengthAdjust="spacingAndGlyphs" >5</text>
<line x1="98.00" y1="350.50" x2="100.30" y2="350.50" stroke="#6a6a6a" stroke-width="1.0"/>
<text x="97.30" y="354.03" font-size="9.8" text-anchor="end" fill="#1e1e1e" stroke="#1e1e1e" textLength="4.58" lengthAdjust="spacingAndGlyphs" >0</text>
<line x1="100.30" y1="350.50" x2="249.40" y2="350.50" stroke="#6a6a6a" stroke-width="1.6"/>
<text x="0" y="0" font-size="9.5" text-anchor="middle" fill="#1e1e1e" stroke="#1e1e1e" textLength="67.60" lengthAdjust="spacingAndGlyphs" style="stroke-width:0.3px" transform="translate(83.22,300.80) rotate(-90)">Velocity (µm/min)</text>
<circle cx="118.15" cy="256.92" r="1.0" fill="#c01420" stroke="#f22a34" stroke-width="0.6"/>
<circle cx="121.23" cy="259.23" r="1.0" fill="#c01420" stroke="#f22a34" stroke-width="0.6"/>
<circle cx="117.69" cy="262.77" r="1.0" fill="#c01420" stroke="#f22a34" stroke-width="0.6"/>
<circle cx="121.23" cy="262.77" r="1.0" fill="#c01420" stroke="#f22a34" stroke-width="0.6"/>
<circle cx="119.69" cy="266.15" r="1.0" fill="#c01420" stroke="#f22a34" stroke-width="0.6"/>
<circle cx="119.69" cy="270.00" r="1.0" fill="#c01420" stroke="#f22a34" stroke-width="0.6"/>
<circle cx="113.08" cy="284.62" r="1.0" fill="#c01420" stroke="#f22a34" stroke-width="0.6"/>
<circle cx="116.15" cy="283.85" r="1.0" fill="#c01420" stroke="#f22a34" stroke-width="0.6"/>
<circle cx="119.23" cy="283.08" r="1.0" fill="#c01420" stroke="#f22a34" stroke-width="0.6"/>
<circle cx="122.31" cy="281.85" r="1.0" fill="#c01420" stroke="#f22a34" stroke-width="0.6"/>
<circle cx="125.38" cy="284.92" r="1.0" fill="#c01420" stroke="#f22a34" stroke-width="0.6"/>
<circle cx="113.08" cy="286.92" r="1.0" fill="#c01420" stroke="#f22a34" stroke-width="0.6"/>
<circle cx="116.15" cy="287.69" r="1.0" fill="#c01420" stroke="#f22a34" stroke-width="0.6"/>
<circle cx="119.69" cy="286.92" r="1.0" fill="#c01420" stroke="#f22a34" stroke-width="0.6"/>
<circle cx="122.31" cy="286.92" r="1.0" fill="#c01420" stroke="#f22a34" stroke-width="0.6"/>
<circle cx="117.69" cy="290.00" r="1.0" fill="#c01420" stroke="#f22a34" stroke-width="0.6"/>
<circle cx="121.23" cy="290.00" r="1.0" fill="#c01420" stroke="#f22a34" stroke-width="0.6"/>
<circle cx="113.85" cy="293.08" r="1.0" fill="#c01420" stroke="#f22a34" stroke-width="0.6"/>
<circle cx="116.92" cy="293.85" r="1.0" fill="#c01420" stroke="#f22a34" stroke-width="0.6"/>
<circle cx="119.69" cy="293.08" r="1.0" fill="#c01420" stroke="#f22a34" stroke-width="0.6"/>
<circle cx="122.77" cy="293.08" r="1.0" fill="#c01420" stroke="#f22a34" stroke-width="0.6"/>
<circle cx="116.62" cy="296.15" r="1.0" fill="#c01420" stroke="#f22a34" stroke-width="0.6"/>
<circle cx="119.69" cy="296.92" r="1.0" fill="#c01420" stroke="#f22a34" stroke-width="0.6"/>
<circle cx="122.77" cy="296.92" r="1.0" fill="#c01420" stroke="#f22a34" stroke-width="0.6"/>
<circle cx="113.08" cy="300.00" r="1.0" fill="#c01420" stroke="#f22a34" stroke-width="0.6"/>
<circle cx="116.15" cy="300.77" r="1.0" fill="#c01420" stroke="#f22a34" stroke-width="0.6"/>
<circle cx="119.69" cy="299.23" r="1.0" fill="#c01420" stroke="#f22a34" stroke-width="0.6"/>
<circle cx="112.31" cy="303.08" r="1.0" fill="#c01420" stroke="#f22a34" stroke-width="0.6"/>
<circle cx="115.38" cy="303.08" r="1.0" fill="#c01420" stroke="#f22a34" stroke-width="0.6"/>
<circle cx="118.46" cy="303.85" r="1.0" fill="#c01420" stroke="#f22a34" stroke-width="0.6"/>
<circle cx="121.54" cy="303.08" r="1.0" fill="#c01420" stroke="#f22a34" stroke-width="0.6"/>
<circle cx="124.62" cy="303.08" r="1.0" fill="#c01420" stroke="#f22a34" stroke-width="0.6"/>
<circle cx="126.92" cy="303.08" r="1.0" fill="#c01420" stroke="#f22a34" stroke-width="0.6"/>
<circle cx="117.69" cy="306.15" r="1.0" fill="#c01420" stroke="#f22a34" stroke-width="0.6"/>
<circle cx="120.77" cy="306.15" r="1.0" fill="#c01420" stroke="#f22a34" stroke-width="0.6"/>
<circle cx="119.69" cy="311.54" r="1.0" fill="#c01420" stroke="#f22a34" stroke-width="0.6"/>
<circle cx="120.77" cy="316.15" r="1.0" fill="#c01420" stroke="#f22a34" stroke-width="0.6"/>
<circle cx="117.69" cy="318.46" r="1.0" fill="#c01420" stroke="#f22a34" stroke-width="0.6"/>
<circle cx="121.23" cy="320.00" r="1.0" fill="#c01420" stroke="#f22a34" stroke-width="0.6"/>
<circle cx="116.92" cy="322.31" r="1.0" fill="#c01420" stroke="#f22a34" stroke-width="0.6"/>
<circle cx="119.69" cy="323.08" r="1.0" fill="#c01420" stroke="#f22a34" stroke-width="0.6"/>
<circle cx="122.77" cy="320.77" r="1.0" fill="#c01420" stroke="#f22a34" stroke-width="0.6"/>
<circle cx="119.69" cy="330.31" r="1.0" fill="#c01420" stroke="#f22a34" stroke-width="0.6"/>
<circle cx="154.62" cy="285.85" r="1.0" fill="#c01420" stroke="#f22a34" stroke-width="0.6"/>
<circle cx="158.46" cy="287.38" r="1.0" fill="#c01420" stroke="#f22a34" stroke-width="0.6"/>
<circle cx="153.08" cy="294.62" r="1.0" fill="#c01420" stroke="#f22a34" stroke-width="0.6"/>
<circle cx="156.92" cy="293.85" r="1.0" fill="#c01420" stroke="#f22a34" stroke-width="0.6"/>
<circle cx="160.77" cy="295.38" r="1.0" fill="#c01420" stroke="#f22a34" stroke-width="0.6"/>
<circle cx="151.54" cy="296.15" r="1.0" fill="#c01420" stroke="#f22a34" stroke-width="0.6"/>
<circle cx="155.38" cy="298.46" r="1.0" fill="#c01420" stroke="#f22a34" stroke-width="0.6"/>
<circle cx="158.46" cy="298.15" r="1.0" fill="#c01420" stroke="#f22a34" stroke-width="0.6"/>
<circle cx="160.00" cy="301.54" r="1.0" fill="#c01420" stroke="#f22a34" stroke-width="0.6"/>
<circle cx="154.62" cy="302.31" r="1.0" fill="#c01420" stroke="#f22a34" stroke-width="0.6"/>
<circle cx="158.46" cy="305.38" r="1.0" fill="#c01420" stroke="#f22a34" stroke-width="0.6"/>
<circle cx="155.38" cy="308.46" r="1.0" fill="#c01420" stroke="#f22a34" stroke-width="0.6"/>
<circle cx="158.46" cy="307.69" r="1.0" fill="#c01420" stroke="#f22a34" stroke-width="0.6"/>
<circle cx="153.08" cy="312.31" r="1.0" fill="#c01420" stroke="#f22a34" stroke-width="0.6"/>
<circle cx="156.92" cy="311.54" r="1.0" fill="#c01420" stroke="#f22a34" stroke-width="0.6"/>
<circle cx="161.54" cy="312.31" r="1.0" fill="#c01420" stroke="#f22a34" stroke-width="0.6"/>
<circle cx="155.38" cy="316.15" r="1.0" fill="#c01420" stroke="#f22a34" stroke-width="0.6"/>
<circle cx="158.46" cy="317.69" r="1.0" fill="#c01420" stroke="#f22a34" stroke-width="0.6"/>
<circle cx="156.92" cy="319.23" r="1.0" fill="#c01420" stroke="#f22a34" stroke-width="0.6"/>
<circle cx="156.92" cy="323.08" r="1.0" fill="#c01420" stroke="#f22a34" stroke-width="0.6"/>
<circle cx="155.38" cy="326.15" r="1.0" fill="#c01420" stroke="#f22a34" stroke-width="0.6"/>
<circle cx="157.69" cy="329.23" r="1.0" fill="#c01420" stroke="#f22a34" stroke-width="0.6"/>
<circle cx="154.62" cy="330.77" r="1.0" fill="#c01420" stroke="#f22a34" stroke-width="0.6"/>
<circle cx="158.46" cy="332.31" r="1.0" fill="#c01420" stroke="#f22a34" stroke-width="0.6"/>
<circle cx="158.46" cy="333.85" r="1.0" fill="#c01420" stroke="#f22a34" stroke-width="0.6"/>
<circle cx="155.38" cy="335.38" r="1.0" fill="#c01420" stroke="#f22a34" stroke-width="0.6"/>
<circle cx="151.54" cy="338.46" r="1.0" fill="#c01420" stroke="#f22a34" stroke-width="0.6"/>
<circle cx="154.62" cy="339.23" r="1.0" fill="#c01420" stroke="#f22a34" stroke-width="0.6"/>
<circle cx="157.69" cy="338.46" r="1.0" fill="#c01420" stroke="#f22a34" stroke-width="0.6"/>
<circle cx="160.77" cy="337.69" r="1.0" fill="#c01420" stroke="#f22a34" stroke-width="0.6"/>
<circle cx="162.31" cy="336.92" r="1.0" fill="#c01420" stroke="#f22a34" stroke-width="0.6"/>
<circle cx="153.08" cy="340.77" r="1.0" fill="#c01420" stroke="#f22a34" stroke-width="0.6"/>
<circle cx="155.38" cy="342.31" r="1.0" fill="#c01420" stroke="#f22a34" stroke-width="0.6"/>
<circle cx="159.23" cy="341.23" r="1.0" fill="#c01420" stroke="#f22a34" stroke-width="0.6"/>
<circle cx="195.85" cy="264.62" r="1.0" fill="#181860" stroke="#4a4ab8" stroke-width="0.6"/>
<circle cx="192.31" cy="267.69" r="1.0" fill="#181860" stroke="#4a4ab8" stroke-width="0.6"/>
<circle cx="196.15" cy="270.00" r="1.0" fill="#181860" stroke="#4a4ab8" stroke-width="0.6"/>
<circle cx="193.85" cy="272.31" r="1.0" fill="#181860" stroke="#4a4ab8" stroke-width="0.6"/>
<circle cx="197.69" cy="273.08" r="1.0" fill="#181860" stroke="#4a4ab8" stroke-width="0.6"/>
<circle cx="190.00" cy="276.15" r="1.0" fill="#181860" stroke="#4a4ab8" stroke-width="0.6"/>
<circle cx="193.08" cy="278.46" r="1.0" fill="#181860" stroke="#4a4ab8" stroke-width="0.6"/>
<circle cx="196.92" cy="278.46" r="1.0" fill="#181860" stroke="#4a4ab8" stroke-width="0.6"/>
<circle cx="193.85" cy="283.08" r="1.0" fill="#181860" stroke="#4a4ab8" stroke-width="0.6"/>
<circle cx="190.77" cy="285.38" r="1.0" fill="#181860" stroke="#4a4ab8" stroke-width="0.6"/>
<circle cx="194.62" cy="285.38" r="1.0" fill="#181860" stroke="#4a4ab8" stroke-width="0.6"/>
<circle cx="197.69" cy="286.15" r="1.0" fill="#181860" stroke="#4a4ab8" stroke-width="0.6"/>
<circle cx="201.54" cy="286.15" r="1.0" fill="#181860" stroke="#4a4ab8" stroke-width="0.6"/>
<circle cx="187.69" cy="287.69" r="1.0" fill="#181860" stroke="#4a4ab8" stroke-width="0.6"/>
<circle cx="191.54" cy="288.46" r="1.0" fill="#181860" stroke="#4a4ab8" stroke-width="0.6"/>
<circle cx="195.38" cy="289.23" r="1.0" fill="#181860" stroke="#4a4ab8" stroke-width="0.6"/>
<circle cx="199.23" cy="288.46" r="1.0" fill="#181860" stroke="#4a4ab8" stroke-width="0.6"/>
<circle cx="188.46" cy="291.54" r="1.0" fill="#181860" stroke="#4a4ab8" stroke-width="0.6"/>
<circle cx="191.54" cy="292.31" r="1.0" fill="#181860" stroke="#4a4ab8" stroke-width="0.6"/>
<circle cx="194.62" cy="293.08" r="1.0" fill="#181860" stroke="#4a4ab8" stroke-width="0.6"/>
<circle cx="198.46" cy="292.31" r="1.0" fill="#181860" stroke="#4a4ab8" stroke-width="0.6"/>
<circle cx="186.15" cy="296.15" r="1.0" fill="#181860" stroke="#4a4ab8" stroke-width="0.6"/>
<circle cx="189.23" cy="297.69" r="1.0" fill="#181860" stroke="#4a4ab8" stroke-width="0.6"/>
<circle cx="192.31" cy="296.92" r="1.0" fill="#181860" stroke="#4a4ab8" stroke-width="0.6"/>
<circle cx="196.15" cy="296.92" r="1.0" fill="#181860" stroke="#4a4ab8" stroke-width="0.6"/>
<circle cx="199.23" cy="296.15" r="1.0" fill="#181860" stroke="#4a4ab8" stroke-width="0.6"/>
<circle cx="187.69" cy="299.23" r="1.0" fill="#181860" stroke="#4a4ab8" stroke-width="0.6"/>
<circle cx="190.77" cy="301.54" r="1.0" fill="#181860" stroke="#4a4ab8" stroke-width="0.6"/>
<circle cx="194.62" cy="302.31" r="1.0" fill="#181860" stroke="#4a4ab8" stroke-width="0.6"/>
<circle cx="197.69" cy="300.77" r="1.0" fill="#181860" stroke="#4a4ab8" stroke-width="0.6"/>
<circle cx="200.77" cy="299.23" r="1.0" fill="#181860" stroke="#4a4ab8" stroke-width="0.6"/>
<circle cx="189.23" cy="306.92" r="1.0" fill="#181860" stroke="#4a4ab8" stroke-width="0.6"/>
<circle cx="193.08" cy="307.69" r="1.0" fill="#181860" stroke="#4a4ab8" stroke-width="0.6"/>
<circle cx="196.15" cy="306.92" r="1.0" fill="#181860" stroke="#4a4ab8" stroke-width="0.6"/>
<circle cx="192.31" cy="311.54" r="1.0" fill="#181860" stroke="#4a4ab8" stroke-width="0.6"/>
<circle cx="194.62" cy="312.31" r="1.0" fill="#181860" stroke="#4a4ab8" stroke-width="0.6"/>
<circle cx="193.08" cy="315.08" r="1.0" fill="#181860" stroke="#4a4ab8" stroke-width="0.6"/>
<circle cx="196.15" cy="315.08" r="1.0" fill="#181860" stroke="#4a4ab8" stroke-width="0.6"/>
<circle cx="192.31" cy="324.62" r="1.0" fill="#181860" stroke="#4a4ab8" stroke-width="0.6"/>
<circle cx="195.38" cy="325.38" r="1.0" fill="#181860" stroke="#4a4ab8" stroke-width="0.6"/>
<circle cx="190.77" cy="330.77" r="1.0" fill="#181860" stroke="#4a4ab8" stroke-width="0.6"/>
<circle cx="193.85" cy="331.54" r="1.0" fill="#181860" stroke="#4a4ab8" stroke-width="0.6"/>
<circle cx="197.69" cy="330.77" r="1.0" fill="#181860" stroke="#4a4ab8" stroke-width="0.6"/>
<circle cx="231.67" cy="285.00" r="1.0" fill="#181860" stroke="#4a4ab8" stroke-width="0.6"/>
<circle cx="229.58" cy="294.79" r="1.0" fill="#181860" stroke="#4a4ab8" stroke-width="0.6"/>
<circle cx="233.75" cy="295.83" r="1.0" fill="#181860" stroke="#4a4ab8" stroke-width="0.6"/>
<circle cx="231.67" cy="301.04" r="1.0" fill="#181860" stroke="#4a4ab8" stroke-width="0.6"/>
<circle cx="230.62" cy="307.29" r="1.0" fill="#181860" stroke="#4a4ab8" stroke-width="0.6"/>
<circle cx="232.71" cy="308.33" r="1.0" fill="#181860" stroke="#4a4ab8" stroke-width="0.6"/>
<circle cx="231.67" cy="312.50" r="1.0" fill="#181860" stroke="#4a4ab8" stroke-width="0.6"/>
<circle cx="229.58" cy="314.17" r="1.0" fill="#181860" stroke="#4a4ab8" stroke-width="0.6"/>
<circle cx="233.75" cy="314.17" r="1.0" fill="#181860" stroke="#4a4ab8" stroke-width="0.6"/>
<circle cx="226.46" cy="322.50" r="1.0" fill="#181860" stroke="#4a4ab8" stroke-width="0.6"/>
<circle cx="230.62" cy="322.92" r="1.0" fill="#181860" stroke="#4a4ab8" stroke-width="0.6"/>
<circle cx="234.79" cy="321.88" r="1.0" fill="#181860" stroke="#4a4ab8" stroke-width="0.6"/>
<circle cx="237.92" cy="322.50" r="1.0" fill="#181860" stroke="#4a4ab8" stroke-width="0.6"/>
<circle cx="224.38" cy="325.00" r="1.0" fill="#181860" stroke="#4a4ab8" stroke-width="0.6"/>
<circle cx="228.54" cy="326.04" r="1.0" fill="#181860" stroke="#4a4ab8" stroke-width="0.6"/>
<circle cx="232.71" cy="326.04" r="1.0" fill="#181860" stroke="#4a4ab8" stroke-width="0.6"/>
<circle cx="236.88" cy="325.00" r="1.0" fill="#181860" stroke="#4a4ab8" stroke-width="0.6"/>
<circle cx="224.38" cy="330.83" r="1.0" fill="#181860" stroke="#4a4ab8" stroke-width="0.6"/>
<circle cx="228.54" cy="331.25" r="1.0" fill="#181860" stroke="#4a4ab8" stroke-width="0.6"/>
<circle cx="232.71" cy="331.25" r="1.0" fill="#181860" stroke="#4a4ab8" stroke-width="0.6"/>
<circle cx="236.88" cy="331.25" r="1.0" fill="#181860" stroke="#4a4ab8" stroke-width="0.6"/>
<circle cx="240.00" cy="331.25" r="1.0" fill="#181860" stroke="#4a4ab8" stroke-width="0.6"/>
<circle cx="231.67" cy="335.83" r="1.0" fill="#181860" stroke="#4a4ab8" stroke-width="0.6"/>
<line x1="107.00" y1="293.80" x2="132.30" y2="293.80" stroke="#1a1a1a" stroke-width="1.35"/>
<line x1="144.20" y1="317.20" x2="169.70" y2="317.20" stroke="#1a1a1a" stroke-width="1.35"/>
<line x1="182.30" y1="294.30" x2="206.90" y2="294.30" stroke="#1a1a1a" stroke-width="1.35"/>
<line x1="219.20" y1="318.10" x2="244.20" y2="318.10" stroke="#1a1a1a" stroke-width="1.35"/>
<text x="110.30" y="362.80" font-size="10" text-anchor="start" fill="#1e1e1e" stroke="#1e1e1e" textLength="12.40" lengthAdjust="spacingAndGlyphs" >DC</text>
<text x="139.00" y="362.80" font-size="10" text-anchor="start" fill="#1e1e1e" stroke="#1e1e1e" textLength="36.60" lengthAdjust="spacingAndGlyphs" >DC-OVA</text>
<text x="187.10" y="362.80" font-size="10" text-anchor="start" fill="#1e1e1e" stroke="#1e1e1e" textLength="12.40" lengthAdjust="spacingAndGlyphs" >DC</text>
<text x="213.30" y="362.80" font-size="10" text-anchor="start" fill="#1e1e1e" stroke="#1e1e1e" textLength="36.50" lengthAdjust="spacingAndGlyphs" >DC-OVA</text>
<line x1="120.20" y1="250.40" x2="193.30" y2="250.40" stroke="#3a3a3a" stroke-width="1.1"/>
<text x="141.00" y="248.40" font-size="8.2" text-anchor="start" fill="#1e1e1e" stroke="#1e1e1e" textLength="31.80" lengthAdjust="spacingAndGlyphs" >P=0.9777</text>
<line x1="159.30" y1="238.40" x2="232.40" y2="238.40" stroke="#3a3a3a" stroke-width="1.1"/>
<text x="177.60" y="236.30" font-size="8.2" text-anchor="start" fill="#1e1e1e" stroke="#1e1e1e" textLength="31.00" lengthAdjust="spacingAndGlyphs" >P=0.7708</text>
<circle cx="256.1" cy="215.3" r="1.3" fill="#c8202c"/>
<circle cx="256.1" cy="226.3" r="1.3" fill="#22226a"/>
<text x="263.5" y="218.3" font-size="7.63" font-style="italic" font-weight="bold" fill="#c42838" textLength="32.10" lengthAdjust="spacingAndGlyphs">Cd28+/+</text>
<text x="263.5" y="229.4" font-size="7.63" font-style="italic" font-weight="bold" fill="#303070" textLength="18.30" lengthAdjust="spacingAndGlyphs">Cd28</text>
<text x="282.40" y="226.20" font-size="4.58" font-style="italic" fill="#303070">-/-</text>
<line x1="329.20" y1="248.00" x2="329.20" y2="350.00" stroke="#6a6a6a" stroke-width="1.5"/>
<line x1="326.90" y1="248.50" x2="329.20" y2="248.50" stroke="#6a6a6a" stroke-width="1.0"/>
<text x="326.20" y="251.88" font-size="9.4" text-anchor="end" fill="#1e1e1e" stroke="#1e1e1e" textLength="13.17" lengthAdjust="spacingAndGlyphs" >100</text>
<line x1="326.90" y1="268.80" x2="329.20" y2="268.80" stroke="#6a6a6a" stroke-width="1.0"/>
<text x="326.20" y="272.18" font-size="9.4" text-anchor="end" fill="#1e1e1e" stroke="#1e1e1e" textLength="8.78" lengthAdjust="spacingAndGlyphs" >80</text>
<line x1="326.90" y1="289.20" x2="329.20" y2="289.20" stroke="#6a6a6a" stroke-width="1.0"/>
<text x="326.20" y="292.58" font-size="9.4" text-anchor="end" fill="#1e1e1e" stroke="#1e1e1e" textLength="8.78" lengthAdjust="spacingAndGlyphs" >60</text>
<line x1="326.90" y1="309.20" x2="329.20" y2="309.20" stroke="#6a6a6a" stroke-width="1.0"/>
<text x="326.20" y="312.58" font-size="9.4" text-anchor="end" fill="#1e1e1e" stroke="#1e1e1e" textLength="8.78" lengthAdjust="spacingAndGlyphs" >40</text>
<line x1="326.90" y1="329.70" x2="329.20" y2="329.70" stroke="#6a6a6a" stroke-width="1.0"/>
<text x="326.20" y="333.08" font-size="9.4" text-anchor="end" fill="#1e1e1e" stroke="#1e1e1e" textLength="8.78" lengthAdjust="spacingAndGlyphs" >20</text>
<line x1="326.90" y1="350.00" x2="329.20" y2="350.00" stroke="#6a6a6a" stroke-width="1.0"/>
<text x="326.20" y="353.38" font-size="9.4" text-anchor="end" fill="#1e1e1e" stroke="#1e1e1e" textLength="4.39" lengthAdjust="spacingAndGlyphs" >0</text>
<line x1="329.20" y1="350.00" x2="485.40" y2="350.00" stroke="#6a6a6a" stroke-width="1.6"/>
<text x="0" y="0" font-size="9.8" text-anchor="middle" fill="#1e1e1e" stroke="#1e1e1e" textLength="79.30" lengthAdjust="spacingAndGlyphs" style="stroke-width:0.3px" transform="translate(307.93,301.20) rotate(-90)">Displacement (µm)</text>
<circle cx="348.77" cy="255.08" r="1.0" fill="#c01420" stroke="#f22a34" stroke-width="0.6"/>
<circle cx="348.77" cy="268.15" r="1.0" fill="#c01420" stroke="#f22a34" stroke-width="0.6"/>
<circle cx="353.08" cy="273.08" r="1.0" fill="#c01420" stroke="#f22a34" stroke-width="0.6"/>
<circle cx="344.62" cy="276.62" r="1.0" fill="#c01420" stroke="#f22a34" stroke-width="0.6"/>
<circle cx="347.69" cy="276.92" r="1.0" fill="#c01420" stroke="#f22a34" stroke-width="0.6"/>
<circle cx="350.77" cy="277.69" r="1.0" fill="#c01420" stroke="#f22a34" stroke-width="0.6"/>
<circle cx="353.85" cy="276.62" r="1.0" fill="#c01420" stroke="#f22a34" stroke-width="0.6"/>
<circle cx="348.15" cy="279.23" r="1.0" fill="#c01420" stroke="#f22a34" stroke-width="0.6"/>
<circle cx="351.23" cy="279.23" r="1.0" fill="#c01420" stroke="#f22a34" stroke-width="0.6"/>
<circle cx="348.77" cy="283.38" r="1.0" fill="#c01420" stroke="#f22a34" stroke-width="0.6"/>
<circle cx="342.31" cy="294.62" r="1.0" fill="#c01420" stroke="#f22a34" stroke-width="0.6"/>
<circle cx="345.38" cy="294.62" r="1.0" fill="#c01420" stroke="#f22a34" stroke-width="0.6"/>
<circle cx="348.46" cy="293.08" r="1.0" fill="#c01420" stroke="#f22a34" stroke-width="0.6"/>
<circle cx="351.54" cy="295.08" r="1.0" fill="#c01420" stroke="#f22a34" stroke-width="0.6"/>
<circle cx="355.38" cy="295.08" r="1.0" fill="#c01420" stroke="#f22a34" stroke-width="0.6"/>
<circle cx="345.38" cy="296.92" r="1.0" fill="#c01420" stroke="#f22a34" stroke-width="0.6"/>
<circle cx="348.77" cy="296.92" r="1.0" fill="#c01420" stroke="#f22a34" stroke-width="0.6"/>
<circle cx="342.31" cy="302.31" r="1.0" fill="#c01420" stroke="#f22a34" stroke-width="0.6"/>
<circle cx="345.69" cy="302.31" r="1.0" fill="#c01420" stroke="#f22a34" stroke-width="0.6"/>
<circle cx="348.77" cy="303.08" r="1.0" fill="#c01420" stroke="#f22a34" stroke-width="0.6"/>
<circle cx="351.54" cy="302.31" r="1.0" fill="#c01420" stroke="#f22a34" stroke-width="0.6"/>
<circle cx="355.38" cy="302.31" r="1.0" fill="#c01420" stroke="#f22a34" stroke-width="0.6"/>
<circle cx="342.31" cy="307.69" r="1.0" fill="#c01420" stroke="#f22a34" stroke-width="0.6"/>
<circle cx="345.69" cy="307.69" r="1.0" fill="#c01420" stroke="#f22a34" stroke-width="0.6"/>
<circle cx="348.77" cy="306.92" r="1.0" fill="#c01420" stroke="#f22a34" stroke-width="0.6"/>
<circle cx="352.31" cy="308.46" r="1.0" fill="#c01420" stroke="#f22a34" stroke-width="0.6"/>
<circle cx="355.38" cy="307.69" r="1.0" fill="#c01420" stroke="#f22a34" stroke-width="0.6"/>
<circle cx="345.38" cy="310.77" r="1.0" fill="#c01420" stroke="#f22a34" stroke-width="0.6"/>
<circle cx="348.77" cy="311.54" r="1.0" fill="#c01420" stroke="#f22a34" stroke-width="0.6"/>
<circle cx="343.08" cy="313.08" r="1.0" fill="#c01420" stroke="#f22a34" stroke-width="0.6"/>
<circle cx="343.85" cy="316.92" r="1.0" fill="#c01420" stroke="#f22a34" stroke-width="0.6"/>
<circle cx="346.92" cy="316.92" r="1.0" fill="#c01420" stroke="#f22a34" stroke-width="0.6"/>
<circle cx="350.00" cy="316.15" r="1.0" fill="#c01420" stroke="#f22a34" stroke-width="0.6"/>
<circle cx="353.85" cy="316.15" r="1.0" fill="#c01420" stroke="#f22a34" stroke-width="0.6"/>
<circle cx="345.38" cy="319.23" r="1.0" fill="#c01420" stroke="#f22a34" stroke-width="0.6"/>
<circle cx="348.77" cy="320.00" r="1.0" fill="#c01420" stroke="#f22a34" stroke-width="0.6"/>
<circle cx="347.69" cy="322.31" r="1.0" fill="#c01420" stroke="#f22a34" stroke-width="0.6"/>
<circle cx="350.77" cy="323.85" r="1.0" fill="#c01420" stroke="#f22a34" stroke-width="0.6"/>
<circle cx="350.77" cy="326.92" r="1.0" fill="#c01420" stroke="#f22a34" stroke-width="0.6"/>
<circle cx="347.69" cy="330.00" r="1.0" fill="#c01420" stroke="#f22a34" stroke-width="0.6"/>
<circle cx="346.15" cy="339.23" r="1.0" fill="#c01420" stroke="#f22a34" stroke-width="0.6"/>
<circle cx="349.23" cy="340.77" r="1.0" fill="#c01420" stroke="#f22a34" stroke-width="0.6"/>
<circle cx="352.31" cy="339.23" r="1.0" fill="#c01420" stroke="#f22a34" stroke-width="0.6"/>
<circle cx="350.77" cy="344.31" r="1.0" fill="#c01420" stroke="#f22a34" stroke-width="0.6"/>
<circle cx="347.69" cy="346.92" r="1.0" fill="#c01420" stroke="#f22a34" stroke-width="0.6"/>
<circle cx="388.00" cy="281.23" r="1.0" fill="#c01420" stroke="#f22a34" stroke-width="0.6"/>
<circle cx="388.00" cy="293.08" r="1.0" fill="#c01420" stroke="#f22a34" stroke-width="0.6"/>
<circle cx="388.00" cy="307.23" r="1.0" fill="#c01420" stroke="#f22a34" stroke-width="0.6"/>
<circle cx="384.62" cy="313.08" r="1.0" fill="#c01420" stroke="#f22a34" stroke-width="0.6"/>
<circle cx="387.69" cy="315.38" r="1.0" fill="#c01420" stroke="#f22a34" stroke-width="0.6"/>
<circle cx="391.54" cy="314.62" r="1.0" fill="#c01420" stroke="#f22a34" stroke-width="0.6"/>
<circle cx="381.54" cy="323.08" r="1.0" fill="#c01420" stroke="#f22a34" stroke-width="0.6"/>
<circle cx="384.62" cy="324.62" r="1.0" fill="#c01420" stroke="#f22a34" stroke-width="0.6"/>
<circle cx="388.46" cy="324.62" r="1.0" fill="#c01420" stroke="#f22a34" stroke-width="0.6"/>
<circle cx="391.54" cy="324.62" r="1.0" fill="#c01420" stroke="#f22a34" stroke-width="0.6"/>
<circle cx="394.62" cy="322.77" r="1.0" fill="#c01420" stroke="#f22a34" stroke-width="0.6"/>
<circle cx="383.08" cy="327.69" r="1.0" fill="#c01420" stroke="#f22a34" stroke-width="0.6"/>
<circle cx="386.15" cy="328.46" r="1.0" fill="#c01420" stroke="#f22a34" stroke-width="0.6"/>
<circle cx="390.00" cy="328.00" r="1.0" fill="#c01420" stroke="#f22a34" stroke-width="0.6"/>
<circle cx="393.08" cy="326.15" r="1.0" fill="#c01420" stroke="#f22a34" stroke-width="0.6"/>
<circle cx="388.00" cy="334.15" r="1.0" fill="#c01420" stroke="#f22a34" stroke-width="0.6"/>
<circle cx="376.15" cy="337.23" r="1.0" fill="#c01420" stroke="#f22a34" stroke-width="0.6"/>
<circle cx="379.23" cy="338.15" r="1.0" fill="#c01420" stroke="#f22a34" stroke-width="0.6"/>
<circle cx="382.31" cy="338.46" r="1.0" fill="#c01420" stroke="#f22a34" stroke-width="0.6"/>
<circle cx="385.38" cy="338.77" r="1.0" fill="#c01420" stroke="#f22a34" stroke-width="0.6"/>
<circle cx="388.46" cy="338.77" r="1.0" fill="#c01420" stroke="#f22a34" stroke-width="0.6"/>
<circle cx="391.54" cy="338.46" r="1.0" fill="#c01420" stroke="#f22a34" stroke-width="0.6"/>
<circle cx="394.62" cy="337.85" r="1.0" fill="#c01420" stroke="#f22a34" stroke-width="0.6"/>
<circle cx="397.69" cy="337.23" r="1.0" fill="#c01420" stroke="#f22a34" stroke-width="0.6"/>
<circle cx="400.00" cy="337.23" r="1.0" fill="#c01420" stroke="#f22a34" stroke-width="0.6"/>
<circle cx="378.46" cy="341.54" r="1.0" fill="#c01420" stroke="#f22a34" stroke-width="0.6"/>
<circle cx="381.54" cy="341.54" r="1.0" fill="#c01420" stroke="#f22a34" stroke-width="0.6"/>
<circle cx="384.62" cy="342.31" r="1.0" fill="#c01420" stroke="#f22a34" stroke-width="0.6"/>
<circle cx="387.69" cy="342.31" r="1.0" fill="#c01420" stroke="#f22a34" stroke-width="0.6"/>
<circle cx="390.77" cy="341.54" r="1.0" fill="#c01420" stroke="#f22a34" stroke-width="0.6"/>
<circle cx="393.85" cy="341.54" r="1.0" fill="#c01420" stroke="#f22a34" stroke-width="0.6"/>
<circle cx="376.92" cy="344.62" r="1.0" fill="#c01420" stroke="#f22a34" stroke-width="0.6"/>
<circle cx="380.00" cy="346.15" r="1.0" fill="#c01420" stroke="#f22a34" stroke-width="0.6"/>
<circle cx="383.08" cy="346.15" r="1.0" fill="#c01420" stroke="#f22a34" stroke-width="0.6"/>
<circle cx="386.15" cy="346.46" r="1.0" fill="#c01420" stroke="#f22a34" stroke-width="0.6"/>
<circle cx="389.23" cy="346.46" r="1.0" fill="#c01420" stroke="#f22a34" stroke-width="0.6"/>
<circle cx="392.31" cy="346.15" r="1.0" fill="#c01420" stroke="#f22a34" stroke-width="0.6"/>
<circle cx="395.38" cy="345.38" r="1.0" fill="#c01420" stroke="#f22a34" stroke-width="0.6"/>
<circle cx="398.46" cy="344.62" r="1.0" fill="#c01420" stroke="#f22a34" stroke-width="0.6"/>
<circle cx="426.92" cy="260.46" r="1.0" fill="#181860" stroke="#4a4ab8" stroke-width="0.6"/>
<circle cx="426.92" cy="269.54" r="1.0" fill="#181860" stroke="#4a4ab8" stroke-width="0.6"/>
<circle cx="423.85" cy="273.08" r="1.0" fill="#181860" stroke="#4a4ab8" stroke-width="0.6"/>
<circle cx="427.69" cy="274.62" r="1.0" fill="#181860" stroke="#4a4ab8" stroke-width="0.6"/>
<circle cx="430.46" cy="273.08" r="1.0" fill="#181860" stroke="#4a4ab8" stroke-width="0.6"/>
<circle cx="428.46" cy="276.92" r="1.0" fill="#181860" stroke="#4a4ab8" stroke-width="0.6"/>
<circle cx="425.38" cy="279.23" r="1.0" fill="#181860" stroke="#4a4ab8" stroke-width="0.6"/>
<circle cx="428.46" cy="282.31" r="1.0" fill="#181860" stroke="#4a4ab8" stroke-width="0.6"/>
<circle cx="426.92" cy="286.15" r="1.0" fill="#181860" stroke="#4a4ab8" stroke-width="0.6"/>
<circle cx="426.92" cy="289.23" r="1.0" fill="#181860" stroke="#4a4ab8" stroke-width="0.6"/>
<circle cx="425.38" cy="293.08" r="1.0" fill="#181860" stroke="#4a4ab8" stroke-width="0.6"/>
<circle cx="428.46" cy="292.31" r="1.0" fill="#181860" stroke="#4a4ab8" stroke-width="0.6"/>
<circle cx="422.31" cy="297.69" r="1.0" fill="#181860" stroke="#4a4ab8" stroke-width="0.6"/>
<circle cx="426.15" cy="299.23" r="1.0" fill="#181860" stroke="#4a4ab8" stroke-width="0.6"/>
<circle cx="428.46" cy="299.23" r="1.0" fill="#181860" stroke="#4a4ab8" stroke-width="0.6"/>
<circle cx="431.54" cy="298.15" r="1.0" fill="#181860" stroke="#4a4ab8" stroke-width="0.6"/>
<circle cx="422.31" cy="305.38" r="1.0" fill="#181860" stroke="#4a4ab8" stroke-width="0.6"/>
<circle cx="426.15" cy="306.15" r="1.0" fill="#181860" stroke="#4a4ab8" stroke-width="0.6"/>
<circle cx="429.23" cy="305.38" r="1.0" fill="#181860" stroke="#4a4ab8" stroke-width="0.6"/>
<circle cx="431.54" cy="306.46" r="1.0" fill="#181860" stroke="#4a4ab8" stroke-width="0.6"/>
<circle cx="425.38" cy="308.46" r="1.0" fill="#181860" stroke="#4a4ab8" stroke-width="0.6"/>
<circle cx="428.46" cy="310.00" r="1.0" fill="#181860" stroke="#4a4ab8" stroke-width="0.6"/>
<circle cx="423.08" cy="310.77" r="1.0" fill="#181860" stroke="#4a4ab8" stroke-width="0.6"/>
<circle cx="426.92" cy="312.31" r="1.0" fill="#181860" stroke="#4a4ab8" stroke-width="0.6"/>
<circle cx="430.00" cy="311.54" r="1.0" fill="#181860" stroke="#4a4ab8" stroke-width="0.6"/>
<circle cx="433.08" cy="310.77" r="1.0" fill="#181860" stroke="#4a4ab8" stroke-width="0.6"/>
<circle cx="428.46" cy="315.85" r="1.0" fill="#181860" stroke="#4a4ab8" stroke-width="0.6"/>
<circle cx="423.08" cy="320.00" r="1.0" fill="#181860" stroke="#4a4ab8" stroke-width="0.6"/>
<circle cx="426.15" cy="321.23" r="1.0" fill="#181860" stroke="#4a4ab8" stroke-width="0.6"/>
<circle cx="430.00" cy="320.77" r="1.0" fill="#181860" stroke="#4a4ab8" stroke-width="0.6"/>
<circle cx="423.08" cy="326.92" r="1.0" fill="#181860" stroke="#4a4ab8" stroke-width="0.6"/>
<circle cx="426.15" cy="327.38" r="1.0" fill="#181860" stroke="#4a4ab8" stroke-width="0.6"/>
<circle cx="429.23" cy="328.46" r="1.0" fill="#181860" stroke="#4a4ab8" stroke-width="0.6"/>
<circle cx="432.31" cy="328.46" r="1.0" fill="#181860" stroke="#4a4ab8" stroke-width="0.6"/>
<circle cx="422.31" cy="330.77" r="1.0" fill="#181860" stroke="#4a4ab8" stroke-width="0.6"/>
<circle cx="425.38" cy="332.00" r="1.0" fill="#181860" stroke="#4a4ab8" stroke-width="0.6"/>
<circle cx="428.46" cy="331.54" r="1.0" fill="#181860" stroke="#4a4ab8" stroke-width="0.6"/>
<circle cx="430.77" cy="332.31" r="1.0" fill="#181860" stroke="#4a4ab8" stroke-width="0.6"/>
<circle cx="424.62" cy="334.62" r="1.0" fill="#181860" stroke="#4a4ab8" stroke-width="0.6"/>
<circle cx="427.69" cy="334.62" r="1.0" fill="#181860" stroke="#4a4ab8" stroke-width="0.6"/>
<circle cx="422.31" cy="339.23" r="1.0" fill="#181860" stroke="#4a4ab8" stroke-width="0.6"/>
<circle cx="426.15" cy="340.77" r="1.0" fill="#181860" stroke="#4a4ab8" stroke-width="0.6"/>
<circle cx="431.54" cy="340.00" r="1.0" fill="#181860" stroke="#4a4ab8" stroke-width="0.6"/>
<circle cx="426.15" cy="342.31" r="1.0" fill="#181860" stroke="#4a4ab8" stroke-width="0.6"/>
<circle cx="425.38" cy="346.15" r="1.0" fill="#181860" stroke="#4a4ab8" stroke-width="0.6"/>
<circle cx="428.46" cy="346.15" r="1.0" fill="#181860" stroke="#4a4ab8" stroke-width="0.6"/>
<circle cx="466.15" cy="281.85" r="1.0" fill="#181860" stroke="#4a4ab8" stroke-width="0.6"/>
<circle cx="466.15" cy="289.23" r="1.0" fill="#181860" stroke="#4a4ab8" stroke-width="0.6"/>
<circle cx="466.15" cy="298.00" r="1.0" fill="#181860" stroke="#4a4ab8" stroke-width="0.6"/>
<circle cx="464.62" cy="308.46" r="1.0" fill="#181860" stroke="#4a4ab8" stroke-width="0.6"/>
<circle cx="467.69" cy="307.38" r="1.0" fill="#181860" stroke="#4a4ab8" stroke-width="0.6"/>
<circle cx="464.62" cy="318.46" r="1.0" fill="#181860" stroke="#4a4ab8" stroke-width="0.6"/>
<circle cx="467.69" cy="320.00" r="1.0" fill="#181860" stroke="#4a4ab8" stroke-width="0.6"/>
<circle cx="466.15" cy="328.92" r="1.0" fill="#181860" stroke="#4a4ab8" stroke-width="0.6"/>
<circle cx="456.92" cy="332.31" r="1.0" fill="#181860" stroke="#4a4ab8" stroke-width="0.6"/>
<circle cx="460.00" cy="333.08" r="1.0" fill="#181860" stroke="#4a4ab8" stroke-width="0.6"/>
<circle cx="463.08" cy="332.31" r="1.0" fill="#181860" stroke="#4a4ab8" stroke-width="0.6"/>
<circle cx="466.15" cy="333.85" r="1.0" fill="#181860" stroke="#4a4ab8" stroke-width="0.6"/>
<circle cx="469.23" cy="332.31" r="1.0" fill="#181860" stroke="#4a4ab8" stroke-width="0.6"/>
<circle cx="472.31" cy="332.31" r="1.0" fill="#181860" stroke="#4a4ab8" stroke-width="0.6"/>
<circle cx="475.38" cy="333.08" r="1.0" fill="#181860" stroke="#4a4ab8" stroke-width="0.6"/>
<circle cx="458.46" cy="336.15" r="1.0" fill="#181860" stroke="#4a4ab8" stroke-width="0.6"/>
<circle cx="461.54" cy="336.92" r="1.0" fill="#181860" stroke="#4a4ab8" stroke-width="0.6"/>
<circle cx="464.62" cy="336.15" r="1.0" fill="#181860" stroke="#4a4ab8" stroke-width="0.6"/>
<circle cx="467.69" cy="336.92" r="1.0" fill="#181860" stroke="#4a4ab8" stroke-width="0.6"/>
<circle cx="470.77" cy="336.15" r="1.0" fill="#181860" stroke="#4a4ab8" stroke-width="0.6"/>
<circle cx="457.69" cy="340.00" r="1.0" fill="#181860" stroke="#4a4ab8" stroke-width="0.6"/>
<circle cx="460.77" cy="340.77" r="1.0" fill="#181860" stroke="#4a4ab8" stroke-width="0.6"/>
<circle cx="463.85" cy="340.00" r="1.0" fill="#181860" stroke="#4a4ab8" stroke-width="0.6"/>
<circle cx="466.92" cy="340.77" r="1.0" fill="#181860" stroke="#4a4ab8" stroke-width="0.6"/>
<circle cx="470.00" cy="340.00" r="1.0" fill="#181860" stroke="#4a4ab8" stroke-width="0.6"/>
<circle cx="473.08" cy="340.00" r="1.0" fill="#181860" stroke="#4a4ab8" stroke-width="0.6"/>
<circle cx="455.38" cy="343.38" r="1.0" fill="#181860" stroke="#4a4ab8" stroke-width="0.6"/>
<circle cx="458.46" cy="344.62" r="1.0" fill="#181860" stroke="#4a4ab8" stroke-width="0.6"/>
<circle cx="461.54" cy="345.38" r="1.0" fill="#181860" stroke="#4a4ab8" stroke-width="0.6"/>
<circle cx="464.62" cy="345.38" r="1.0" fill="#181860" stroke="#4a4ab8" stroke-width="0.6"/>
<circle cx="467.69" cy="345.38" r="1.0" fill="#181860" stroke="#4a4ab8" stroke-width="0.6"/>
<circle cx="470.77" cy="344.62" r="1.0" fill="#181860" stroke="#4a4ab8" stroke-width="0.6"/>
<circle cx="473.85" cy="344.31" r="1.0" fill="#181860" stroke="#4a4ab8" stroke-width="0.6"/>
<circle cx="476.92" cy="343.85" r="1.0" fill="#181860" stroke="#4a4ab8" stroke-width="0.6"/>
<circle cx="466.15" cy="348.46" r="1.0" fill="#181860" stroke="#4a4ab8" stroke-width="0.6"/>
<line x1="336.20" y1="304.90" x2="362.30" y2="304.90" stroke="#1a1a1a" stroke-width="1.35"/>
<line x1="375.00" y1="332.00" x2="401.20" y2="332.00" stroke="#1a1a1a" stroke-width="1.35"/>
<line x1="414.20" y1="309.70" x2="440.00" y2="309.70" stroke="#1a1a1a" stroke-width="1.35"/>
<line x1="453.50" y1="332.30" x2="479.20" y2="332.30" stroke="#1a1a1a" stroke-width="1.35"/>
<text x="340.30" y="363.30" font-size="10" text-anchor="start" fill="#1e1e1e" stroke="#1e1e1e" textLength="12.40" lengthAdjust="spacingAndGlyphs" >DC</text>
<text x="369.70" y="363.30" font-size="10" text-anchor="start" fill="#1e1e1e" stroke="#1e1e1e" textLength="36.90" lengthAdjust="spacingAndGlyphs" >DC-OVA</text>
<text x="418.70" y="363.30" font-size="10" text-anchor="start" fill="#1e1e1e" stroke="#1e1e1e" textLength="13.10" lengthAdjust="spacingAndGlyphs" >DC</text>
<text x="450.30" y="363.30" font-size="10" text-anchor="start" fill="#1e1e1e" stroke="#1e1e1e" textLength="35.50" lengthAdjust="spacingAndGlyphs" >DC-OVA</text>
<line x1="348.70" y1="244.50" x2="426.60" y2="244.50" stroke="#3a3a3a" stroke-width="1.1"/>
<text x="366.00" y="242.10" font-size="8.2" text-anchor="start" fill="#1e1e1e" stroke="#1e1e1e" textLength="33.20" lengthAdjust="spacingAndGlyphs" >P=0.3238</text>
<line x1="387.10" y1="229.60" x2="465.00" y2="229.60" stroke="#3a3a3a" stroke-width="1.1"/>
<text x="405.60" y="227.60" font-size="8.2" text-anchor="start" fill="#1e1e1e" stroke="#1e1e1e" textLength="33.40" lengthAdjust="spacingAndGlyphs" >P=0.8679</text>
<line x1="62.60" y1="708.70" x2="62.60" y2="812.10" stroke="#6a6a6a" stroke-width="1.5"/>
<line x1="60.30" y1="709.20" x2="62.60" y2="709.20" stroke="#6a6a6a" stroke-width="1.0"/>
<text x="59.30" y="713.02" font-size="10.6" text-anchor="end" fill="#1e1e1e" stroke="#1e1e1e" textLength="9.90" lengthAdjust="spacingAndGlyphs" >20</text>
<line x1="60.30" y1="735.20" x2="62.60" y2="735.20" stroke="#6a6a6a" stroke-width="1.0"/>
<text x="59.30" y="739.02" font-size="10.6" text-anchor="end" fill="#1e1e1e" stroke="#1e1e1e" textLength="9.90" lengthAdjust="spacingAndGlyphs" >15</text>
<line x1="60.30" y1="761.20" x2="62.60" y2="761.20" stroke="#6a6a6a" stroke-width="1.0"/>
<text x="59.30" y="765.02" font-size="10.6" text-anchor="end" fill="#1e1e1e" stroke="#1e1e1e" textLength="9.90" lengthAdjust="spacingAndGlyphs" >10</text>
<line x1="60.30" y1="786.50" x2="62.60" y2="786.50" stroke="#6a6a6a" stroke-width="1.0"/>
<text x="59.30" y="790.32" font-size="10.6" text-anchor="end" fill="#1e1e1e" stroke="#1e1e1e" textLength="4.95" lengthAdjust="spacingAndGlyphs" >5</text>
<line x1="60.30" y1="812.10" x2="62.60" y2="812.10" stroke="#6a6a6a" stroke-width="1.0"/>
<text x="59.30" y="815.92" font-size="10.6" text-anchor="end" fill="#1e1e1e" stroke="#1e1e1e" textLength="4.95" lengthAdjust="spacingAndGlyphs" >0</text>
<line x1="62.60" y1="812.30" x2="216.50" y2="812.30" stroke="#6a6a6a" stroke-width="1.7"/>
<text x="0" y="0" font-size="9.6" text-anchor="middle" fill="#1e1e1e" stroke="#1e1e1e" textLength="69.40" lengthAdjust="spacingAndGlyphs" style="stroke-width:0.3px" transform="translate(44.36,760.30) rotate(-90)">Velocity (µm/min)</text>
<circle cx="72.31" cy="711.15" r="1.05" fill="#c01420" stroke="#f22a34" stroke-width="0.6"/>
<circle cx="72.31" cy="716.92" r="1.05" fill="#c01420" stroke="#f22a34" stroke-width="0.6"/>
<circle cx="71.73" cy="720.19" r="1.05" fill="#c01420" stroke="#f22a34" stroke-width="0.6"/>
<circle cx="72.31" cy="729.81" r="1.05" fill="#c01420" stroke="#f22a34" stroke-width="0.6"/>
<circle cx="71.73" cy="734.62" r="1.05" fill="#c01420" stroke="#f22a34" stroke-width="0.6"/>
<circle cx="69.81" cy="741.35" r="1.05" fill="#c01420" stroke="#f22a34" stroke-width="0.6"/>
<circle cx="73.65" cy="740.38" r="1.05" fill="#c01420" stroke="#f22a34" stroke-width="0.6"/>
<circle cx="76.54" cy="743.27" r="1.05" fill="#c01420" stroke="#f22a34" stroke-width="0.6"/>
<circle cx="68.85" cy="745.19" r="1.05" fill="#c01420" stroke="#f22a34" stroke-width="0.6"/>
<circle cx="72.69" cy="745.19" r="1.05" fill="#c01420" stroke="#f22a34" stroke-width="0.6"/>
<circle cx="77.50" cy="745.19" r="1.05" fill="#c01420" stroke="#f22a34" stroke-width="0.6"/>
<circle cx="67.88" cy="749.04" r="1.05" fill="#c01420" stroke="#f22a34" stroke-width="0.6"/>
<circle cx="71.73" cy="750.00" r="1.05" fill="#c01420" stroke="#f22a34" stroke-width="0.6"/>
<circle cx="75.58" cy="749.04" r="1.05" fill="#c01420" stroke="#f22a34" stroke-width="0.6"/>
<circle cx="78.46" cy="750.96" r="1.05" fill="#c01420" stroke="#f22a34" stroke-width="0.6"/>
<circle cx="66.92" cy="752.88" r="1.05" fill="#c01420" stroke="#f22a34" stroke-width="0.6"/>
<circle cx="70.77" cy="753.85" r="1.05" fill="#c01420" stroke="#f22a34" stroke-width="0.6"/>
<circle cx="74.62" cy="752.88" r="1.05" fill="#c01420" stroke="#f22a34" stroke-width="0.6"/>
<circle cx="77.50" cy="753.85" r="1.05" fill="#c01420" stroke="#f22a34" stroke-width="0.6"/>
<circle cx="68.85" cy="756.73" r="1.05" fill="#c01420" stroke="#f22a34" stroke-width="0.6"/>
<circle cx="72.69" cy="757.69" r="1.05" fill="#c01420" stroke="#f22a34" stroke-width="0.6"/>
<circle cx="76.54" cy="757.69" r="1.05" fill="#c01420" stroke="#f22a34" stroke-width="0.6"/>
<circle cx="67.88" cy="760.58" r="1.05" fill="#c01420" stroke="#f22a34" stroke-width="0.6"/>
<circle cx="70.77" cy="760.58" r="1.05" fill="#c01420" stroke="#f22a34" stroke-width="0.6"/>
<circle cx="73.65" cy="761.54" r="1.05" fill="#c01420" stroke="#f22a34" stroke-width="0.6"/>
<circle cx="76.54" cy="761.54" r="1.05" fill="#c01420" stroke="#f22a34" stroke-width="0.6"/>
<circle cx="71.73" cy="764.42" r="1.05" fill="#c01420" stroke="#f22a34" stroke-width="0.6"/>
<circle cx="68.85" cy="768.27" r="1.05" fill="#c01420" stroke="#f22a34" stroke-width="0.6"/>
<circle cx="73.65" cy="768.27" r="1.05" fill="#c01420" stroke="#f22a34" stroke-width="0.6"/>
<circle cx="76.54" cy="769.23" r="1.05" fill="#c01420" stroke="#f22a34" stroke-width="0.6"/>
<circle cx="67.88" cy="771.15" r="1.05" fill="#c01420" stroke="#f22a34" stroke-width="0.6"/>
<circle cx="71.73" cy="772.12" r="1.05" fill="#c01420" stroke="#f22a34" stroke-width="0.6"/>
<circle cx="75.58" cy="773.08" r="1.05" fill="#c01420" stroke="#f22a34" stroke-width="0.6"/>
<circle cx="69.81" cy="775.00" r="1.05" fill="#c01420" stroke="#f22a34" stroke-width="0.6"/>
<circle cx="73.65" cy="775.00" r="1.05" fill="#c01420" stroke="#f22a34" stroke-width="0.6"/>
<circle cx="77.50" cy="774.04" r="1.05" fill="#c01420" stroke="#f22a34" stroke-width="0.6"/>
<circle cx="67.88" cy="777.88" r="1.05" fill="#c01420" stroke="#f22a34" stroke-width="0.6"/>
<circle cx="70.77" cy="778.85" r="1.05" fill="#c01420" stroke="#f22a34" stroke-width="0.6"/>
<circle cx="74.62" cy="778.85" r="1.05" fill="#c01420" stroke="#f22a34" stroke-width="0.6"/>
<circle cx="77.50" cy="776.92" r="1.05" fill="#c01420" stroke="#f22a34" stroke-width="0.6"/>
<circle cx="69.81" cy="780.77" r="1.05" fill="#c01420" stroke="#f22a34" stroke-width="0.6"/>
<circle cx="73.65" cy="780.38" r="1.05" fill="#c01420" stroke="#f22a34" stroke-width="0.6"/>
<circle cx="91.54" cy="711.92" r="1.05" fill="#c01420" stroke="#f22a34" stroke-width="0.6"/>
<circle cx="91.54" cy="721.15" r="1.05" fill="#c01420" stroke="#f22a34" stroke-width="0.6"/>
<circle cx="91.92" cy="728.46" r="1.05" fill="#c01420" stroke="#f22a34" stroke-width="0.6"/>
<circle cx="91.92" cy="733.08" r="1.05" fill="#c01420" stroke="#f22a34" stroke-width="0.6"/>
<circle cx="91.54" cy="740.77" r="1.05" fill="#c01420" stroke="#f22a34" stroke-width="0.6"/>
<circle cx="91.54" cy="755.77" r="1.05" fill="#c01420" stroke="#f22a34" stroke-width="0.6"/>
<circle cx="92.88" cy="757.69" r="1.05" fill="#c01420" stroke="#f22a34" stroke-width="0.6"/>
<circle cx="89.62" cy="761.15" r="1.05" fill="#c01420" stroke="#f22a34" stroke-width="0.6"/>
<circle cx="93.85" cy="761.54" r="1.05" fill="#c01420" stroke="#f22a34" stroke-width="0.6"/>
<circle cx="90.96" cy="765.38" r="1.05" fill="#c01420" stroke="#f22a34" stroke-width="0.6"/>
<circle cx="90.00" cy="769.23" r="1.05" fill="#c01420" stroke="#f22a34" stroke-width="0.6"/>
<circle cx="92.88" cy="771.15" r="1.05" fill="#c01420" stroke="#f22a34" stroke-width="0.6"/>
<circle cx="87.69" cy="780.77" r="1.05" fill="#c01420" stroke="#f22a34" stroke-width="0.6"/>
<circle cx="91.54" cy="781.73" r="1.05" fill="#c01420" stroke="#f22a34" stroke-width="0.6"/>
<circle cx="95.77" cy="780.38" r="1.05" fill="#c01420" stroke="#f22a34" stroke-width="0.6"/>
<circle cx="86.15" cy="784.62" r="1.05" fill="#c01420" stroke="#f22a34" stroke-width="0.6"/>
<circle cx="89.62" cy="785.58" r="1.05" fill="#c01420" stroke="#f22a34" stroke-width="0.6"/>
<circle cx="93.46" cy="784.62" r="1.05" fill="#c01420" stroke="#f22a34" stroke-width="0.6"/>
<circle cx="97.31" cy="785.58" r="1.05" fill="#c01420" stroke="#f22a34" stroke-width="0.6"/>
<circle cx="88.08" cy="788.46" r="1.05" fill="#c01420" stroke="#f22a34" stroke-width="0.6"/>
<circle cx="91.92" cy="788.85" r="1.05" fill="#c01420" stroke="#f22a34" stroke-width="0.6"/>
<circle cx="95.77" cy="789.42" r="1.05" fill="#c01420" stroke="#f22a34" stroke-width="0.6"/>
<circle cx="87.12" cy="791.92" r="1.05" fill="#c01420" stroke="#f22a34" stroke-width="0.6"/>
<circle cx="90.96" cy="792.31" r="1.05" fill="#c01420" stroke="#f22a34" stroke-width="0.6"/>
<circle cx="94.81" cy="792.31" r="1.05" fill="#c01420" stroke="#f22a34" stroke-width="0.6"/>
<circle cx="89.04" cy="795.19" r="1.05" fill="#c01420" stroke="#f22a34" stroke-width="0.6"/>
<circle cx="92.88" cy="795.19" r="1.05" fill="#c01420" stroke="#f22a34" stroke-width="0.6"/>
<circle cx="96.73" cy="796.15" r="1.05" fill="#c01420" stroke="#f22a34" stroke-width="0.6"/>
<circle cx="90.00" cy="798.46" r="1.05" fill="#c01420" stroke="#f22a34" stroke-width="0.6"/>
<circle cx="93.85" cy="799.04" r="1.05" fill="#c01420" stroke="#f22a34" stroke-width="0.6"/>
<circle cx="90.96" cy="801.54" r="1.05" fill="#c01420" stroke="#f22a34" stroke-width="0.6"/>
<circle cx="106.35" cy="711.15" r="1.05" fill="#c01420" stroke="#f22a34" stroke-width="0.6"/>
<circle cx="111.15" cy="710.58" r="1.05" fill="#c01420" stroke="#f22a34" stroke-width="0.6"/>
<circle cx="115.96" cy="710.00" r="1.05" fill="#c01420" stroke="#f22a34" stroke-width="0.6"/>
<circle cx="107.31" cy="714.42" r="1.05" fill="#c01420" stroke="#f22a34" stroke-width="0.6"/>
<circle cx="112.12" cy="713.85" r="1.05" fill="#c01420" stroke="#f22a34" stroke-width="0.6"/>
<circle cx="115.96" cy="715.00" r="1.05" fill="#c01420" stroke="#f22a34" stroke-width="0.6"/>
<circle cx="108.27" cy="717.31" r="1.05" fill="#c01420" stroke="#f22a34" stroke-width="0.6"/>
<circle cx="113.08" cy="718.27" r="1.05" fill="#c01420" stroke="#f22a34" stroke-width="0.6"/>
<circle cx="109.23" cy="721.15" r="1.05" fill="#c01420" stroke="#f22a34" stroke-width="0.6"/>
<circle cx="114.04" cy="721.15" r="1.05" fill="#c01420" stroke="#f22a34" stroke-width="0.6"/>
<circle cx="111.15" cy="724.04" r="1.05" fill="#c01420" stroke="#f22a34" stroke-width="0.6"/>
<circle cx="115.00" cy="725.00" r="1.05" fill="#c01420" stroke="#f22a34" stroke-width="0.6"/>
<circle cx="110.19" cy="733.65" r="1.05" fill="#c01420" stroke="#f22a34" stroke-width="0.6"/>
<circle cx="114.04" cy="734.62" r="1.05" fill="#c01420" stroke="#f22a34" stroke-width="0.6"/>
<circle cx="107.31" cy="736.92" r="1.05" fill="#c01420" stroke="#f22a34" stroke-width="0.6"/>
<circle cx="112.12" cy="737.50" r="1.05" fill="#c01420" stroke="#f22a34" stroke-width="0.6"/>
<circle cx="116.92" cy="737.50" r="1.05" fill="#c01420" stroke="#f22a34" stroke-width="0.6"/>
<circle cx="108.27" cy="740.38" r="1.05" fill="#c01420" stroke="#f22a34" stroke-width="0.6"/>
<circle cx="112.12" cy="741.35" r="1.05" fill="#c01420" stroke="#f22a34" stroke-width="0.6"/>
<circle cx="115.96" cy="740.77" r="1.05" fill="#c01420" stroke="#f22a34" stroke-width="0.6"/>
<circle cx="106.35" cy="746.15" r="1.05" fill="#c01420" stroke="#f22a34" stroke-width="0.6"/>
<circle cx="110.19" cy="747.12" r="1.05" fill="#c01420" stroke="#f22a34" stroke-width="0.6"/>
<circle cx="115.00" cy="746.15" r="1.05" fill="#c01420" stroke="#f22a34" stroke-width="0.6"/>
<circle cx="107.31" cy="750.96" r="1.05" fill="#c01420" stroke="#f22a34" stroke-width="0.6"/>
<circle cx="111.15" cy="751.92" r="1.05" fill="#c01420" stroke="#f22a34" stroke-width="0.6"/>
<circle cx="106.35" cy="754.81" r="1.05" fill="#c01420" stroke="#f22a34" stroke-width="0.6"/>
<circle cx="115.96" cy="754.81" r="1.05" fill="#c01420" stroke="#f22a34" stroke-width="0.6"/>
<circle cx="109.23" cy="758.65" r="1.05" fill="#c01420" stroke="#f22a34" stroke-width="0.6"/>
<circle cx="113.08" cy="759.62" r="1.05" fill="#c01420" stroke="#f22a34" stroke-width="0.6"/>
<circle cx="106.35" cy="762.50" r="1.05" fill="#c01420" stroke="#f22a34" stroke-width="0.6"/>
<circle cx="110.19" cy="763.46" r="1.05" fill="#c01420" stroke="#f22a34" stroke-width="0.6"/>
<circle cx="115.00" cy="763.46" r="1.05" fill="#c01420" stroke="#f22a34" stroke-width="0.6"/>
<circle cx="107.31" cy="767.31" r="1.05" fill="#c01420" stroke="#f22a34" stroke-width="0.6"/>
<circle cx="111.15" cy="768.27" r="1.05" fill="#c01420" stroke="#f22a34" stroke-width="0.6"/>
<circle cx="115.96" cy="768.27" r="1.05" fill="#c01420" stroke="#f22a34" stroke-width="0.6"/>
<circle cx="108.27" cy="772.12" r="1.05" fill="#c01420" stroke="#f22a34" stroke-width="0.6"/>
<circle cx="112.12" cy="773.08" r="1.05" fill="#c01420" stroke="#f22a34" stroke-width="0.6"/>
<circle cx="112.12" cy="776.92" r="1.05" fill="#c01420" stroke="#f22a34" stroke-width="0.6"/>
<circle cx="109.23" cy="780.77" r="1.05" fill="#c01420" stroke="#f22a34" stroke-width="0.6"/>
<circle cx="112.12" cy="785.58" r="1.05" fill="#c01420" stroke="#f22a34" stroke-width="0.6"/>
<circle cx="129.42" cy="712.50" r="1.05" fill="#c01420" stroke="#f22a34" stroke-width="0.6"/>
<circle cx="133.27" cy="713.08" r="1.05" fill="#c01420" stroke="#f22a34" stroke-width="0.6"/>
<circle cx="130.38" cy="718.27" r="1.05" fill="#c01420" stroke="#f22a34" stroke-width="0.6"/>
<circle cx="134.23" cy="719.23" r="1.05" fill="#c01420" stroke="#f22a34" stroke-width="0.6"/>
<circle cx="128.46" cy="722.12" r="1.05" fill="#c01420" stroke="#f22a34" stroke-width="0.6"/>
<circle cx="133.27" cy="723.08" r="1.05" fill="#c01420" stroke="#f22a34" stroke-width="0.6"/>
<circle cx="131.35" cy="725.96" r="1.05" fill="#c01420" stroke="#f22a34" stroke-width="0.6"/>
<circle cx="129.42" cy="735.58" r="1.05" fill="#c01420" stroke="#f22a34" stroke-width="0.6"/>
<circle cx="131.35" cy="738.46" r="1.05" fill="#c01420" stroke="#f22a34" stroke-width="0.6"/>
<circle cx="134.23" cy="740.38" r="1.05" fill="#c01420" stroke="#f22a34" stroke-width="0.6"/>
<circle cx="127.50" cy="748.08" r="1.05" fill="#c01420" stroke="#f22a34" stroke-width="0.6"/>
<circle cx="130.38" cy="749.04" r="1.05" fill="#c01420" stroke="#f22a34" stroke-width="0.6"/>
<circle cx="134.23" cy="749.04" r="1.05" fill="#c01420" stroke="#f22a34" stroke-width="0.6"/>
<circle cx="128.46" cy="751.92" r="1.05" fill="#c01420" stroke="#f22a34" stroke-width="0.6"/>
<circle cx="133.27" cy="752.88" r="1.05" fill="#c01420" stroke="#f22a34" stroke-width="0.6"/>
<circle cx="130.38" cy="755.77" r="1.05" fill="#c01420" stroke="#f22a34" stroke-width="0.6"/>
<circle cx="134.23" cy="755.77" r="1.05" fill="#c01420" stroke="#f22a34" stroke-width="0.6"/>
<circle cx="129.42" cy="759.62" r="1.05" fill="#c01420" stroke="#f22a34" stroke-width="0.6"/>
<circle cx="132.31" cy="761.54" r="1.05" fill="#c01420" stroke="#f22a34" stroke-width="0.6"/>
<circle cx="130.38" cy="765.38" r="1.05" fill="#c01420" stroke="#f22a34" stroke-width="0.6"/>
<circle cx="131.35" cy="769.23" r="1.05" fill="#c01420" stroke="#f22a34" stroke-width="0.6"/>
<circle cx="129.42" cy="772.12" r="1.05" fill="#c01420" stroke="#f22a34" stroke-width="0.6"/>
<circle cx="131.35" cy="776.92" r="1.05" fill="#c01420" stroke="#f22a34" stroke-width="0.6"/>
<circle cx="131.35" cy="788.08" r="1.05" fill="#c01420" stroke="#f22a34" stroke-width="0.6"/>
<circle cx="148.27" cy="718.27" r="1.05" fill="#181860" stroke="#4a4ab8" stroke-width="0.6"/>
<circle cx="151.54" cy="719.23" r="1.05" fill="#181860" stroke="#4a4ab8" stroke-width="0.6"/>
<circle cx="147.69" cy="722.69" r="1.05" fill="#181860" stroke="#4a4ab8" stroke-width="0.6"/>
<circle cx="151.15" cy="724.04" r="1.05" fill="#181860" stroke="#4a4ab8" stroke-width="0.6"/>
<circle cx="149.23" cy="726.92" r="1.05" fill="#181860" stroke="#4a4ab8" stroke-width="0.6"/>
<circle cx="149.23" cy="732.31" r="1.05" fill="#181860" stroke="#4a4ab8" stroke-width="0.6"/>
<circle cx="147.31" cy="738.46" r="1.05" fill="#181860" stroke="#4a4ab8" stroke-width="0.6"/>
<circle cx="151.15" cy="739.42" r="1.05" fill="#181860" stroke="#4a4ab8" stroke-width="0.6"/>
<circle cx="154.04" cy="739.42" r="1.05" fill="#181860" stroke="#4a4ab8" stroke-width="0.6"/>
<circle cx="145.38" cy="740.38" r="1.05" fill="#181860" stroke="#4a4ab8" stroke-width="0.6"/>
<circle cx="148.27" cy="742.69" r="1.05" fill="#181860" stroke="#4a4ab8" stroke-width="0.6"/>
<circle cx="152.12" cy="742.31" r="1.05" fill="#181860" stroke="#4a4ab8" stroke-width="0.6"/>
<circle cx="149.23" cy="745.19" r="1.05" fill="#181860" stroke="#4a4ab8" stroke-width="0.6"/>
<circle cx="144.42" cy="755.77" r="1.05" fill="#181860" stroke="#4a4ab8" stroke-width="0.6"/>
<circle cx="148.27" cy="755.77" r="1.05" fill="#181860" stroke="#4a4ab8" stroke-width="0.6"/>
<circle cx="152.12" cy="755.77" r="1.05" fill="#181860" stroke="#4a4ab8" stroke-width="0.6"/>
<circle cx="155.00" cy="755.38" r="1.05" fill="#181860" stroke="#4a4ab8" stroke-width="0.6"/>
<circle cx="146.35" cy="758.65" r="1.05" fill="#181860" stroke="#4a4ab8" stroke-width="0.6"/>
<circle cx="150.19" cy="757.69" r="1.05" fill="#181860" stroke="#4a4ab8" stroke-width="0.6"/>
<circle cx="147.31" cy="762.50" r="1.05" fill="#181860" stroke="#4a4ab8" stroke-width="0.6"/>
<circle cx="150.19" cy="763.46" r="1.05" fill="#181860" stroke="#4a4ab8" stroke-width="0.6"/>
<circle cx="154.04" cy="762.50" r="1.05" fill="#181860" stroke="#4a4ab8" stroke-width="0.6"/>
<circle cx="149.23" cy="766.35" r="1.05" fill="#181860" stroke="#4a4ab8" stroke-width="0.6"/>
<circle cx="148.27" cy="773.08" r="1.05" fill="#181860" stroke="#4a4ab8" stroke-width="0.6"/>
<circle cx="151.15" cy="773.08" r="1.05" fill="#181860" stroke="#4a4ab8" stroke-width="0.6"/>
<circle cx="148.27" cy="776.92" r="1.05" fill="#181860" stroke="#4a4ab8" stroke-width="0.6"/>
<circle cx="151.15" cy="778.85" r="1.05" fill="#181860" stroke="#4a4ab8" stroke-width="0.6"/>
<circle cx="148.27" cy="782.69" r="1.05" fill="#181860" stroke="#4a4ab8" stroke-width="0.6"/>
<circle cx="150.19" cy="784.62" r="1.05" fill="#181860" stroke="#4a4ab8" stroke-width="0.6"/>
<circle cx="147.31" cy="788.46" r="1.05" fill="#181860" stroke="#4a4ab8" stroke-width="0.6"/>
<circle cx="152.12" cy="789.42" r="1.05" fill="#181860" stroke="#4a4ab8" stroke-width="0.6"/>
<circle cx="148.27" cy="792.31" r="1.05" fill="#181860" stroke="#4a4ab8" stroke-width="0.6"/>
<circle cx="151.15" cy="792.31" r="1.05" fill="#181860" stroke="#4a4ab8" stroke-width="0.6"/>
<circle cx="169.42" cy="746.15" r="1.05" fill="#181860" stroke="#4a4ab8" stroke-width="0.6"/>
<circle cx="169.42" cy="751.54" r="1.05" fill="#181860" stroke="#4a4ab8" stroke-width="0.6"/>
<circle cx="166.54" cy="756.73" r="1.05" fill="#181860" stroke="#4a4ab8" stroke-width="0.6"/>
<circle cx="170.38" cy="756.73" r="1.05" fill="#181860" stroke="#4a4ab8" stroke-width="0.6"/>
<circle cx="168.46" cy="759.62" r="1.05" fill="#181860" stroke="#4a4ab8" stroke-width="0.6"/>
<circle cx="165.58" cy="761.54" r="1.05" fill="#181860" stroke="#4a4ab8" stroke-width="0.6"/>
<circle cx="171.35" cy="761.54" r="1.05" fill="#181860" stroke="#4a4ab8" stroke-width="0.6"/>
<circle cx="167.50" cy="764.42" r="1.05" fill="#181860" stroke="#4a4ab8" stroke-width="0.6"/>
<circle cx="170.38" cy="765.38" r="1.05" fill="#181860" stroke="#4a4ab8" stroke-width="0.6"/>
<circle cx="166.54" cy="768.27" r="1.05" fill="#181860" stroke="#4a4ab8" stroke-width="0.6"/>
<circle cx="170.38" cy="769.23" r="1.05" fill="#181860" stroke="#4a4ab8" stroke-width="0.6"/>
<circle cx="169.42" cy="773.08" r="1.05" fill="#181860" stroke="#4a4ab8" stroke-width="0.6"/>
<circle cx="164.62" cy="777.88" r="1.05" fill="#181860" stroke="#4a4ab8" stroke-width="0.6"/>
<circle cx="168.46" cy="778.85" r="1.05" fill="#181860" stroke="#4a4ab8" stroke-width="0.6"/>
<circle cx="172.31" cy="777.88" r="1.05" fill="#181860" stroke="#4a4ab8" stroke-width="0.6"/>
<circle cx="165.58" cy="781.73" r="1.05" fill="#181860" stroke="#4a4ab8" stroke-width="0.6"/>
<circle cx="169.42" cy="782.69" r="1.05" fill="#181860" stroke="#4a4ab8" stroke-width="0.6"/>
<circle cx="173.27" cy="782.69" r="1.05" fill="#181860" stroke="#4a4ab8" stroke-width="0.6"/>
<circle cx="164.62" cy="785.58" r="1.05" fill="#181860" stroke="#4a4ab8" stroke-width="0.6"/>
<circle cx="168.46" cy="785.58" r="1.05" fill="#181860" stroke="#4a4ab8" stroke-width="0.6"/>
<circle cx="172.31" cy="786.54" r="1.05" fill="#181860" stroke="#4a4ab8" stroke-width="0.6"/>
<circle cx="163.65" cy="789.42" r="1.05" fill="#181860" stroke="#4a4ab8" stroke-width="0.6"/>
<circle cx="167.50" cy="788.46" r="1.05" fill="#181860" stroke="#4a4ab8" stroke-width="0.6"/>
<circle cx="171.35" cy="789.42" r="1.05" fill="#181860" stroke="#4a4ab8" stroke-width="0.6"/>
<circle cx="165.58" cy="792.31" r="1.05" fill="#181860" stroke="#4a4ab8" stroke-width="0.6"/>
<circle cx="169.42" cy="793.27" r="1.05" fill="#181860" stroke="#4a4ab8" stroke-width="0.6"/>
<circle cx="173.27" cy="793.27" r="1.05" fill="#181860" stroke="#4a4ab8" stroke-width="0.6"/>
<circle cx="164.62" cy="796.15" r="1.05" fill="#181860" stroke="#4a4ab8" stroke-width="0.6"/>
<circle cx="168.46" cy="796.15" r="1.05" fill="#181860" stroke="#4a4ab8" stroke-width="0.6"/>
<circle cx="172.31" cy="796.15" r="1.05" fill="#181860" stroke="#4a4ab8" stroke-width="0.6"/>
<circle cx="165.58" cy="800.00" r="1.05" fill="#181860" stroke="#4a4ab8" stroke-width="0.6"/>
<circle cx="168.46" cy="800.96" r="1.05" fill="#181860" stroke="#4a4ab8" stroke-width="0.6"/>
<circle cx="171.35" cy="800.96" r="1.05" fill="#181860" stroke="#4a4ab8" stroke-width="0.6"/>
<circle cx="185.77" cy="710.00" r="1.05" fill="#181860" stroke="#4a4ab8" stroke-width="0.6"/>
<circle cx="191.15" cy="710.00" r="1.05" fill="#181860" stroke="#4a4ab8" stroke-width="0.6"/>
<circle cx="186.73" cy="713.85" r="1.05" fill="#181860" stroke="#4a4ab8" stroke-width="0.6"/>
<circle cx="191.54" cy="713.85" r="1.05" fill="#181860" stroke="#4a4ab8" stroke-width="0.6"/>
<circle cx="188.65" cy="716.92" r="1.05" fill="#181860" stroke="#4a4ab8" stroke-width="0.6"/>
<circle cx="187.69" cy="721.54" r="1.05" fill="#181860" stroke="#4a4ab8" stroke-width="0.6"/>
<circle cx="191.54" cy="723.08" r="1.05" fill="#181860" stroke="#4a4ab8" stroke-width="0.6"/>
<circle cx="185.77" cy="725.96" r="1.05" fill="#181860" stroke="#4a4ab8" stroke-width="0.6"/>
<circle cx="189.62" cy="726.92" r="1.05" fill="#181860" stroke="#4a4ab8" stroke-width="0.6"/>
<circle cx="184.81" cy="730.77" r="1.05" fill="#181860" stroke="#4a4ab8" stroke-width="0.6"/>
<circle cx="188.65" cy="730.77" r="1.05" fill="#181860" stroke="#4a4ab8" stroke-width="0.6"/>
<circle cx="191.54" cy="732.69" r="1.05" fill="#181860" stroke="#4a4ab8" stroke-width="0.6"/>
<circle cx="185.77" cy="734.62" r="1.05" fill="#181860" stroke="#4a4ab8" stroke-width="0.6"/>
<circle cx="189.62" cy="736.54" r="1.05" fill="#181860" stroke="#4a4ab8" stroke-width="0.6"/>
<circle cx="184.81" cy="738.46" r="1.05" fill="#181860" stroke="#4a4ab8" stroke-width="0.6"/>
<circle cx="188.65" cy="740.38" r="1.05" fill="#181860" stroke="#4a4ab8" stroke-width="0.6"/>
<circle cx="192.50" cy="740.38" r="1.05" fill="#181860" stroke="#4a4ab8" stroke-width="0.6"/>
<circle cx="186.73" cy="743.27" r="1.05" fill="#181860" stroke="#4a4ab8" stroke-width="0.6"/>
<circle cx="189.62" cy="744.23" r="1.05" fill="#181860" stroke="#4a4ab8" stroke-width="0.6"/>
<circle cx="185.77" cy="749.04" r="1.05" fill="#181860" stroke="#4a4ab8" stroke-width="0.6"/>
<circle cx="189.62" cy="750.00" r="1.05" fill="#181860" stroke="#4a4ab8" stroke-width="0.6"/>
<circle cx="187.69" cy="752.88" r="1.05" fill="#181860" stroke="#4a4ab8" stroke-width="0.6"/>
<circle cx="184.81" cy="755.77" r="1.05" fill="#181860" stroke="#4a4ab8" stroke-width="0.6"/>
<circle cx="188.65" cy="755.77" r="1.05" fill="#181860" stroke="#4a4ab8" stroke-width="0.6"/>
<circle cx="191.54" cy="756.73" r="1.05" fill="#181860" stroke="#4a4ab8" stroke-width="0.6"/>
<circle cx="185.77" cy="758.65" r="1.05" fill="#181860" stroke="#4a4ab8" stroke-width="0.6"/>
<circle cx="189.62" cy="759.62" r="1.05" fill="#181860" stroke="#4a4ab8" stroke-width="0.6"/>
<circle cx="184.81" cy="763.46" r="1.05" fill="#181860" stroke="#4a4ab8" stroke-width="0.6"/>
<circle cx="188.65" cy="765.38" r="1.05" fill="#181860" stroke="#4a4ab8" stroke-width="0.6"/>
<circle cx="191.54" cy="765.38" r="1.05" fill="#181860" stroke="#4a4ab8" stroke-width="0.6"/>
<circle cx="185.77" cy="768.27" r="1.05" fill="#181860" stroke="#4a4ab8" stroke-width="0.6"/>
<circle cx="189.62" cy="768.27" r="1.05" fill="#181860" stroke="#4a4ab8" stroke-width="0.6"/>
<circle cx="183.85" cy="770.19" r="1.05" fill="#181860" stroke="#4a4ab8" stroke-width="0.6"/>
<circle cx="187.69" cy="771.15" r="1.05" fill="#181860" stroke="#4a4ab8" stroke-width="0.6"/>
<circle cx="191.54" cy="770.19" r="1.05" fill="#181860" stroke="#4a4ab8" stroke-width="0.6"/>
<circle cx="187.69" cy="785.58" r="1.05" fill="#181860" stroke="#4a4ab8" stroke-width="0.6"/>
<circle cx="187.69" cy="790.77" r="1.05" fill="#181860" stroke="#4a4ab8" stroke-width="0.6"/>
<circle cx="205.96" cy="710.58" r="1.05" fill="#181860" stroke="#4a4ab8" stroke-width="0.6"/>
<circle cx="209.81" cy="710.58" r="1.05" fill="#181860" stroke="#4a4ab8" stroke-width="0.6"/>
<circle cx="204.04" cy="714.42" r="1.05" fill="#181860" stroke="#4a4ab8" stroke-width="0.6"/>
<circle cx="207.88" cy="713.85" r="1.05" fill="#181860" stroke="#4a4ab8" stroke-width="0.6"/>
<circle cx="211.73" cy="715.38" r="1.05" fill="#181860" stroke="#4a4ab8" stroke-width="0.6"/>
<circle cx="205.00" cy="718.27" r="1.05" fill="#181860" stroke="#4a4ab8" stroke-width="0.6"/>
<circle cx="208.85" cy="719.23" r="1.05" fill="#181860" stroke="#4a4ab8" stroke-width="0.6"/>
<circle cx="210.77" cy="718.27" r="1.05" fill="#181860" stroke="#4a4ab8" stroke-width="0.6"/>
<circle cx="204.04" cy="722.12" r="1.05" fill="#181860" stroke="#4a4ab8" stroke-width="0.6"/>
<circle cx="207.88" cy="722.69" r="1.05" fill="#181860" stroke="#4a4ab8" stroke-width="0.6"/>
<circle cx="211.73" cy="723.08" r="1.05" fill="#181860" stroke="#4a4ab8" stroke-width="0.6"/>
<circle cx="207.88" cy="730.77" r="1.05" fill="#181860" stroke="#4a4ab8" stroke-width="0.6"/>
<circle cx="206.92" cy="743.27" r="1.05" fill="#181860" stroke="#4a4ab8" stroke-width="0.6"/>
<circle cx="208.85" cy="746.15" r="1.05" fill="#181860" stroke="#4a4ab8" stroke-width="0.6"/>
<circle cx="205.96" cy="750.96" r="1.05" fill="#181860" stroke="#4a4ab8" stroke-width="0.6"/>
<circle cx="209.81" cy="751.92" r="1.05" fill="#181860" stroke="#4a4ab8" stroke-width="0.6"/>
<circle cx="206.92" cy="754.81" r="1.05" fill="#181860" stroke="#4a4ab8" stroke-width="0.6"/>
<circle cx="210.77" cy="755.77" r="1.05" fill="#181860" stroke="#4a4ab8" stroke-width="0.6"/>
<circle cx="205.00" cy="757.69" r="1.05" fill="#181860" stroke="#4a4ab8" stroke-width="0.6"/>
<circle cx="208.85" cy="758.65" r="1.05" fill="#181860" stroke="#4a4ab8" stroke-width="0.6"/>
<circle cx="205.96" cy="761.54" r="1.05" fill="#181860" stroke="#4a4ab8" stroke-width="0.6"/>
<circle cx="209.81" cy="762.50" r="1.05" fill="#181860" stroke="#4a4ab8" stroke-width="0.6"/>
<circle cx="204.04" cy="765.38" r="1.05" fill="#181860" stroke="#4a4ab8" stroke-width="0.6"/>
<circle cx="207.88" cy="765.38" r="1.05" fill="#181860" stroke="#4a4ab8" stroke-width="0.6"/>
<circle cx="211.73" cy="766.35" r="1.05" fill="#181860" stroke="#4a4ab8" stroke-width="0.6"/>
<circle cx="203.08" cy="769.23" r="1.05" fill="#181860" stroke="#4a4ab8" stroke-width="0.6"/>
<circle cx="206.92" cy="769.23" r="1.05" fill="#181860" stroke="#4a4ab8" stroke-width="0.6"/>
<circle cx="210.77" cy="769.23" r="1.05" fill="#181860" stroke="#4a4ab8" stroke-width="0.6"/>
<circle cx="205.00" cy="772.12" r="1.05" fill="#181860" stroke="#4a4ab8" stroke-width="0.6"/>
<circle cx="208.85" cy="772.69" r="1.05" fill="#181860" stroke="#4a4ab8" stroke-width="0.6"/>
<circle cx="205.96" cy="775.00" r="1.05" fill="#181860" stroke="#4a4ab8" stroke-width="0.6"/>
<circle cx="208.85" cy="775.96" r="1.05" fill="#181860" stroke="#4a4ab8" stroke-width="0.6"/>
<circle cx="207.88" cy="778.85" r="1.05" fill="#181860" stroke="#4a4ab8" stroke-width="0.6"/>
<line x1="66.90" y1="755.80" x2="79.40" y2="755.80" stroke="#1a1a1a" stroke-width="1.35"/>
<line x1="85.20" y1="775.60" x2="98.10" y2="775.60" stroke="#1a1a1a" stroke-width="1.35"/>
<line x1="104.40" y1="744.20" x2="117.90" y2="744.20" stroke="#1a1a1a" stroke-width="1.35"/>
<line x1="124.60" y1="745.20" x2="137.10" y2="745.20" stroke="#1a1a1a" stroke-width="1.35"/>
<line x1="143.50" y1="755.80" x2="156.50" y2="755.80" stroke="#1a1a1a" stroke-width="1.35"/>
<line x1="162.70" y1="779.80" x2="176.20" y2="779.80" stroke="#1a1a1a" stroke-width="1.35"/>
<line x1="182.30" y1="745.80" x2="195.40" y2="745.80" stroke="#1a1a1a" stroke-width="1.35"/>
<line x1="201.50" y1="748.70" x2="214.60" y2="748.70" stroke="#1a1a1a" stroke-width="1.35"/>
<text x="0" y="0" font-size="8.2" fill="#1e1e1e" stroke="#1e1e1e" style="stroke-width:0.3px" textLength="21.41" lengthAdjust="spacingAndGlyphs" transform="translate(68.60,820.80) rotate(39)">control</text>
<text x="0" y="0" font-size="8.2" fill="#1e1e1e" stroke="#1e1e1e" style="stroke-width:0.3px" textLength="28.15" lengthAdjust="spacingAndGlyphs" transform="translate(86.80,820.80) rotate(39)">anti-CD3</text>
<text x="0" y="0" font-size="8.2" fill="#1e1e1e" stroke="#1e1e1e" style="stroke-width:0.3px" textLength="38.46" lengthAdjust="spacingAndGlyphs" transform="translate(108.60,820.80) rotate(39)">anti-CTLA-4</text>
<text x="0" y="0" font-size="8.2" fill="#1e1e1e" stroke="#1e1e1e" style="stroke-width:0.3px" textLength="54.71" lengthAdjust="spacingAndGlyphs" transform="translate(129.10,820.80) rotate(39)">anti-CD3/CTLA-4</text>
<text x="0" y="0" font-size="8.2" fill="#1e1e1e" stroke="#1e1e1e" style="stroke-width:0.3px" textLength="21.41" lengthAdjust="spacingAndGlyphs" transform="translate(149.10,820.80) rotate(39)">control</text>
<text x="0" y="0" font-size="8.2" fill="#1e1e1e" stroke="#1e1e1e" style="stroke-width:0.3px" textLength="28.15" lengthAdjust="spacingAndGlyphs" transform="translate(167.60,820.80) rotate(39)">anti-CD3</text>
<text x="0" y="0" font-size="8.2" fill="#1e1e1e" stroke="#1e1e1e" style="stroke-width:0.3px" textLength="38.46" lengthAdjust="spacingAndGlyphs" transform="translate(187.60,820.80) rotate(39)">anti-CTLA-4</text>
<text x="0" y="0" font-size="8.2" fill="#1e1e1e" stroke="#1e1e1e" style="stroke-width:0.3px" textLength="54.71" lengthAdjust="spacingAndGlyphs" transform="translate(206.80,820.80) rotate(39)">anti-CD3/CTLA-4</text>
<line x1="91.30" y1="653.00" x2="117.00" y2="653.00" stroke="#3a3a3a" stroke-width="1.1"/>
<text x="83.80" y="649.50" font-size="8.6" text-anchor="start" fill="#1e1e1e" stroke="#1e1e1e" textLength="33.70" lengthAdjust="spacingAndGlyphs" >P&lt;0.0001</text>
<line x1="73.80" y1="668.00" x2="130.50" y2="668.00" stroke="#3a3a3a" stroke-width="1.1"/>
<text x="83.80" y="663.80" font-size="8.6" text-anchor="start" fill="#1e1e1e" stroke="#1e1e1e" textLength="33.70" lengthAdjust="spacingAndGlyphs" >P=0.0211</text>
<line x1="73.00" y1="683.80" x2="115.50" y2="683.80" stroke="#3a3a3a" stroke-width="1.1"/>
<text x="80.00" y="679.30" font-size="8.6" text-anchor="start" fill="#1e1e1e" stroke="#1e1e1e" textLength="33.80" lengthAdjust="spacingAndGlyphs" >P=0.0096</text>
<line x1="73.80" y1="698.00" x2="93.00" y2="698.00" stroke="#3a3a3a" stroke-width="1.1"/>
<text x="62.00" y="693.80" font-size="8.6" text-anchor="start" fill="#1e1e1e" stroke="#1e1e1e" textLength="33.50" lengthAdjust="spacingAndGlyphs" >P&lt;0.0001</text>
<line x1="168.80" y1="651.30" x2="195.50" y2="651.30" stroke="#3a3a3a" stroke-width="1.1"/>
<text x="161.30" y="647.00" font-size="8.6" text-anchor="start" fill="#1e1e1e" stroke="#1e1e1e" textLength="35.00" lengthAdjust="spacingAndGlyphs" >P&lt;0.0001</text>
<line x1="152.50" y1="667.00" x2="215.00" y2="667.00" stroke="#3a3a3a" stroke-width="1.1"/>
<text x="163.80" y="662.50" font-size="8.6" text-anchor="start" fill="#1e1e1e" stroke="#1e1e1e" textLength="40.00" lengthAdjust="spacingAndGlyphs" >P=0.04786</text>
<line x1="151.30" y1="682.50" x2="195.00" y2="682.50" stroke="#3a3a3a" stroke-width="1.1"/>
<text x="158.00" y="678.30" font-size="8.6" text-anchor="start" fill="#1e1e1e" stroke="#1e1e1e" textLength="35.00" lengthAdjust="spacingAndGlyphs" >P=0.0334</text>
<line x1="150.50" y1="698.00" x2="172.00" y2="698.00" stroke="#3a3a3a" stroke-width="1.1"/>
<text x="140.00" y="693.80" font-size="8.6" text-anchor="start" fill="#1e1e1e" stroke="#1e1e1e" textLength="35.00" lengthAdjust="spacingAndGlyphs" >P&lt;0.0001</text>
<circle cx="245.4" cy="651.2" r="1.3" fill="#c8202c"/>
<circle cx="245.4" cy="663" r="1.3" fill="#22226a"/>
<text x="253.8" y="654.4" font-size="8.18" font-style="italic" font-weight="bold" fill="#c42838" textLength="33.10" lengthAdjust="spacingAndGlyphs">Cd28+/+</text>
<text x="253.8" y="666.0" font-size="8.18" font-style="italic" font-weight="bold" fill="#303070" textLength="18.87" lengthAdjust="spacingAndGlyphs">Cd28</text>
<text x="273.27" y="662.56" font-size="4.91" font-style="italic" fill="#303070">-/-</text>
<line x1="309.20" y1="710.70" x2="309.20" y2="813.50" stroke="#6a6a6a" stroke-width="1.5"/>
<line x1="306.90" y1="711.20" x2="309.20" y2="711.20" stroke="#6a6a6a" stroke-width="1.0"/>
<text x="305.40" y="714.87" font-size="10.2" text-anchor="end" fill="#1e1e1e" stroke="#1e1e1e" textLength="9.53" lengthAdjust="spacingAndGlyphs" >80</text>
<line x1="306.90" y1="736.50" x2="309.20" y2="736.50" stroke="#6a6a6a" stroke-width="1.0"/>
<text x="305.40" y="740.17" font-size="10.2" text-anchor="end" fill="#1e1e1e" stroke="#1e1e1e" textLength="9.53" lengthAdjust="spacingAndGlyphs" >60</text>
<line x1="306.90" y1="762.10" x2="309.20" y2="762.10" stroke="#6a6a6a" stroke-width="1.0"/>
<text x="305.40" y="765.77" font-size="10.2" text-anchor="end" fill="#1e1e1e" stroke="#1e1e1e" textLength="9.53" lengthAdjust="spacingAndGlyphs" >40</text>
<line x1="306.90" y1="787.90" x2="309.20" y2="787.90" stroke="#6a6a6a" stroke-width="1.0"/>
<text x="305.40" y="791.57" font-size="10.2" text-anchor="end" fill="#1e1e1e" stroke="#1e1e1e" textLength="9.53" lengthAdjust="spacingAndGlyphs" >20</text>
<line x1="306.90" y1="813.50" x2="309.20" y2="813.50" stroke="#6a6a6a" stroke-width="1.0"/>
<text x="305.40" y="817.17" font-size="10.2" text-anchor="end" fill="#1e1e1e" stroke="#1e1e1e" textLength="4.77" lengthAdjust="spacingAndGlyphs" >0</text>
<line x1="309.20" y1="813.90" x2="463.70" y2="813.90" stroke="#6a6a6a" stroke-width="1.7"/>
<text x="0" y="0" font-size="9.6" text-anchor="middle" fill="#1e1e1e" stroke="#1e1e1e" textLength="73.20" lengthAdjust="spacingAndGlyphs" style="stroke-width:0.3px" transform="translate(290.36,763.70) rotate(-90)">Displacement (µm)</text>
<circle cx="315.96" cy="713.85" r="1.05" fill="#c01420" stroke="#f22a34" stroke-width="0.6"/>
<circle cx="318.85" cy="715.00" r="1.05" fill="#c01420" stroke="#f22a34" stroke-width="0.6"/>
<circle cx="322.31" cy="712.50" r="1.05" fill="#c01420" stroke="#f22a34" stroke-width="0.6"/>
<circle cx="318.85" cy="723.08" r="1.05" fill="#c01420" stroke="#f22a34" stroke-width="0.6"/>
<circle cx="319.23" cy="726.92" r="1.05" fill="#c01420" stroke="#f22a34" stroke-width="0.6"/>
<circle cx="318.46" cy="731.73" r="1.05" fill="#c01420" stroke="#f22a34" stroke-width="0.6"/>
<circle cx="319.23" cy="735.58" r="1.05" fill="#c01420" stroke="#f22a34" stroke-width="0.6"/>
<circle cx="318.46" cy="740.00" r="1.05" fill="#c01420" stroke="#f22a34" stroke-width="0.6"/>
<circle cx="317.88" cy="749.04" r="1.05" fill="#c01420" stroke="#f22a34" stroke-width="0.6"/>
<circle cx="320.77" cy="749.04" r="1.05" fill="#c01420" stroke="#f22a34" stroke-width="0.6"/>
<circle cx="318.85" cy="755.77" r="1.05" fill="#c01420" stroke="#f22a34" stroke-width="0.6"/>
<circle cx="320.77" cy="755.77" r="1.05" fill="#c01420" stroke="#f22a34" stroke-width="0.6"/>
<circle cx="316.92" cy="758.65" r="1.05" fill="#c01420" stroke="#f22a34" stroke-width="0.6"/>
<circle cx="319.81" cy="757.69" r="1.05" fill="#c01420" stroke="#f22a34" stroke-width="0.6"/>
<circle cx="317.88" cy="763.46" r="1.05" fill="#c01420" stroke="#f22a34" stroke-width="0.6"/>
<circle cx="321.73" cy="763.46" r="1.05" fill="#c01420" stroke="#f22a34" stroke-width="0.6"/>
<circle cx="318.46" cy="767.69" r="1.05" fill="#c01420" stroke="#f22a34" stroke-width="0.6"/>
<circle cx="316.54" cy="771.15" r="1.05" fill="#c01420" stroke="#f22a34" stroke-width="0.6"/>
<circle cx="319.81" cy="770.19" r="1.05" fill="#c01420" stroke="#f22a34" stroke-width="0.6"/>
<circle cx="323.65" cy="772.12" r="1.05" fill="#c01420" stroke="#f22a34" stroke-width="0.6"/>
<circle cx="315.00" cy="775.00" r="1.05" fill="#c01420" stroke="#f22a34" stroke-width="0.6"/>
<circle cx="318.85" cy="775.00" r="1.05" fill="#c01420" stroke="#f22a34" stroke-width="0.6"/>
<circle cx="322.69" cy="775.96" r="1.05" fill="#c01420" stroke="#f22a34" stroke-width="0.6"/>
<circle cx="316.92" cy="778.85" r="1.05" fill="#c01420" stroke="#f22a34" stroke-width="0.6"/>
<circle cx="320.77" cy="778.85" r="1.05" fill="#c01420" stroke="#f22a34" stroke-width="0.6"/>
<circle cx="315.96" cy="784.62" r="1.05" fill="#c01420" stroke="#f22a34" stroke-width="0.6"/>
<circle cx="319.81" cy="784.62" r="1.05" fill="#c01420" stroke="#f22a34" stroke-width="0.6"/>
<circle cx="323.65" cy="785.58" r="1.05" fill="#c01420" stroke="#f22a34" stroke-width="0.6"/>
<circle cx="315.00" cy="787.50" r="1.05" fill="#c01420" stroke="#f22a34" stroke-width="0.6"/>
<circle cx="318.85" cy="788.46" r="1.05" fill="#c01420" stroke="#f22a34" stroke-width="0.6"/>
<circle cx="322.69" cy="789.42" r="1.05" fill="#c01420" stroke="#f22a34" stroke-width="0.6"/>
<circle cx="316.92" cy="791.35" r="1.05" fill="#c01420" stroke="#f22a34" stroke-width="0.6"/>
<circle cx="320.77" cy="791.92" r="1.05" fill="#c01420" stroke="#f22a34" stroke-width="0.6"/>
<circle cx="324.62" cy="792.31" r="1.05" fill="#c01420" stroke="#f22a34" stroke-width="0.6"/>
<circle cx="314.62" cy="795.19" r="1.05" fill="#c01420" stroke="#f22a34" stroke-width="0.6"/>
<circle cx="318.85" cy="794.62" r="1.05" fill="#c01420" stroke="#f22a34" stroke-width="0.6"/>
<circle cx="323.65" cy="794.23" r="1.05" fill="#c01420" stroke="#f22a34" stroke-width="0.6"/>
<circle cx="316.92" cy="798.08" r="1.05" fill="#c01420" stroke="#f22a34" stroke-width="0.6"/>
<circle cx="320.77" cy="798.46" r="1.05" fill="#c01420" stroke="#f22a34" stroke-width="0.6"/>
<circle cx="315.00" cy="800.96" r="1.05" fill="#c01420" stroke="#f22a34" stroke-width="0.6"/>
<circle cx="318.85" cy="801.92" r="1.05" fill="#c01420" stroke="#f22a34" stroke-width="0.6"/>
<circle cx="322.69" cy="800.96" r="1.05" fill="#c01420" stroke="#f22a34" stroke-width="0.6"/>
<circle cx="316.92" cy="805.38" r="1.05" fill="#c01420" stroke="#f22a34" stroke-width="0.6"/>
<circle cx="320.77" cy="805.38" r="1.05" fill="#c01420" stroke="#f22a34" stroke-width="0.6"/>
<circle cx="317.88" cy="808.65" r="1.05" fill="#c01420" stroke="#f22a34" stroke-width="0.6"/>
<circle cx="339.04" cy="757.31" r="1.05" fill="#c01420" stroke="#f22a34" stroke-width="0.6"/>
<circle cx="339.04" cy="763.46" r="1.05" fill="#c01420" stroke="#f22a34" stroke-width="0.6"/>
<circle cx="339.04" cy="775.00" r="1.05" fill="#c01420" stroke="#f22a34" stroke-width="0.6"/>
<circle cx="337.12" cy="787.50" r="1.05" fill="#c01420" stroke="#f22a34" stroke-width="0.6"/>
<circle cx="340.00" cy="787.50" r="1.05" fill="#c01420" stroke="#f22a34" stroke-width="0.6"/>
<circle cx="334.23" cy="789.42" r="1.05" fill="#c01420" stroke="#f22a34" stroke-width="0.6"/>
<circle cx="338.08" cy="790.00" r="1.05" fill="#c01420" stroke="#f22a34" stroke-width="0.6"/>
<circle cx="341.92" cy="789.42" r="1.05" fill="#c01420" stroke="#f22a34" stroke-width="0.6"/>
<circle cx="333.27" cy="791.92" r="1.05" fill="#c01420" stroke="#f22a34" stroke-width="0.6"/>
<circle cx="337.12" cy="792.31" r="1.05" fill="#c01420" stroke="#f22a34" stroke-width="0.6"/>
<circle cx="340.96" cy="791.92" r="1.05" fill="#c01420" stroke="#f22a34" stroke-width="0.6"/>
<circle cx="343.85" cy="792.31" r="1.05" fill="#c01420" stroke="#f22a34" stroke-width="0.6"/>
<circle cx="334.23" cy="794.62" r="1.05" fill="#c01420" stroke="#f22a34" stroke-width="0.6"/>
<circle cx="338.08" cy="795.19" r="1.05" fill="#c01420" stroke="#f22a34" stroke-width="0.6"/>
<circle cx="341.92" cy="794.62" r="1.05" fill="#c01420" stroke="#f22a34" stroke-width="0.6"/>
<circle cx="335.19" cy="798.08" r="1.05" fill="#c01420" stroke="#f22a34" stroke-width="0.6"/>
<circle cx="339.04" cy="798.46" r="1.05" fill="#c01420" stroke="#f22a34" stroke-width="0.6"/>
<circle cx="342.88" cy="798.08" r="1.05" fill="#c01420" stroke="#f22a34" stroke-width="0.6"/>
<circle cx="336.15" cy="800.96" r="1.05" fill="#c01420" stroke="#f22a34" stroke-width="0.6"/>
<circle cx="340.00" cy="801.54" r="1.05" fill="#c01420" stroke="#f22a34" stroke-width="0.6"/>
<circle cx="335.19" cy="804.81" r="1.05" fill="#c01420" stroke="#f22a34" stroke-width="0.6"/>
<circle cx="339.04" cy="804.81" r="1.05" fill="#c01420" stroke="#f22a34" stroke-width="0.6"/>
<circle cx="342.88" cy="804.81" r="1.05" fill="#c01420" stroke="#f22a34" stroke-width="0.6"/>
<circle cx="337.12" cy="807.69" r="1.05" fill="#c01420" stroke="#f22a34" stroke-width="0.6"/>
<circle cx="340.96" cy="808.65" r="1.05" fill="#c01420" stroke="#f22a34" stroke-width="0.6"/>
<circle cx="338.08" cy="812.50" r="1.05" fill="#c01420" stroke="#f22a34" stroke-width="0.6"/>
<circle cx="340.96" cy="813.08" r="1.05" fill="#c01420" stroke="#f22a34" stroke-width="0.6"/>
<circle cx="336.15" cy="790.38" r="1.05" fill="#c01420" stroke="#f22a34" stroke-width="0.6"/>
<circle cx="340.00" cy="793.46" r="1.05" fill="#c01420" stroke="#f22a34" stroke-width="0.6"/>
<circle cx="335.77" cy="796.15" r="1.05" fill="#c01420" stroke="#f22a34" stroke-width="0.6"/>
<circle cx="340.38" cy="796.54" r="1.05" fill="#c01420" stroke="#f22a34" stroke-width="0.6"/>
<circle cx="337.69" cy="797.12" r="1.05" fill="#c01420" stroke="#f22a34" stroke-width="0.6"/>
<circle cx="333.85" cy="793.27" r="1.05" fill="#c01420" stroke="#f22a34" stroke-width="0.6"/>
<circle cx="342.88" cy="793.65" r="1.05" fill="#c01420" stroke="#f22a34" stroke-width="0.6"/>
<circle cx="335.19" cy="788.08" r="1.05" fill="#c01420" stroke="#f22a34" stroke-width="0.6"/>
<circle cx="339.04" cy="788.85" r="1.05" fill="#c01420" stroke="#f22a34" stroke-width="0.6"/>
<circle cx="341.92" cy="791.35" r="1.05" fill="#c01420" stroke="#f22a34" stroke-width="0.6"/>
<circle cx="344.23" cy="790.38" r="1.05" fill="#c01420" stroke="#f22a34" stroke-width="0.6"/>
<circle cx="336.15" cy="794.23" r="1.05" fill="#c01420" stroke="#f22a34" stroke-width="0.6"/>
<circle cx="339.62" cy="791.92" r="1.05" fill="#c01420" stroke="#f22a34" stroke-width="0.6"/>
<circle cx="332.31" cy="794.62" r="1.05" fill="#c01420" stroke="#f22a34" stroke-width="0.6"/>
<circle cx="344.81" cy="795.19" r="1.05" fill="#c01420" stroke="#f22a34" stroke-width="0.6"/>
<circle cx="334.23" cy="797.12" r="1.05" fill="#c01420" stroke="#f22a34" stroke-width="0.6"/>
<circle cx="341.54" cy="797.12" r="1.05" fill="#c01420" stroke="#f22a34" stroke-width="0.6"/>
<circle cx="338.08" cy="786.54" r="1.05" fill="#c01420" stroke="#f22a34" stroke-width="0.6"/>
<circle cx="340.38" cy="790.38" r="1.05" fill="#c01420" stroke="#f22a34" stroke-width="0.6"/>
<circle cx="356.35" cy="712.50" r="1.05" fill="#c01420" stroke="#f22a34" stroke-width="0.6"/>
<circle cx="358.27" cy="713.85" r="1.05" fill="#c01420" stroke="#f22a34" stroke-width="0.6"/>
<circle cx="355.38" cy="716.92" r="1.05" fill="#c01420" stroke="#f22a34" stroke-width="0.6"/>
<circle cx="359.23" cy="717.31" r="1.05" fill="#c01420" stroke="#f22a34" stroke-width="0.6"/>
<circle cx="361.15" cy="719.62" r="1.05" fill="#c01420" stroke="#f22a34" stroke-width="0.6"/>
<circle cx="357.31" cy="721.15" r="1.05" fill="#c01420" stroke="#f22a34" stroke-width="0.6"/>
<circle cx="356.35" cy="724.62" r="1.05" fill="#c01420" stroke="#f22a34" stroke-width="0.6"/>
<circle cx="360.19" cy="725.00" r="1.05" fill="#c01420" stroke="#f22a34" stroke-width="0.6"/>
<circle cx="355.38" cy="729.81" r="1.05" fill="#c01420" stroke="#f22a34" stroke-width="0.6"/>
<circle cx="359.23" cy="730.38" r="1.05" fill="#c01420" stroke="#f22a34" stroke-width="0.6"/>
<circle cx="357.31" cy="735.58" r="1.05" fill="#c01420" stroke="#f22a34" stroke-width="0.6"/>
<circle cx="361.15" cy="737.50" r="1.05" fill="#c01420" stroke="#f22a34" stroke-width="0.6"/>
<circle cx="355.38" cy="738.08" r="1.05" fill="#c01420" stroke="#f22a34" stroke-width="0.6"/>
<circle cx="358.27" cy="740.38" r="1.05" fill="#c01420" stroke="#f22a34" stroke-width="0.6"/>
<circle cx="356.35" cy="743.85" r="1.05" fill="#c01420" stroke="#f22a34" stroke-width="0.6"/>
<circle cx="360.19" cy="744.62" r="1.05" fill="#c01420" stroke="#f22a34" stroke-width="0.6"/>
<circle cx="355.38" cy="746.15" r="1.05" fill="#c01420" stroke="#f22a34" stroke-width="0.6"/>
<circle cx="358.27" cy="748.08" r="1.05" fill="#c01420" stroke="#f22a34" stroke-width="0.6"/>
<circle cx="356.35" cy="752.31" r="1.05" fill="#c01420" stroke="#f22a34" stroke-width="0.6"/>
<circle cx="359.23" cy="753.85" r="1.05" fill="#c01420" stroke="#f22a34" stroke-width="0.6"/>
<circle cx="357.31" cy="757.31" r="1.05" fill="#c01420" stroke="#f22a34" stroke-width="0.6"/>
<circle cx="356.92" cy="768.27" r="1.05" fill="#c01420" stroke="#f22a34" stroke-width="0.6"/>
<circle cx="356.35" cy="776.54" r="1.05" fill="#c01420" stroke="#f22a34" stroke-width="0.6"/>
<circle cx="359.23" cy="777.88" r="1.05" fill="#c01420" stroke="#f22a34" stroke-width="0.6"/>
<circle cx="357.31" cy="781.73" r="1.05" fill="#c01420" stroke="#f22a34" stroke-width="0.6"/>
<circle cx="355.38" cy="785.58" r="1.05" fill="#c01420" stroke="#f22a34" stroke-width="0.6"/>
<circle cx="358.27" cy="786.54" r="1.05" fill="#c01420" stroke="#f22a34" stroke-width="0.6"/>
<circle cx="356.35" cy="790.38" r="1.05" fill="#c01420" stroke="#f22a34" stroke-width="0.6"/>
<circle cx="360.19" cy="791.35" r="1.05" fill="#c01420" stroke="#f22a34" stroke-width="0.6"/>
<circle cx="357.31" cy="794.62" r="1.05" fill="#c01420" stroke="#f22a34" stroke-width="0.6"/>
<circle cx="358.27" cy="795.77" r="1.05" fill="#c01420" stroke="#f22a34" stroke-width="0.6"/>
<circle cx="355.38" cy="799.62" r="1.05" fill="#c01420" stroke="#f22a34" stroke-width="0.6"/>
<circle cx="359.23" cy="799.62" r="1.05" fill="#c01420" stroke="#f22a34" stroke-width="0.6"/>
<circle cx="362.12" cy="800.00" r="1.05" fill="#c01420" stroke="#f22a34" stroke-width="0.6"/>
<circle cx="356.35" cy="805.77" r="1.05" fill="#c01420" stroke="#f22a34" stroke-width="0.6"/>
<circle cx="357.31" cy="808.65" r="1.05" fill="#c01420" stroke="#f22a34" stroke-width="0.6"/>
<circle cx="376.54" cy="711.92" r="1.05" fill="#c01420" stroke="#f22a34" stroke-width="0.6"/>
<circle cx="379.42" cy="711.54" r="1.05" fill="#c01420" stroke="#f22a34" stroke-width="0.6"/>
<circle cx="377.50" cy="718.85" r="1.05" fill="#c01420" stroke="#f22a34" stroke-width="0.6"/>
<circle cx="377.50" cy="725.00" r="1.05" fill="#c01420" stroke="#f22a34" stroke-width="0.6"/>
<circle cx="376.54" cy="728.46" r="1.05" fill="#c01420" stroke="#f22a34" stroke-width="0.6"/>
<circle cx="378.46" cy="730.77" r="1.05" fill="#c01420" stroke="#f22a34" stroke-width="0.6"/>
<circle cx="375.58" cy="732.69" r="1.05" fill="#c01420" stroke="#f22a34" stroke-width="0.6"/>
<circle cx="378.46" cy="734.62" r="1.05" fill="#c01420" stroke="#f22a34" stroke-width="0.6"/>
<circle cx="376.54" cy="736.92" r="1.05" fill="#c01420" stroke="#f22a34" stroke-width="0.6"/>
<circle cx="377.50" cy="740.77" r="1.05" fill="#c01420" stroke="#f22a34" stroke-width="0.6"/>
<circle cx="377.50" cy="750.96" r="1.05" fill="#c01420" stroke="#f22a34" stroke-width="0.6"/>
<circle cx="378.46" cy="757.69" r="1.05" fill="#c01420" stroke="#f22a34" stroke-width="0.6"/>
<circle cx="376.54" cy="762.50" r="1.05" fill="#c01420" stroke="#f22a34" stroke-width="0.6"/>
<circle cx="379.42" cy="763.46" r="1.05" fill="#c01420" stroke="#f22a34" stroke-width="0.6"/>
<circle cx="375.58" cy="766.35" r="1.05" fill="#c01420" stroke="#f22a34" stroke-width="0.6"/>
<circle cx="379.42" cy="766.35" r="1.05" fill="#c01420" stroke="#f22a34" stroke-width="0.6"/>
<circle cx="377.50" cy="769.23" r="1.05" fill="#c01420" stroke="#f22a34" stroke-width="0.6"/>
<circle cx="374.62" cy="772.69" r="1.05" fill="#c01420" stroke="#f22a34" stroke-width="0.6"/>
<circle cx="378.46" cy="773.46" r="1.05" fill="#c01420" stroke="#f22a34" stroke-width="0.6"/>
<circle cx="376.54" cy="775.96" r="1.05" fill="#c01420" stroke="#f22a34" stroke-width="0.6"/>
<circle cx="374.62" cy="779.81" r="1.05" fill="#c01420" stroke="#f22a34" stroke-width="0.6"/>
<circle cx="378.46" cy="780.77" r="1.05" fill="#c01420" stroke="#f22a34" stroke-width="0.6"/>
<circle cx="377.50" cy="783.65" r="1.05" fill="#c01420" stroke="#f22a34" stroke-width="0.6"/>
<circle cx="379.42" cy="787.50" r="1.05" fill="#c01420" stroke="#f22a34" stroke-width="0.6"/>
<circle cx="379.42" cy="794.23" r="1.05" fill="#c01420" stroke="#f22a34" stroke-width="0.6"/>
<circle cx="376.54" cy="798.08" r="1.05" fill="#c01420" stroke="#f22a34" stroke-width="0.6"/>
<circle cx="377.50" cy="801.54" r="1.05" fill="#c01420" stroke="#f22a34" stroke-width="0.6"/>
<circle cx="377.50" cy="806.15" r="1.05" fill="#c01420" stroke="#f22a34" stroke-width="0.6"/>
<circle cx="396.35" cy="711.54" r="1.05" fill="#181860" stroke="#4a4ab8" stroke-width="0.6"/>
<circle cx="396.35" cy="720.19" r="1.05" fill="#181860" stroke="#4a4ab8" stroke-width="0.6"/>
<circle cx="396.35" cy="735.00" r="1.05" fill="#181860" stroke="#4a4ab8" stroke-width="0.6"/>
<circle cx="396.35" cy="740.00" r="1.05" fill="#181860" stroke="#4a4ab8" stroke-width="0.6"/>
<circle cx="395.00" cy="744.62" r="1.05" fill="#181860" stroke="#4a4ab8" stroke-width="0.6"/>
<circle cx="397.31" cy="746.15" r="1.05" fill="#181860" stroke="#4a4ab8" stroke-width="0.6"/>
<circle cx="394.42" cy="749.04" r="1.05" fill="#181860" stroke="#4a4ab8" stroke-width="0.6"/>
<circle cx="397.69" cy="750.00" r="1.05" fill="#181860" stroke="#4a4ab8" stroke-width="0.6"/>
<circle cx="395.38" cy="752.88" r="1.05" fill="#181860" stroke="#4a4ab8" stroke-width="0.6"/>
<circle cx="397.31" cy="755.77" r="1.05" fill="#181860" stroke="#4a4ab8" stroke-width="0.6"/>
<circle cx="396.35" cy="759.62" r="1.05" fill="#181860" stroke="#4a4ab8" stroke-width="0.6"/>
<circle cx="394.42" cy="764.42" r="1.05" fill="#181860" stroke="#4a4ab8" stroke-width="0.6"/>
<circle cx="398.27" cy="763.46" r="1.05" fill="#181860" stroke="#4a4ab8" stroke-width="0.6"/>
<circle cx="393.46" cy="767.31" r="1.05" fill="#181860" stroke="#4a4ab8" stroke-width="0.6"/>
<circle cx="397.31" cy="767.31" r="1.05" fill="#181860" stroke="#4a4ab8" stroke-width="0.6"/>
<circle cx="400.19" cy="768.27" r="1.05" fill="#181860" stroke="#4a4ab8" stroke-width="0.6"/>
<circle cx="394.42" cy="771.15" r="1.05" fill="#181860" stroke="#4a4ab8" stroke-width="0.6"/>
<circle cx="398.27" cy="770.19" r="1.05" fill="#181860" stroke="#4a4ab8" stroke-width="0.6"/>
<circle cx="393.46" cy="775.96" r="1.05" fill="#181860" stroke="#4a4ab8" stroke-width="0.6"/>
<circle cx="397.31" cy="775.96" r="1.05" fill="#181860" stroke="#4a4ab8" stroke-width="0.6"/>
<circle cx="400.19" cy="776.92" r="1.05" fill="#181860" stroke="#4a4ab8" stroke-width="0.6"/>
<circle cx="394.42" cy="780.77" r="1.05" fill="#181860" stroke="#4a4ab8" stroke-width="0.6"/>
<circle cx="398.27" cy="780.77" r="1.05" fill="#181860" stroke="#4a4ab8" stroke-width="0.6"/>
<circle cx="392.50" cy="784.62" r="1.05" fill="#181860" stroke="#4a4ab8" stroke-width="0.6"/>
<circle cx="396.35" cy="785.58" r="1.05" fill="#181860" stroke="#4a4ab8" stroke-width="0.6"/>
<circle cx="400.19" cy="785.58" r="1.05" fill="#181860" stroke="#4a4ab8" stroke-width="0.6"/>
<circle cx="394.42" cy="788.46" r="1.05" fill="#181860" stroke="#4a4ab8" stroke-width="0.6"/>
<circle cx="398.27" cy="788.85" r="1.05" fill="#181860" stroke="#4a4ab8" stroke-width="0.6"/>
<circle cx="401.15" cy="789.42" r="1.05" fill="#181860" stroke="#4a4ab8" stroke-width="0.6"/>
<circle cx="393.46" cy="791.92" r="1.05" fill="#181860" stroke="#4a4ab8" stroke-width="0.6"/>
<circle cx="397.31" cy="792.31" r="1.05" fill="#181860" stroke="#4a4ab8" stroke-width="0.6"/>
<circle cx="401.15" cy="791.92" r="1.05" fill="#181860" stroke="#4a4ab8" stroke-width="0.6"/>
<circle cx="395.38" cy="795.19" r="1.05" fill="#181860" stroke="#4a4ab8" stroke-width="0.6"/>
<circle cx="399.23" cy="795.19" r="1.05" fill="#181860" stroke="#4a4ab8" stroke-width="0.6"/>
<circle cx="394.42" cy="803.85" r="1.05" fill="#181860" stroke="#4a4ab8" stroke-width="0.6"/>
<circle cx="398.27" cy="804.81" r="1.05" fill="#181860" stroke="#4a4ab8" stroke-width="0.6"/>
<circle cx="396.35" cy="808.65" r="1.05" fill="#181860" stroke="#4a4ab8" stroke-width="0.6"/>
<circle cx="396.35" cy="813.46" r="1.05" fill="#181860" stroke="#4a4ab8" stroke-width="0.6"/>
<circle cx="413.65" cy="790.77" r="1.05" fill="#181860" stroke="#4a4ab8" stroke-width="0.6"/>
<circle cx="417.50" cy="790.38" r="1.05" fill="#181860" stroke="#4a4ab8" stroke-width="0.6"/>
<circle cx="412.69" cy="793.85" r="1.05" fill="#181860" stroke="#4a4ab8" stroke-width="0.6"/>
<circle cx="416.92" cy="794.23" r="1.05" fill="#181860" stroke="#4a4ab8" stroke-width="0.6"/>
<circle cx="420.77" cy="793.85" r="1.05" fill="#181860" stroke="#4a4ab8" stroke-width="0.6"/>
<circle cx="414.23" cy="796.73" r="1.05" fill="#181860" stroke="#4a4ab8" stroke-width="0.6"/>
<circle cx="418.46" cy="797.12" r="1.05" fill="#181860" stroke="#4a4ab8" stroke-width="0.6"/>
<circle cx="411.73" cy="799.04" r="1.05" fill="#181860" stroke="#4a4ab8" stroke-width="0.6"/>
<circle cx="415.58" cy="800.00" r="1.05" fill="#181860" stroke="#4a4ab8" stroke-width="0.6"/>
<circle cx="419.42" cy="800.00" r="1.05" fill="#181860" stroke="#4a4ab8" stroke-width="0.6"/>
<circle cx="415.58" cy="761.15" r="1.05" fill="#181860" stroke="#4a4ab8" stroke-width="0.6"/>
<circle cx="415.58" cy="775.38" r="1.05" fill="#181860" stroke="#4a4ab8" stroke-width="0.6"/>
<circle cx="415.58" cy="779.81" r="1.05" fill="#181860" stroke="#4a4ab8" stroke-width="0.6"/>
<circle cx="415.58" cy="784.23" r="1.05" fill="#181860" stroke="#4a4ab8" stroke-width="0.6"/>
<circle cx="412.69" cy="789.42" r="1.05" fill="#181860" stroke="#4a4ab8" stroke-width="0.6"/>
<circle cx="416.54" cy="788.85" r="1.05" fill="#181860" stroke="#4a4ab8" stroke-width="0.6"/>
<circle cx="420.38" cy="789.42" r="1.05" fill="#181860" stroke="#4a4ab8" stroke-width="0.6"/>
<circle cx="410.77" cy="791.92" r="1.05" fill="#181860" stroke="#4a4ab8" stroke-width="0.6"/>
<circle cx="414.62" cy="792.31" r="1.05" fill="#181860" stroke="#4a4ab8" stroke-width="0.6"/>
<circle cx="418.46" cy="791.92" r="1.05" fill="#181860" stroke="#4a4ab8" stroke-width="0.6"/>
<circle cx="421.35" cy="792.31" r="1.05" fill="#181860" stroke="#4a4ab8" stroke-width="0.6"/>
<circle cx="411.73" cy="795.19" r="1.05" fill="#181860" stroke="#4a4ab8" stroke-width="0.6"/>
<circle cx="415.58" cy="795.77" r="1.05" fill="#181860" stroke="#4a4ab8" stroke-width="0.6"/>
<circle cx="419.42" cy="795.19" r="1.05" fill="#181860" stroke="#4a4ab8" stroke-width="0.6"/>
<circle cx="412.69" cy="798.08" r="1.05" fill="#181860" stroke="#4a4ab8" stroke-width="0.6"/>
<circle cx="416.54" cy="799.04" r="1.05" fill="#181860" stroke="#4a4ab8" stroke-width="0.6"/>
<circle cx="420.38" cy="798.08" r="1.05" fill="#181860" stroke="#4a4ab8" stroke-width="0.6"/>
<circle cx="413.65" cy="801.54" r="1.05" fill="#181860" stroke="#4a4ab8" stroke-width="0.6"/>
<circle cx="417.50" cy="801.54" r="1.05" fill="#181860" stroke="#4a4ab8" stroke-width="0.6"/>
<circle cx="410.77" cy="804.81" r="1.05" fill="#181860" stroke="#4a4ab8" stroke-width="0.6"/>
<circle cx="414.62" cy="805.38" r="1.05" fill="#181860" stroke="#4a4ab8" stroke-width="0.6"/>
<circle cx="418.46" cy="804.81" r="1.05" fill="#181860" stroke="#4a4ab8" stroke-width="0.6"/>
<circle cx="411.73" cy="808.08" r="1.05" fill="#181860" stroke="#4a4ab8" stroke-width="0.6"/>
<circle cx="415.58" cy="808.65" r="1.05" fill="#181860" stroke="#4a4ab8" stroke-width="0.6"/>
<circle cx="419.42" cy="808.08" r="1.05" fill="#181860" stroke="#4a4ab8" stroke-width="0.6"/>
<circle cx="431.92" cy="711.54" r="1.05" fill="#181860" stroke="#4a4ab8" stroke-width="0.6"/>
<circle cx="436.73" cy="711.54" r="1.05" fill="#181860" stroke="#4a4ab8" stroke-width="0.6"/>
<circle cx="430.96" cy="715.38" r="1.05" fill="#181860" stroke="#4a4ab8" stroke-width="0.6"/>
<circle cx="434.81" cy="715.00" r="1.05" fill="#181860" stroke="#4a4ab8" stroke-width="0.6"/>
<circle cx="438.65" cy="715.38" r="1.05" fill="#181860" stroke="#4a4ab8" stroke-width="0.6"/>
<circle cx="430.00" cy="721.54" r="1.05" fill="#181860" stroke="#4a4ab8" stroke-width="0.6"/>
<circle cx="433.85" cy="722.12" r="1.05" fill="#181860" stroke="#4a4ab8" stroke-width="0.6"/>
<circle cx="437.69" cy="722.69" r="1.05" fill="#181860" stroke="#4a4ab8" stroke-width="0.6"/>
<circle cx="432.88" cy="724.62" r="1.05" fill="#181860" stroke="#4a4ab8" stroke-width="0.6"/>
<circle cx="439.62" cy="723.08" r="1.05" fill="#181860" stroke="#4a4ab8" stroke-width="0.6"/>
<circle cx="434.81" cy="727.31" r="1.05" fill="#181860" stroke="#4a4ab8" stroke-width="0.6"/>
<circle cx="433.85" cy="731.73" r="1.05" fill="#181860" stroke="#4a4ab8" stroke-width="0.6"/>
<circle cx="437.69" cy="733.65" r="1.05" fill="#181860" stroke="#4a4ab8" stroke-width="0.6"/>
<circle cx="434.81" cy="736.54" r="1.05" fill="#181860" stroke="#4a4ab8" stroke-width="0.6"/>
<circle cx="437.69" cy="736.15" r="1.05" fill="#181860" stroke="#4a4ab8" stroke-width="0.6"/>
<circle cx="435.77" cy="740.77" r="1.05" fill="#181860" stroke="#4a4ab8" stroke-width="0.6"/>
<circle cx="434.81" cy="744.62" r="1.05" fill="#181860" stroke="#4a4ab8" stroke-width="0.6"/>
<circle cx="432.88" cy="763.46" r="1.05" fill="#181860" stroke="#4a4ab8" stroke-width="0.6"/>
<circle cx="436.73" cy="763.46" r="1.05" fill="#181860" stroke="#4a4ab8" stroke-width="0.6"/>
<circle cx="431.92" cy="771.15" r="1.05" fill="#181860" stroke="#4a4ab8" stroke-width="0.6"/>
<circle cx="435.77" cy="772.12" r="1.05" fill="#181860" stroke="#4a4ab8" stroke-width="0.6"/>
<circle cx="432.88" cy="775.96" r="1.05" fill="#181860" stroke="#4a4ab8" stroke-width="0.6"/>
<circle cx="437.69" cy="776.54" r="1.05" fill="#181860" stroke="#4a4ab8" stroke-width="0.6"/>
<circle cx="430.96" cy="778.85" r="1.05" fill="#181860" stroke="#4a4ab8" stroke-width="0.6"/>
<circle cx="434.81" cy="778.85" r="1.05" fill="#181860" stroke="#4a4ab8" stroke-width="0.6"/>
<circle cx="432.88" cy="781.73" r="1.05" fill="#181860" stroke="#4a4ab8" stroke-width="0.6"/>
<circle cx="437.69" cy="781.73" r="1.05" fill="#181860" stroke="#4a4ab8" stroke-width="0.6"/>
<circle cx="435.77" cy="784.62" r="1.05" fill="#181860" stroke="#4a4ab8" stroke-width="0.6"/>
<circle cx="430.96" cy="788.08" r="1.05" fill="#181860" stroke="#4a4ab8" stroke-width="0.6"/>
<circle cx="434.81" cy="788.46" r="1.05" fill="#181860" stroke="#4a4ab8" stroke-width="0.6"/>
<circle cx="438.65" cy="788.46" r="1.05" fill="#181860" stroke="#4a4ab8" stroke-width="0.6"/>
<circle cx="434.81" cy="797.69" r="1.05" fill="#181860" stroke="#4a4ab8" stroke-width="0.6"/>
<circle cx="430.96" cy="803.85" r="1.05" fill="#181860" stroke="#4a4ab8" stroke-width="0.6"/>
<circle cx="435.77" cy="804.81" r="1.05" fill="#181860" stroke="#4a4ab8" stroke-width="0.6"/>
<circle cx="438.65" cy="804.81" r="1.05" fill="#181860" stroke="#4a4ab8" stroke-width="0.6"/>
<circle cx="433.85" cy="807.69" r="1.05" fill="#181860" stroke="#4a4ab8" stroke-width="0.6"/>
<circle cx="436.73" cy="809.23" r="1.05" fill="#181860" stroke="#4a4ab8" stroke-width="0.6"/>
<circle cx="455.00" cy="711.15" r="1.05" fill="#181860" stroke="#4a4ab8" stroke-width="0.6"/>
<circle cx="455.00" cy="714.42" r="1.05" fill="#181860" stroke="#4a4ab8" stroke-width="0.6"/>
<circle cx="454.04" cy="719.23" r="1.05" fill="#181860" stroke="#4a4ab8" stroke-width="0.6"/>
<circle cx="455.96" cy="724.62" r="1.05" fill="#181860" stroke="#4a4ab8" stroke-width="0.6"/>
<circle cx="453.08" cy="725.38" r="1.05" fill="#181860" stroke="#4a4ab8" stroke-width="0.6"/>
<circle cx="451.15" cy="733.08" r="1.05" fill="#181860" stroke="#4a4ab8" stroke-width="0.6"/>
<circle cx="455.96" cy="735.58" r="1.05" fill="#181860" stroke="#4a4ab8" stroke-width="0.6"/>
<circle cx="458.85" cy="733.65" r="1.05" fill="#181860" stroke="#4a4ab8" stroke-width="0.6"/>
<circle cx="456.92" cy="741.92" r="1.05" fill="#181860" stroke="#4a4ab8" stroke-width="0.6"/>
<circle cx="453.08" cy="745.77" r="1.05" fill="#181860" stroke="#4a4ab8" stroke-width="0.6"/>
<circle cx="455.00" cy="753.85" r="1.05" fill="#181860" stroke="#4a4ab8" stroke-width="0.6"/>
<circle cx="452.12" cy="757.31" r="1.05" fill="#181860" stroke="#4a4ab8" stroke-width="0.6"/>
<circle cx="456.92" cy="756.73" r="1.05" fill="#181860" stroke="#4a4ab8" stroke-width="0.6"/>
<circle cx="454.04" cy="759.62" r="1.05" fill="#181860" stroke="#4a4ab8" stroke-width="0.6"/>
<circle cx="457.88" cy="760.58" r="1.05" fill="#181860" stroke="#4a4ab8" stroke-width="0.6"/>
<circle cx="452.12" cy="763.46" r="1.05" fill="#181860" stroke="#4a4ab8" stroke-width="0.6"/>
<circle cx="455.96" cy="763.85" r="1.05" fill="#181860" stroke="#4a4ab8" stroke-width="0.6"/>
<circle cx="453.08" cy="766.35" r="1.05" fill="#181860" stroke="#4a4ab8" stroke-width="0.6"/>
<circle cx="456.92" cy="767.31" r="1.05" fill="#181860" stroke="#4a4ab8" stroke-width="0.6"/>
<circle cx="452.12" cy="770.19" r="1.05" fill="#181860" stroke="#4a4ab8" stroke-width="0.6"/>
<circle cx="455.96" cy="770.19" r="1.05" fill="#181860" stroke="#4a4ab8" stroke-width="0.6"/>
<circle cx="453.08" cy="777.88" r="1.05" fill="#181860" stroke="#4a4ab8" stroke-width="0.6"/>
<circle cx="456.92" cy="778.85" r="1.05" fill="#181860" stroke="#4a4ab8" stroke-width="0.6"/>
<circle cx="452.12" cy="780.77" r="1.05" fill="#181860" stroke="#4a4ab8" stroke-width="0.6"/>
<circle cx="455.96" cy="781.73" r="1.05" fill="#181860" stroke="#4a4ab8" stroke-width="0.6"/>
<circle cx="455.00" cy="784.62" r="1.05" fill="#181860" stroke="#4a4ab8" stroke-width="0.6"/>
<circle cx="452.12" cy="787.50" r="1.05" fill="#181860" stroke="#4a4ab8" stroke-width="0.6"/>
<circle cx="455.96" cy="788.08" r="1.05" fill="#181860" stroke="#4a4ab8" stroke-width="0.6"/>
<circle cx="457.88" cy="790.38" r="1.05" fill="#181860" stroke="#4a4ab8" stroke-width="0.6"/>
<circle cx="453.08" cy="792.31" r="1.05" fill="#181860" stroke="#4a4ab8" stroke-width="0.6"/>
<circle cx="456.92" cy="792.69" r="1.05" fill="#181860" stroke="#4a4ab8" stroke-width="0.6"/>
<circle cx="452.12" cy="798.08" r="1.05" fill="#181860" stroke="#4a4ab8" stroke-width="0.6"/>
<circle cx="455.96" cy="799.04" r="1.05" fill="#181860" stroke="#4a4ab8" stroke-width="0.6"/>
<circle cx="455.00" cy="804.81" r="1.05" fill="#181860" stroke="#4a4ab8" stroke-width="0.6"/>
<line x1="313.00" y1="771.50" x2="326.20" y2="771.50" stroke="#1a1a1a" stroke-width="1.35"/>
<line x1="332.00" y1="795.20" x2="345.40" y2="795.20" stroke="#1a1a1a" stroke-width="1.35"/>
<line x1="351.50" y1="760.60" x2="365.00" y2="760.60" stroke="#1a1a1a" stroke-width="1.35"/>
<line x1="370.80" y1="761.20" x2="383.80" y2="761.20" stroke="#1a1a1a" stroke-width="1.35"/>
<line x1="390.60" y1="772.70" x2="403.50" y2="772.70" stroke="#1a1a1a" stroke-width="1.35"/>
<line x1="409.20" y1="795.20" x2="422.30" y2="795.20" stroke="#1a1a1a" stroke-width="1.35"/>
<line x1="429.00" y1="760.00" x2="441.90" y2="760.00" stroke="#1a1a1a" stroke-width="1.35"/>
<line x1="448.30" y1="763.10" x2="461.20" y2="763.10" stroke="#1a1a1a" stroke-width="1.35"/>
<text x="0" y="0" font-size="8.2" fill="#1e1e1e" stroke="#1e1e1e" style="stroke-width:0.3px" textLength="21.41" lengthAdjust="spacingAndGlyphs" transform="translate(312.60,822.30) rotate(39)">control</text>
<text x="0" y="0" font-size="8.2" fill="#1e1e1e" stroke="#1e1e1e" style="stroke-width:0.3px" textLength="28.15" lengthAdjust="spacingAndGlyphs" transform="translate(331.80,822.80) rotate(39)">anti-CD3</text>
<text x="0" y="0" font-size="8.2" fill="#1e1e1e" stroke="#1e1e1e" style="stroke-width:0.3px" textLength="38.46" lengthAdjust="spacingAndGlyphs" transform="translate(353.30,823.30) rotate(39)">anti-CTLA-4</text>
<text x="0" y="0" font-size="8.2" fill="#1e1e1e" stroke="#1e1e1e" style="stroke-width:0.3px" textLength="54.71" lengthAdjust="spacingAndGlyphs" transform="translate(374.10,822.80) rotate(39)">anti-CD3/CTLA-4</text>
<text x="0" y="0" font-size="8.2" fill="#1e1e1e" stroke="#1e1e1e" style="stroke-width:0.3px" textLength="21.41" lengthAdjust="spacingAndGlyphs" transform="translate(395.10,823.30) rotate(39)">control</text>
<text x="0" y="0" font-size="8.2" fill="#1e1e1e" stroke="#1e1e1e" style="stroke-width:0.3px" textLength="28.15" lengthAdjust="spacingAndGlyphs" transform="translate(414.10,823.30) rotate(39)">anti-CD3</text>
<text x="0" y="0" font-size="8.2" fill="#1e1e1e" stroke="#1e1e1e" style="stroke-width:0.3px" textLength="38.46" lengthAdjust="spacingAndGlyphs" transform="translate(433.60,822.80) rotate(39)">anti-CTLA-4</text>
<text x="0" y="0" font-size="8.2" fill="#1e1e1e" stroke="#1e1e1e" style="stroke-width:0.3px" textLength="54.71" lengthAdjust="spacingAndGlyphs" transform="translate(457.60,823.30) rotate(39)">anti-CD3/CTLA-4</text>
<line x1="333.80" y1="653.00" x2="361.30" y2="653.00" stroke="#3a3a3a" stroke-width="1.1"/>
<text x="326.30" y="650.00" font-size="8.6" text-anchor="start" fill="#1e1e1e" stroke="#1e1e1e" textLength="35.00" lengthAdjust="spacingAndGlyphs" >P&lt;0.0001</text>
<line x1="313.80" y1="668.00" x2="379.50" y2="668.00" stroke="#3a3a3a" stroke-width="1.1"/>
<text x="326.30" y="663.80" font-size="8.6" text-anchor="start" fill="#1e1e1e" stroke="#1e1e1e" textLength="35.00" lengthAdjust="spacingAndGlyphs" >P=0.0401</text>
<line x1="316.30" y1="683.30" x2="361.30" y2="683.30" stroke="#3a3a3a" stroke-width="1.1"/>
<text x="322.50" y="679.30" font-size="8.6" text-anchor="start" fill="#1e1e1e" stroke="#1e1e1e" textLength="37.50" lengthAdjust="spacingAndGlyphs" >P=0.0367</text>
<line x1="317.00" y1="698.00" x2="340.00" y2="698.00" stroke="#3a3a3a" stroke-width="1.1"/>
<text x="306.30" y="694.30" font-size="8.6" text-anchor="start" fill="#1e1e1e" stroke="#1e1e1e" textLength="36.20" lengthAdjust="spacingAndGlyphs" >P&lt;0.0001</text>
<line x1="414.50" y1="653.80" x2="442.50" y2="653.80" stroke="#3a3a3a" stroke-width="1.1"/>
<text x="407.00" y="650.00" font-size="8.6" text-anchor="start" fill="#1e1e1e" stroke="#1e1e1e" textLength="36.00" lengthAdjust="spacingAndGlyphs" >P&lt;0.0001</text>
<line x1="392.50" y1="668.80" x2="457.50" y2="668.80" stroke="#3a3a3a" stroke-width="1.1"/>
<text x="403.80" y="664.30" font-size="8.6" text-anchor="start" fill="#1e1e1e" stroke="#1e1e1e" textLength="36.20" lengthAdjust="spacingAndGlyphs" >P=0.0850</text>
<line x1="392.00" y1="683.30" x2="438.00" y2="683.30" stroke="#3a3a3a" stroke-width="1.1"/>
<text x="399.50" y="679.30" font-size="8.6" text-anchor="start" fill="#1e1e1e" stroke="#1e1e1e" textLength="36.80" lengthAdjust="spacingAndGlyphs" >P=0.0405</text>
<line x1="392.00" y1="698.00" x2="415.00" y2="698.00" stroke="#3a3a3a" stroke-width="1.1"/>
<text x="382.00" y="694.30" font-size="8.6" text-anchor="start" fill="#1e1e1e" stroke="#1e1e1e" textLength="35.00" lengthAdjust="spacingAndGlyphs" >P&lt;0.0001</text>
</svg>
</body></html>
